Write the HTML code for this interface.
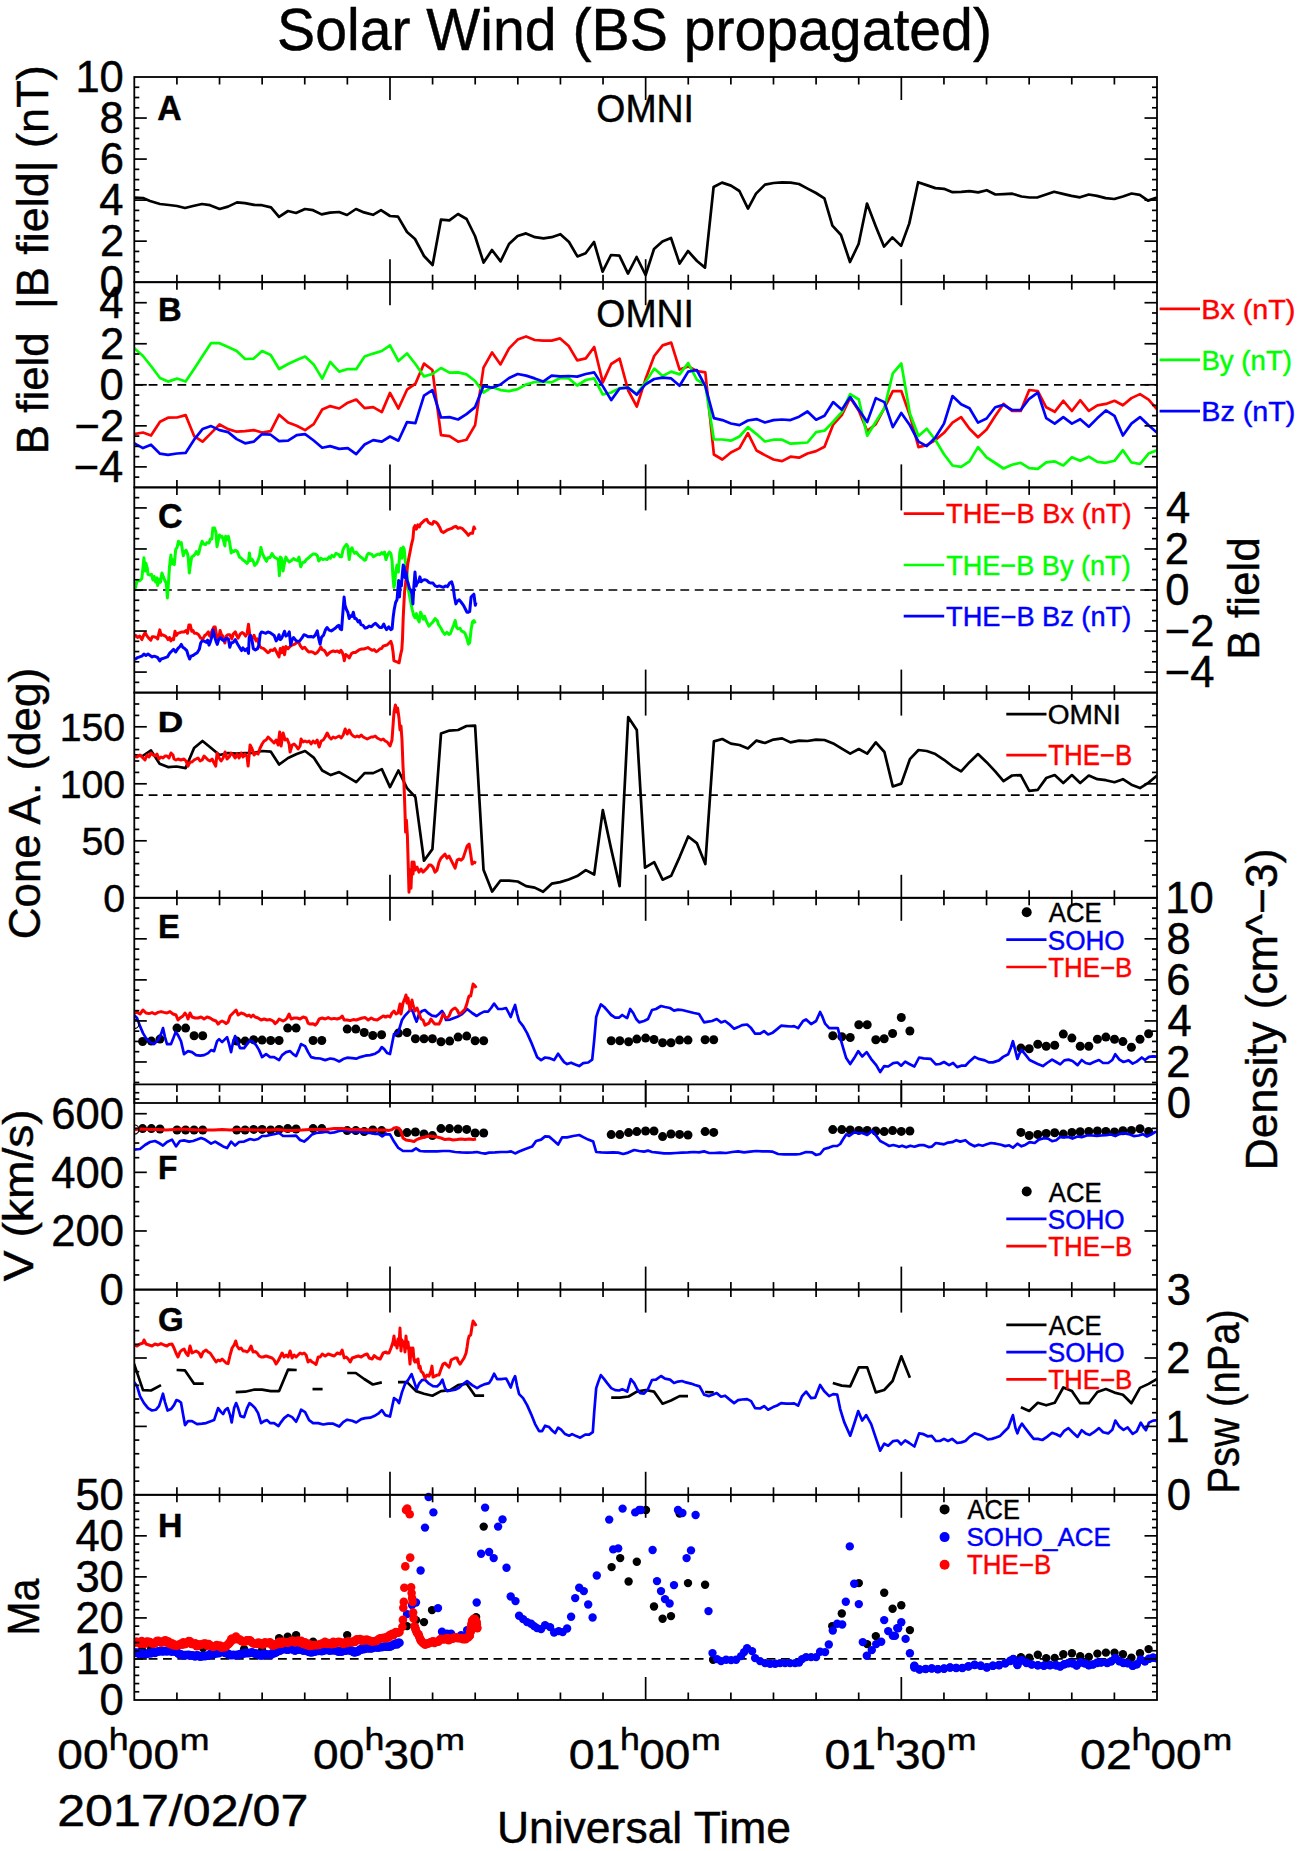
<!DOCTYPE html><html><head><meta charset="utf-8"><style>html,body{margin:0;padding:0;background:#fff;overflow:hidden;width:1299px;height:1851px;}svg{display:block;}text{font-family:"Liberation Sans",sans-serif;}</style></head><body>
<svg width="1299" height="1851" viewBox="0 0 1299 1851">
<rect width="1299" height="1851" fill="#fff"/>
<defs><clipPath id="cp"><rect x="134.3" y="77" width="1022.70" height="1623"/></clipPath></defs>
<line x1="134.30" y1="384.80" x2="1157.00" y2="384.80" stroke="#000" stroke-width="1.7" stroke-dasharray="8.8,5.57"/>
<line x1="134.30" y1="590.00" x2="1157.00" y2="590.00" stroke="#000" stroke-width="1.7" stroke-dasharray="8.8,5.57"/>
<line x1="134.30" y1="795.20" x2="1157.00" y2="795.20" stroke="#000" stroke-width="1.7" stroke-dasharray="8.8,5.57"/>
<line x1="134.30" y1="1658.96" x2="1157.00" y2="1658.96" stroke="#000" stroke-width="1.7" stroke-dasharray="8.8,5.57"/>
<g clip-path="url(#cp)">
<polyline points="134.0,197.6 143.0,198.0 150.0,201.0 160.0,204.0 169.0,205.0 177.0,206.0 185.0,208.0 193.0,206.0 202.0,204.0 210.0,205.2 219.6,209.0 228.0,206.6 237.0,202.4 245.0,203.2 254.0,204.8 262.0,205.2 271.0,207.4 279.0,216.8 288.0,211.0 296.0,213.0 305.0,209.0 313.0,210.2 321.6,214.4 330.0,212.6 339.0,212.0 347.0,215.0 356.0,209.0 364.0,212.4 373.0,214.8 381.0,210.2 390.0,216.0 398.0,216.6 407.0,232.0 415.0,239.0 424.0,256.0 432.6,265.0 441.0,219.6 449.4,220.4 458.0,214.0 466.6,219.0 475.0,236.0 483.6,262.6 492.0,250.0 500.6,261.4 509.0,244.0 517.6,236.0 526.0,233.4 535.0,237.2 543.6,238.4 551.6,237.2 560.4,234.2 569.0,242.0 577.4,256.4 585.6,253.2 594.0,242.0 602.6,271.6 611.0,255.0 619.4,255.6 628.0,273.6 636.6,257.0 645.6,275.0 654.0,249.0 662.4,241.6 671.0,238.0 679.6,263.6 688.0,251.0 697.0,261.0 705.0,267.6 713.6,187.0 722.0,182.6 731.0,185.6 739.4,191.0 748.0,208.6 756.0,193.6 765.0,184.6 773.6,183.0 782.0,182.4 790.6,182.6 799.0,184.0 807.6,188.6 816.0,193.0 824.4,198.4 832.4,225.6 841.0,235.0 850.0,262.0 858.6,244.0 867.0,203.6 876.0,227.0 884.0,246.6 892.4,237.4 901.1,245.9 909.3,223.4 918.1,182.2 926.6,185.1 935.4,188.1 944.0,188.8 952.5,192.2 961.3,191.8 969.5,191.2 978.2,192.4 986.8,190.2 995.4,194.5 1004.1,194.1 1012.3,193.7 1021.5,196.5 1029.6,197.5 1037.8,197.3 1046.0,194.5 1054.1,191.8 1062.9,193.9 1071.5,195.9 1080.0,197.3 1088.8,194.5 1097.0,195.9 1105.7,198.1 1114.3,199.0 1122.9,196.5 1131.6,193.5 1139.8,194.9 1148.0,200.6 1157.0,197.5" fill="none" stroke="#000" stroke-width="2.7" stroke-linejoin="round" stroke-linecap="butt" />
<polyline points="134.0,434.1 143.0,432.5 151.0,435.5 160.0,421.7 168.0,417.7 177.0,417.5 185.6,415.1 194.1,436.1 202.5,441.7 211.1,433.1 219.5,424.5 228.1,429.1 236.7,431.7 245.1,431.1 253.7,430.1 262.1,432.5 270.7,431.1 279.1,414.7 288.1,422.5 296.7,425.7 305.1,430.1 313.7,424.1 322.2,409.5 330.2,406.1 339.2,408.5 347.8,402.7 356.2,399.5 364.6,408.1 373.2,407.1 381.8,412.1 390.0,392.9 398.4,408.5 407.0,389.7 415.4,383.7 424.0,363.6 432.4,370.0 441.0,435.1 449.5,436.1 458.1,441.7 466.5,439.7 475.1,425.1 483.5,367.6 492.1,352.4 500.5,364.4 509.1,348.4 517.7,339.6 526.1,336.4 534.7,340.0 543.1,340.6 551.7,340.6 560.1,338.4 568.7,346.0 577.2,360.4 585.8,358.4 594.2,347.0 602.8,382.4 611.2,364.0 619.6,358.6 628.2,390.5 636.8,406.5 645.3,379.8 654.2,356.0 662.6,345.4 671.2,342.6 679.6,369.6 688.2,366.4 696.8,371.0 705.3,372.4 713.9,454.5 722.3,459.5 730.9,452.5 739.5,448.1 747.9,433.1 756.5,450.5 764.9,455.1 773.5,459.5 782.1,461.1 790.5,456.7 799.1,457.7 807.5,453.5 816.1,451.1 824.5,446.7 833.2,424.5 841.8,415.1 850.2,397.7 858.8,410.7 867.2,431.1 875.8,424.1 884.4,408.1 892.8,391.1 901.3,391.0 909.9,415.5 918.5,447.1 926.8,445.1 935.4,440.0 944.0,432.8 952.5,422.6 961.1,417.1 969.5,428.7 978.0,437.3 986.6,429.4 995.2,415.9 1003.5,403.9 1012.1,411.0 1020.7,411.0 1029.2,390.0 1037.8,391.0 1046.2,407.3 1054.7,411.8 1063.3,400.8 1071.9,411.0 1080.2,400.2 1088.8,410.8 1097.4,405.3 1105.9,403.9 1114.5,400.8 1122.9,405.3 1131.4,398.1 1140.0,394.1 1148.6,399.6 1157.1,409.4" fill="none" stroke="#ff0000" stroke-width="2.7" stroke-linejoin="round" stroke-linecap="butt" />
<polyline points="134.0,348.0 143.0,356.0 151.0,366.0 160.0,378.0 168.0,381.6 177.0,378.6 185.6,381.6 194.1,369.0 202.5,356.0 211.1,343.0 219.5,343.2 228.1,347.0 236.7,351.0 245.1,359.0 253.7,358.6 262.1,351.0 270.7,355.0 279.1,369.0 288.1,364.0 296.7,360.0 305.1,356.6 313.7,364.4 322.2,378.6 330.2,362.0 339.2,371.6 347.8,369.0 356.2,369.2 364.6,356.6 373.2,353.6 381.8,351.0 390.0,345.3 398.4,361.0 407.0,353.4 415.4,364.0 424.0,376.4 432.4,374.0 441.0,368.0 449.5,372.6 458.1,372.4 466.5,374.4 475.1,381.0 483.5,392.5 492.1,387.1 500.5,390.1 509.1,391.1 517.7,389.1 526.1,384.5 534.7,382.0 543.1,381.6 551.7,382.4 560.1,378.0 568.7,378.4 577.2,385.5 585.8,380.0 594.2,378.4 602.8,394.5 611.2,392.5 619.6,388.1 628.2,387.7 636.8,394.1 645.3,382.6 654.2,368.6 662.6,376.0 671.2,371.6 679.6,374.4 688.2,363.0 696.8,379.6 705.3,385.1 713.9,439.5 722.3,439.5 730.9,440.7 739.5,436.5 747.9,427.1 756.5,434.1 764.9,441.5 773.5,439.7 782.1,439.7 790.5,443.7 799.1,443.1 807.5,442.5 816.1,432.1 824.5,430.7 833.2,421.7 841.8,412.1 850.2,394.1 858.8,399.5 867.2,435.7 875.8,421.7 884.4,408.1 892.8,373.4 901.3,363.5 909.9,413.4 918.5,435.9 926.8,428.7 935.4,440.0 944.0,454.2 952.5,465.5 961.1,466.9 969.5,461.4 978.0,447.1 986.6,457.3 995.2,463.0 1003.5,468.5 1012.1,464.8 1020.7,462.8 1029.2,468.1 1037.8,468.9 1046.2,462.4 1054.7,461.4 1063.3,465.5 1071.9,457.3 1080.2,460.8 1088.8,456.7 1097.4,461.8 1105.9,462.8 1114.5,460.8 1122.9,450.2 1131.4,462.4 1140.0,464.0 1148.6,453.6 1157.1,450.2" fill="none" stroke="#00ff00" stroke-width="2.7" stroke-linejoin="round" stroke-linecap="butt" />
<polyline points="134.0,443.1 143.0,448.1 151.0,444.7 160.0,453.7 168.0,454.9 177.0,453.5 185.6,452.9 194.1,439.7 202.5,429.1 211.1,426.1 219.5,430.1 228.1,432.1 236.7,439.1 245.1,443.3 253.7,441.7 262.1,434.1 270.7,434.7 279.1,441.1 288.1,440.7 296.7,435.1 305.1,434.1 313.7,440.5 322.2,447.7 330.2,446.1 339.2,448.9 347.8,448.1 356.2,454.1 364.6,444.5 373.2,440.1 381.8,441.7 390.0,436.5 398.4,440.7 407.0,422.1 415.4,423.1 424.0,395.7 432.4,390.1 441.0,417.5 449.5,417.1 458.1,419.5 466.5,414.1 475.1,407.1 483.5,386.1 492.1,387.7 500.5,384.5 509.1,378.0 517.7,374.0 526.1,375.6 534.7,378.4 543.1,381.6 551.7,375.6 560.1,376.4 568.7,376.0 577.2,376.6 585.8,374.0 594.2,372.4 602.8,386.1 611.2,400.1 619.6,388.5 628.2,387.7 636.8,394.7 645.3,384.5 654.2,379.0 662.6,377.6 671.2,378.4 679.6,385.7 688.2,371.6 696.8,370.0 705.3,386.1 713.9,418.1 722.3,420.1 730.9,423.5 739.5,425.1 747.9,420.5 756.5,419.1 764.9,422.5 773.5,420.1 782.1,419.5 790.5,420.1 799.1,416.7 807.5,411.5 816.1,419.7 824.5,415.7 833.2,402.1 841.8,409.7 850.2,397.1 858.8,409.7 867.2,422.1 875.8,398.1 884.4,402.1 892.8,427.1 901.3,413.0 909.9,425.3 918.5,441.6 926.8,446.1 935.4,437.5 944.0,423.6 952.5,396.1 961.1,404.3 969.5,408.3 978.0,422.6 986.6,418.5 995.2,407.3 1003.5,404.9 1012.1,410.0 1020.7,410.0 1029.2,398.8 1037.8,392.6 1046.2,418.1 1054.7,423.6 1063.3,417.1 1071.9,423.6 1080.2,419.2 1088.8,426.7 1097.4,418.1 1105.9,410.4 1114.5,415.9 1122.9,435.5 1131.4,423.6 1140.0,417.1 1148.6,425.3 1157.1,432.8" fill="none" stroke="#0000ff" stroke-width="2.7" stroke-linejoin="round" stroke-linecap="butt" />
<polyline points="133.5,582.1 135.5,587.6 136.9,581.4 139.7,580.7 141.8,578.6 143.2,565.4 143.9,557.8 145.0,571.0 145.9,563.3 147.3,568.2 148.0,574.4 150.1,575.1 151.5,574.4 152.9,580.0 154.2,576.5 155.6,582.1 157.0,577.9 157.7,585.5 159.1,579.3 160.5,582.1 161.9,573.0 163.3,576.5 164.6,580.0 166.3,583.4 167.4,598.0 168.5,582.1 169.5,566.8 170.9,555.0 171.6,564.0 173.0,559.9 174.3,564.7 175.7,549.5 177.1,547.4 178.5,541.2 179.9,543.9 181.3,542.6 182.4,550.2 183.3,555.7 184.7,551.6 186.1,550.2 187.5,553.6 188.2,557.1 189.3,573.0 190.3,565.4 191.7,557.1 193.7,555.7 195.1,554.1 196.5,551.6 197.9,554.3 198.9,553.0 200.0,547.4 201.4,543.3 202.1,541.2 203.4,543.9 205.5,544.6 206.9,542.6 209.0,543.0 210.4,539.1 211.8,539.1 212.9,528.0 214.5,528.0 215.9,532.2 217.0,546.7 218.0,541.9 219.4,534.9 220.8,537.0 222.1,536.3 223.5,540.5 224.9,546.0 225.6,536.3 227.0,539.8 228.4,536.3 229.8,543.3 231.2,553.0 232.5,550.9 233.9,551.6 235.3,550.2 237.4,551.6 239.5,557.1 240.8,557.8 242.9,559.9 245.0,561.3 247.1,563.3 248.5,561.3 249.4,553.0 250.5,560.6 251.9,559.2 253.3,561.3 254.7,565.4 256.8,563.3 258.2,559.9 259.6,555.7 260.9,547.4 262.3,553.0 264.4,557.8 266.5,561.3 267.9,557.8 269.9,557.8 272.0,553.6 274.1,557.1 276.9,558.5 278.3,559.9 279.4,575.8 280.3,557.1 281.7,558.5 283.1,571.0 284.5,562.7 285.9,557.1 287.3,559.9 289.3,562.0 291.4,560.6 293.5,558.5 295.6,559.9 297.7,560.6 299.0,557.1 300.7,566.8 302.5,562.7 304.6,562.0 306.7,559.2 308.7,557.8 311.1,555.4 313.2,554.0 315.2,554.0 317.3,555.4 318.7,561.0 320.8,558.2 322.9,559.6 324.9,558.9 327.0,559.6 329.1,556.8 330.5,558.2 331.9,555.4 333.9,556.8 336.0,553.3 337.4,554.0 338.8,554.7 340.2,556.8 341.6,556.8 343.0,549.9 344.3,547.1 346.4,544.3 347.8,546.4 349.2,559.6 350.6,549.9 352.0,547.8 353.3,551.3 354.7,553.3 356.1,552.0 358.2,554.7 360.3,556.8 362.4,558.2 364.4,560.3 365.8,559.6 367.2,554.7 368.6,553.3 370.7,554.0 372.1,554.7 373.4,556.8 375.5,555.4 376.9,554.7 378.3,554.0 379.7,554.7 381.8,552.7 383.1,554.0 384.5,552.0 385.9,559.6 388.0,554.0 389.4,552.0 390.8,553.3 392.1,561.0 392.8,574.8 393.9,587.3 394.9,583.1 395.6,572.1 397.0,565.1 398.4,572.1 399.8,552.7 400.9,548.5 401.8,558.2 403.2,547.1 404.2,549.2 405.3,561.0 406.7,569.3 408.1,588.7 409.5,595.6 410.8,602.5 412.2,609.5 413.6,615.0 415.0,617.8 416.4,613.6 417.8,619.2 419.2,621.9 420.5,612.2 421.9,615.0 423.3,619.2 424.7,616.4 426.1,620.5 427.5,623.3 428.9,626.1 430.9,624.0 433.0,621.9 435.1,618.5 437.2,620.5 438.6,624.7 440.6,627.5 442.7,631.6 444.8,634.4 446.9,632.3 449.0,634.4 450.3,633.7 452.4,628.2 453.8,624.7 455.2,620.5 456.6,627.5 458.0,628.9 460.0,628.2 461.4,630.9 462.8,631.6 464.9,633.0 467.0,638.6 468.4,644.1 469.7,642.7 471.1,629.6 472.5,621.9 473.9,620.5 475.3,623.3" fill="none" stroke="#00ff00" stroke-width="3.0" stroke-linejoin="round" stroke-linecap="butt" />
<polyline points="133.5,636.8 135.5,635.4 137.6,637.5 139.7,636.1 141.8,639.6 143.9,634.7 145.2,632.6 146.6,635.4 148.7,638.2 150.8,640.2 152.2,636.8 154.2,636.8 156.3,637.5 157.7,638.9 159.1,632.6 159.8,629.9 161.2,635.4 162.6,634.7 163.9,635.4 165.3,636.1 166.7,637.5 168.1,639.6 169.5,637.5 170.9,640.9 172.3,638.9 173.6,639.6 175.0,631.2 176.4,635.4 177.8,633.3 179.9,632.6 182.0,631.9 184.0,631.9 186.1,630.5 187.5,633.3 188.9,625.0 190.3,625.0 191.7,631.2 193.0,630.5 194.4,633.3 196.5,633.3 198.6,634.7 200.7,638.2 202.7,638.9 204.8,635.4 206.2,634.7 208.3,631.9 209.7,636.1 211.1,633.3 212.4,629.9 213.8,627.1 215.2,627.1 216.6,636.1 218.7,638.9 220.1,630.5 221.5,634.7 222.8,636.1 224.9,643.0 226.3,636.1 227.7,634.7 229.8,634.7 231.8,638.9 233.2,634.0 235.3,631.9 236.7,635.4 238.1,638.2 240.2,634.0 242.2,632.6 243.6,633.3 245.7,636.1 247.1,633.3 248.5,624.3 249.9,636.1 251.2,636.8 252.6,638.2 254.0,635.4 256.1,640.9 257.5,638.9 259.6,646.5 261.6,647.9 263.7,648.6 265.8,650.6 267.9,652.7 269.3,652.0 270.6,649.9 272.7,650.6 274.8,648.6 276.9,652.7 279.0,656.9 280.3,648.6 281.7,652.7 283.1,647.2 284.5,654.8 285.9,646.5 288.0,648.6 290.0,646.5 292.1,645.1 294.2,644.4 296.3,643.0 298.4,641.6 300.4,645.8 302.5,648.6 304.6,647.2 306.7,649.9 308.7,652.0 311.1,651.7 313.2,652.4 315.2,653.8 317.3,652.4 319.4,649.6 320.8,646.9 322.2,649.6 324.2,650.3 325.6,652.4 327.0,655.2 329.1,653.1 331.2,651.7 333.3,651.0 335.3,651.7 337.4,651.0 339.5,652.4 340.9,650.3 342.3,652.4 343.6,656.6 344.3,660.7 345.7,654.5 347.8,655.9 349.2,658.0 351.3,653.8 353.3,652.4 355.4,652.4 357.5,651.0 359.6,649.6 361.7,649.0 363.7,649.0 365.8,648.3 367.9,647.6 370.0,649.0 372.1,650.3 374.1,649.6 376.2,651.7 377.6,651.0 379.7,649.0 381.8,648.3 383.1,646.2 385.2,645.5 387.3,644.8 389.4,642.7 390.8,641.3 392.1,645.5 393.1,652.4 393.9,660.7 395.6,661.4 397.7,662.1 399.1,662.8 400.5,655.2 401.8,649.6 402.5,638.6 403.2,617.8 403.9,603.9 404.6,591.5 405.6,583.1 406.7,573.4 407.8,563.7 408.8,558.2 410.2,551.3 411.5,544.3 412.9,538.8 413.9,527.7 415.0,525.6 416.4,529.1 417.8,524.9 419.2,527.0 420.5,524.2 422.6,522.2 424.7,520.1 426.8,519.4 428.2,522.2 430.2,523.6 432.3,524.2 433.7,521.5 435.8,522.2 437.9,524.2 439.9,527.7 441.3,531.2 443.4,532.6 445.5,531.2 447.6,529.8 449.6,529.1 451.7,528.4 453.8,527.0 455.9,526.3 458.0,528.4 460.0,527.7 462.1,528.4 464.2,530.5 466.3,532.6 468.4,535.3 470.4,533.3 472.5,533.3 473.9,527.0 475.3,529.8" fill="none" stroke="#ff0000" stroke-width="3.0" stroke-linejoin="round" stroke-linecap="butt" />
<polyline points="133.5,659.0 135.5,659.0 137.6,657.6 139.7,656.9 141.8,656.2 143.9,654.1 145.9,655.5 148.0,654.1 150.1,655.5 152.2,656.9 154.2,656.2 156.3,656.9 157.7,657.6 159.8,661.0 161.2,659.0 163.3,658.3 165.3,657.6 167.4,656.9 169.5,653.4 171.6,651.3 173.6,649.3 175.7,652.0 177.8,648.6 179.9,646.5 181.3,644.4 182.7,647.2 184.7,648.6 186.8,650.6 188.2,655.5 189.6,659.0 191.0,656.2 193.0,655.5 195.1,654.1 197.2,652.7 199.3,649.3 200.7,643.0 202.1,640.9 204.1,640.9 206.2,642.3 207.6,640.2 209.0,645.1 210.4,641.6 211.8,636.8 213.1,629.9 214.5,636.1 215.9,640.9 217.3,644.4 218.7,639.6 220.8,637.5 222.1,639.6 224.2,640.9 226.3,638.2 228.4,638.9 229.8,647.2 231.2,643.0 233.2,642.3 235.3,639.6 237.4,643.7 239.5,647.2 241.5,650.6 242.9,647.9 245.0,650.6 247.1,648.6 248.5,653.4 249.2,637.5 250.5,635.4 251.9,639.6 253.3,648.6 255.4,649.9 257.5,648.6 258.9,645.1 260.2,634.0 261.6,631.9 263.7,632.6 265.8,633.3 267.9,631.9 269.9,632.6 272.0,634.0 274.1,635.4 276.2,640.9 277.6,638.9 279.0,634.7 280.3,639.6 281.7,638.2 283.1,634.7 284.5,631.2 285.9,636.1 288.0,634.7 289.3,631.9 290.7,645.1 292.1,639.6 293.5,637.5 295.6,640.2 297.7,641.6 299.7,640.9 301.8,638.2 303.9,634.7 306.0,635.4 308.1,636.8 311.1,636.5 313.2,637.2 315.2,635.1 317.3,630.9 318.7,638.6 320.1,644.1 321.5,637.2 323.6,635.1 325.6,629.6 327.0,627.5 329.1,630.2 331.2,630.9 333.3,629.6 335.3,628.2 337.4,626.1 338.8,625.4 340.2,628.9 341.6,629.6 343.0,610.8 344.1,597.0 345.0,605.3 346.4,609.5 347.8,612.2 349.2,618.5 350.6,615.7 352.0,616.4 353.3,612.2 354.7,618.5 356.1,618.5 358.2,621.9 359.6,620.5 361.0,624.7 363.0,625.4 365.1,628.2 367.2,627.5 369.3,626.1 371.4,626.8 373.4,624.7 375.5,623.3 377.6,625.4 379.7,627.5 381.8,627.5 383.8,624.0 385.2,627.5 386.6,629.6 388.7,626.8 390.8,629.6 392.1,628.9 393.1,617.8 394.2,609.5 395.6,602.5 397.0,599.8 397.7,591.5 398.7,580.4 399.5,597.0 400.5,581.8 401.4,585.9 402.5,572.1 403.2,565.1 404.2,566.5 405.0,577.6 406.0,572.1 407.0,580.4 408.1,583.1 409.5,588.7 410.8,590.1 412.0,594.2 412.9,603.9 413.9,585.9 415.0,572.1 416.1,585.9 417.1,583.1 418.5,581.8 419.9,576.9 421.2,581.8 422.6,580.4 424.7,579.7 426.8,580.4 428.9,582.4 430.9,583.1 433.0,583.1 435.1,585.9 437.2,586.6 439.3,585.9 441.3,586.6 443.4,587.3 445.5,585.9 447.6,586.6 449.6,583.1 451.7,581.8 453.1,586.6 454.5,597.0 455.9,603.9 457.3,601.2 459.3,599.8 461.4,602.5 463.5,605.3 465.6,609.5 467.0,612.2 468.4,612.2 469.7,611.5 471.1,597.0 472.5,595.6 473.9,594.2 475.3,605.3 476.0,602.5" fill="none" stroke="#0000ff" stroke-width="3.0" stroke-linejoin="round" stroke-linecap="butt" />
<polyline points="134.2,755.0 142.6,756.0 151.0,750.4 159.6,763.7 168.0,767.1 176.6,766.5 185.6,768.1 194.1,748.0 202.5,741.0 211.1,748.0 219.5,755.0 228.1,753.0 236.5,753.6 245.1,753.0 253.7,753.0 262.1,751.0 270.7,751.6 279.1,764.5 288.1,758.0 296.7,754.0 305.1,751.0 313.7,757.6 322.2,770.5 330.8,775.1 339.2,772.1 347.8,777.1 356.2,782.1 364.6,773.1 373.2,773.1 381.8,769.1 390.0,787.1 398.4,770.5 407.0,788.1 415.4,797.1 424.0,860.7 432.4,849.1 441.0,733.6 449.5,730.6 458.1,730.0 466.5,726.0 475.1,725.6 483.5,869.7 492.1,891.6 500.5,880.5 509.1,880.7 517.7,881.5 526.1,886.1 534.7,887.6 543.1,891.8 551.7,883.7 560.1,882.1 568.7,879.5 577.2,876.1 585.8,870.1 594.2,874.5 602.8,810.1 611.2,849.1 619.6,886.1 628.2,717.0 636.8,730.0 645.0,867.7 654.2,862.1 662.6,879.7 671.2,875.7 679.6,857.1 688.2,836.5 696.8,843.1 705.3,864.1 713.9,741.4 722.3,739.0 730.9,743.6 739.5,745.0 747.9,748.4 756.5,740.6 764.9,743.0 773.5,739.6 782.1,738.4 790.5,742.4 799.1,740.6 807.5,741.0 816.1,739.6 824.5,740.0 833.2,743.4 841.8,748.6 850.2,753.6 858.8,749.0 867.2,753.6 875.8,742.4 884.4,752.0 892.8,786.5 901.3,783.6 909.9,759.2 918.5,750.0 926.8,751.0 935.4,754.1 944.0,759.8 952.5,766.3 961.1,771.4 969.5,762.2 978.0,754.1 986.6,762.2 995.2,771.4 1003.5,781.2 1012.1,775.5 1020.7,775.1 1029.2,790.8 1037.8,789.8 1046.2,778.1 1054.7,775.1 1063.3,783.0 1071.9,775.1 1080.2,783.0 1088.8,775.5 1097.4,779.2 1105.9,780.2 1114.5,782.2 1122.9,779.2 1131.4,784.7 1140.0,788.1 1148.6,782.6 1157.1,775.5" fill="none" stroke="#000" stroke-width="2.7" stroke-linejoin="round" stroke-linecap="butt" />
<polyline points="134.2,756.4 137.0,757.0 140.0,755.0 143.0,758.0 145.0,760.0 147.0,755.0 149.0,757.0 151.0,753.0 153.0,755.0 155.0,756.0 157.0,754.0 159.0,759.0 161.0,757.0 163.0,758.0 165.0,756.0 167.0,756.0 169.0,758.0 171.0,753.0 173.0,755.0 174.0,759.0 176.0,760.0 178.0,759.0 181.0,760.0 184.0,759.0 186.0,761.0 188.0,766.1 190.0,762.0 192.0,762.0 194.1,760.0 196.1,759.0 198.1,758.0 200.1,761.0 202.1,760.0 204.1,756.0 206.1,758.0 208.1,760.0 210.1,761.0 212.1,759.0 214.1,763.1 215.7,766.1 217.1,753.0 219.1,758.0 221.1,761.0 223.1,758.0 225.1,752.0 227.1,759.0 229.1,757.0 231.1,753.0 233.1,755.0 235.1,758.0 237.1,754.0 239.1,758.0 241.1,753.0 243.1,757.0 245.1,754.0 247.1,757.0 248.1,766.1 250.1,745.0 252.1,749.0 254.1,755.0 256.1,753.0 258.1,754.0 260.1,748.0 262.1,744.0 264.1,741.0 266.1,740.0 268.1,737.0 270.1,739.0 272.1,741.0 274.1,743.0 276.1,740.0 278.1,745.0 279.7,732.0 281.1,746.0 283.1,733.0 285.1,740.0 287.1,739.0 289.1,744.0 290.1,752.0 292.1,745.0 294.1,744.0 296.1,746.0 298.1,749.0 300.1,746.0 301.1,739.0 303.1,742.0 305.1,741.0 307.1,742.0 309.1,741.0 311.1,744.0 313.1,741.0 315.1,743.0 317.1,740.0 319.2,747.0 321.2,741.0 323.2,740.0 325.2,737.0 327.2,733.0 329.2,737.0 331.2,739.0 333.2,737.0 335.2,738.0 337.2,737.0 339.2,736.0 341.2,738.0 343.2,735.0 345.2,729.0 347.2,734.0 349.2,730.0 351.2,734.0 353.2,736.0 355.2,737.0 357.2,736.0 359.2,737.0 361.2,735.0 363.2,737.0 365.2,738.0 367.2,739.0 369.2,738.0 371.2,737.0 373.2,737.0 375.2,736.0 377.2,738.0 379.2,739.0 381.2,740.0 383.2,739.0 385.2,741.0 387.2,742.0 390.0,746.0 392.0,740.0 393.0,726.0 394.0,712.0 395.4,705.0 396.6,712.0 397.6,708.0 399.0,718.0 400.0,730.0 401.0,726.0 402.0,740.0 403.0,766.1 404.0,784.1 405.0,812.1 405.6,832.1 406.4,820.1 407.4,836.1 408.2,864.1 409.0,892.2 410.0,870.1 411.0,888.2 412.0,862.1 413.0,874.1 414.0,862.1 415.0,870.1 417.0,867.1 419.0,872.1 421.0,869.1 423.0,872.1 425.0,870.1 427.0,868.1 429.0,865.1 431.0,865.1 433.0,867.1 435.0,872.1 437.0,870.1 439.0,862.1 441.0,858.1 443.0,856.1 445.0,854.1 447.0,858.1 449.1,856.1 451.1,860.1 453.1,864.1 455.1,868.1 457.1,860.1 459.1,859.1 461.1,860.1 463.1,858.1 465.1,852.1 467.1,846.1 469.1,844.1 470.7,854.1 472.1,864.1 474.1,862.1 476.1,863.1" fill="none" stroke="#ff0000" stroke-width="3.0" stroke-linejoin="round" stroke-linecap="butt" />
<circle cx="142.6" cy="1041.5" r="4.5" fill="#000"/>
<circle cx="151.4" cy="1041.1" r="4.5" fill="#000"/>
<circle cx="160.0" cy="1039.1" r="4.5" fill="#000"/>
<circle cx="177.0" cy="1028.1" r="4.5" fill="#000"/>
<circle cx="185.6" cy="1028.1" r="4.5" fill="#000"/>
<circle cx="194.1" cy="1035.7" r="4.5" fill="#000"/>
<circle cx="202.7" cy="1035.7" r="4.5" fill="#000"/>
<circle cx="236.7" cy="1041.1" r="4.5" fill="#000"/>
<circle cx="245.1" cy="1041.1" r="4.5" fill="#000"/>
<circle cx="253.7" cy="1039.7" r="4.5" fill="#000"/>
<circle cx="262.1" cy="1040.1" r="4.5" fill="#000"/>
<circle cx="270.7" cy="1040.5" r="4.5" fill="#000"/>
<circle cx="279.1" cy="1040.5" r="4.5" fill="#000"/>
<circle cx="287.7" cy="1028.1" r="4.5" fill="#000"/>
<circle cx="296.1" cy="1028.1" r="4.5" fill="#000"/>
<circle cx="313.1" cy="1040.5" r="4.5" fill="#000"/>
<circle cx="321.8" cy="1040.5" r="4.5" fill="#000"/>
<circle cx="347.2" cy="1029.1" r="4.5" fill="#000"/>
<circle cx="355.8" cy="1029.1" r="4.5" fill="#000"/>
<circle cx="364.2" cy="1032.5" r="4.5" fill="#000"/>
<circle cx="372.8" cy="1035.5" r="4.5" fill="#000"/>
<circle cx="381.6" cy="1034.7" r="4.5" fill="#000"/>
<circle cx="398.4" cy="1033.1" r="4.5" fill="#000"/>
<circle cx="407.0" cy="1032.5" r="4.5" fill="#000"/>
<circle cx="415.4" cy="1038.7" r="4.5" fill="#000"/>
<circle cx="424.0" cy="1038.7" r="4.5" fill="#000"/>
<circle cx="432.4" cy="1038.7" r="4.5" fill="#000"/>
<circle cx="441.0" cy="1041.7" r="4.5" fill="#000"/>
<circle cx="449.7" cy="1041.1" r="4.5" fill="#000"/>
<circle cx="458.1" cy="1037.1" r="4.5" fill="#000"/>
<circle cx="466.7" cy="1036.1" r="4.5" fill="#000"/>
<circle cx="475.1" cy="1040.7" r="4.5" fill="#000"/>
<circle cx="483.7" cy="1040.7" r="4.5" fill="#000"/>
<circle cx="611.2" cy="1040.7" r="4.5" fill="#000"/>
<circle cx="619.8" cy="1040.7" r="4.5" fill="#000"/>
<circle cx="628.6" cy="1041.7" r="4.5" fill="#000"/>
<circle cx="636.8" cy="1039.1" r="4.5" fill="#000"/>
<circle cx="645.6" cy="1038.1" r="4.5" fill="#000"/>
<circle cx="654.0" cy="1039.5" r="4.5" fill="#000"/>
<circle cx="662.6" cy="1042.7" r="4.5" fill="#000"/>
<circle cx="671.0" cy="1042.7" r="4.5" fill="#000"/>
<circle cx="679.6" cy="1040.1" r="4.5" fill="#000"/>
<circle cx="688.0" cy="1040.1" r="4.5" fill="#000"/>
<circle cx="705.1" cy="1039.7" r="4.5" fill="#000"/>
<circle cx="713.7" cy="1039.7" r="4.5" fill="#000"/>
<circle cx="832.8" cy="1035.7" r="4.5" fill="#000"/>
<circle cx="841.8" cy="1036.7" r="4.5" fill="#000"/>
<circle cx="850.2" cy="1037.5" r="4.5" fill="#000"/>
<circle cx="858.8" cy="1024.7" r="4.5" fill="#000"/>
<circle cx="867.2" cy="1024.7" r="4.5" fill="#000"/>
<circle cx="875.8" cy="1039.7" r="4.5" fill="#000"/>
<circle cx="884.2" cy="1038.7" r="4.5" fill="#000"/>
<circle cx="892.6" cy="1033.5" r="4.5" fill="#000"/>
<circle cx="901.3" cy="1017.5" r="4.5" fill="#000"/>
<circle cx="909.9" cy="1031.0" r="4.5" fill="#000"/>
<circle cx="1020.9" cy="1048.1" r="4.5" fill="#000"/>
<circle cx="1029.2" cy="1048.7" r="4.5" fill="#000"/>
<circle cx="1037.8" cy="1044.3" r="4.5" fill="#000"/>
<circle cx="1046.2" cy="1046.3" r="4.5" fill="#000"/>
<circle cx="1054.7" cy="1045.3" r="4.5" fill="#000"/>
<circle cx="1063.3" cy="1034.1" r="4.5" fill="#000"/>
<circle cx="1071.9" cy="1038.1" r="4.5" fill="#000"/>
<circle cx="1080.2" cy="1046.3" r="4.5" fill="#000"/>
<circle cx="1088.8" cy="1046.3" r="4.5" fill="#000"/>
<circle cx="1097.4" cy="1039.2" r="4.5" fill="#000"/>
<circle cx="1105.9" cy="1037.1" r="4.5" fill="#000"/>
<circle cx="1114.5" cy="1039.2" r="4.5" fill="#000"/>
<circle cx="1122.9" cy="1041.6" r="4.5" fill="#000"/>
<circle cx="1131.4" cy="1047.3" r="4.5" fill="#000"/>
<circle cx="1140.0" cy="1039.2" r="4.5" fill="#000"/>
<circle cx="1148.6" cy="1033.8" r="4.5" fill="#000"/>
<polyline points="134.0,1015.0 137.0,1018.0 140.0,1026.1 143.0,1033.1 146.0,1038.1 150.0,1042.1 154.0,1044.1 158.0,1040.1 161.0,1034.1 163.0,1028.1 165.0,1037.1 167.0,1044.1 171.0,1044.1 173.0,1039.1 175.6,1032.1 178.0,1035.1 181.0,1041.1 184.0,1054.1 188.0,1051.1 192.0,1052.1 196.1,1055.1 200.1,1055.7 204.1,1055.1 208.1,1053.1 211.1,1050.1 214.1,1051.1 217.1,1041.1 219.1,1039.1 222.1,1042.1 225.1,1039.1 227.1,1037.1 229.1,1044.1 231.1,1052.1 233.1,1042.1 235.1,1036.1 237.1,1041.1 240.1,1048.1 244.1,1048.1 247.1,1044.1 250.1,1040.5 253.1,1042.1 256.1,1045.1 259.1,1050.1 262.1,1057.1 266.1,1054.1 270.1,1057.1 274.1,1057.1 279.1,1060.1 282.1,1055.1 286.1,1052.1 290.1,1051.1 293.1,1054.1 296.1,1056.1 299.1,1049.1 301.1,1044.1 305.1,1046.1 308.1,1052.1 311.1,1057.1 315.1,1058.1 320.2,1058.5 325.2,1060.1 330.2,1058.5 334.2,1059.1 339.2,1061.5 343.2,1059.1 347.2,1057.7 352.2,1058.1 356.2,1058.7 360.2,1057.1 365.2,1055.7 370.2,1055.1 375.2,1053.7 379.2,1051.1 381.8,1047.1 384.2,1049.1 387.2,1053.1 390.0,1054.1 394.0,1034.1 398.0,1033.1 402.0,1020.0 405.0,1015.6 408.0,1012.4 411.0,1009.0 413.0,1012.0 415.0,1018.0 416.6,1021.6 419.0,1014.0 422.0,1011.0 425.0,1010.0 428.0,1013.0 432.0,1015.6 436.0,1016.4 439.0,1014.0 442.0,1011.0 444.0,1014.0 446.0,1020.0 450.1,1019.6 454.1,1018.0 458.1,1016.4 462.1,1014.0 467.1,1009.0 472.1,1013.0 476.7,1016.0 480.1,1013.6 484.1,1011.6 488.1,1011.6 491.1,1008.0 494.1,1003.6 498.1,1009.0 502.1,1009.0 506.1,1008.0 508.7,1013.0 510.7,1017.0 513.1,1010.0 515.1,1005.0 517.1,1014.0 519.1,1021.0 523.1,1026.1 527.1,1033.1 531.1,1042.1 535.1,1052.1 537.1,1057.1 541.1,1060.1 545.1,1057.5 549.1,1058.1 554.1,1060.1 558.1,1053.7 561.1,1058.1 564.1,1062.1 567.1,1064.1 571.1,1062.7 575.2,1064.5 579.2,1066.1 583.2,1063.1 588.2,1062.5 592.2,1059.7 594.2,1040.1 596.2,1017.0 598.2,1011.0 600.8,1004.4 604.2,1007.0 607.2,1010.4 611.2,1015.0 615.2,1017.6 619.2,1017.6 622.2,1015.0 625.2,1017.0 627.2,1018.0 630.2,1009.0 633.2,1013.0 636.2,1019.0 639.2,1022.4 644.0,1021.0 648.0,1019.0 652.0,1010.0 656.0,1009.0 661.0,1006.0 665.0,1007.0 670.0,1008.0 674.0,1010.6 678.0,1009.6 682.0,1010.0 686.0,1011.0 690.0,1012.0 694.0,1013.0 699.0,1014.0 704.1,1022.4 708.1,1021.6 712.1,1021.0 716.7,1019.0 721.1,1022.4 725.1,1021.0 729.1,1024.1 734.1,1028.7 738.1,1027.1 742.1,1025.1 747.1,1024.5 751.1,1028.1 755.1,1033.7 760.1,1033.7 764.1,1031.1 768.1,1034.5 772.1,1033.1 777.1,1029.1 781.1,1025.7 786.1,1026.1 791.1,1026.5 794.1,1026.1 798.1,1028.1 803.1,1021.0 806.1,1019.4 811.1,1024.1 816.1,1021.0 820.1,1012.0 822.1,1016.0 825.1,1023.7 829.2,1028.1 833.2,1028.1 837.8,1028.1 840.2,1037.7 843.2,1048.1 846.2,1058.1 850.2,1064.1 854.2,1058.1 858.2,1051.1 862.2,1056.5 866.6,1052.1 871.2,1059.1 876.2,1065.1 880.2,1072.1 884.2,1066.1 888.2,1066.5 893.2,1063.1 897.2,1062.5 898.1,1063.0 901.1,1065.7 905.2,1061.6 909.3,1064.0 914.4,1066.5 919.1,1057.5 923.6,1058.3 930.7,1058.9 935.8,1064.4 939.9,1064.0 944.0,1062.0 949.1,1065.1 953.1,1063.0 957.2,1067.1 961.3,1065.7 965.4,1065.7 969.5,1061.4 974.6,1056.9 978.6,1058.9 984.8,1060.4 988.8,1062.4 992.9,1062.4 999.0,1060.4 1003.1,1056.9 1008.2,1054.2 1010.9,1047.7 1012.9,1041.2 1015.4,1050.8 1017.4,1058.9 1019.4,1053.8 1021.5,1049.8 1025.6,1054.9 1029.6,1060.0 1037.8,1064.0 1042.9,1066.1 1047.0,1063.0 1052.1,1059.6 1056.2,1062.0 1060.2,1064.4 1064.3,1060.4 1068.4,1059.6 1072.5,1061.0 1077.6,1065.1 1081.7,1060.0 1085.7,1063.0 1089.8,1064.0 1093.9,1062.0 1099.0,1060.0 1103.1,1063.0 1108.2,1063.0 1112.3,1060.0 1115.3,1054.2 1119.4,1059.6 1123.5,1062.0 1128.6,1060.4 1132.7,1063.6 1136.7,1061.6 1141.8,1057.5 1144.9,1060.0 1149.0,1056.9 1153.1,1056.3 1160.0,1056.9" fill="none" stroke="#0000ff" stroke-width="2.7" stroke-linejoin="round" stroke-linecap="butt" />
<polyline points="134.0,1013.0 137.0,1012.4 140.0,1014.0 143.0,1010.0 146.0,1013.0 149.0,1013.6 152.0,1012.6 155.0,1014.0 158.0,1012.4 161.0,1011.6 164.0,1012.4 167.0,1013.0 170.0,1011.6 173.0,1014.0 176.0,1015.0 178.0,1020.0 180.0,1018.0 183.0,1016.0 185.0,1013.0 187.0,1016.0 188.0,1019.0 190.0,1013.0 192.0,1017.0 195.1,1018.0 198.1,1018.0 201.1,1017.0 204.1,1019.0 207.1,1017.0 210.1,1018.0 213.1,1020.0 216.1,1021.0 218.1,1024.1 220.1,1022.0 222.1,1021.0 224.1,1022.0 226.1,1023.7 228.1,1022.0 230.1,1016.0 232.1,1014.0 234.1,1012.0 236.1,1010.0 238.1,1015.0 241.1,1013.0 244.1,1014.0 247.1,1016.0 249.1,1015.0 251.1,1017.0 253.1,1015.0 255.1,1017.0 258.1,1018.0 261.1,1020.0 264.1,1019.0 267.1,1020.0 270.1,1019.6 273.1,1021.0 275.1,1023.7 277.1,1022.0 279.1,1019.0 281.1,1020.0 283.1,1021.0 285.1,1020.0 287.1,1018.0 289.1,1014.0 291.1,1019.0 294.1,1018.0 297.1,1018.0 300.1,1019.0 303.1,1017.0 306.1,1018.0 308.1,1023.1 310.1,1024.1 313.1,1023.7 315.1,1025.1 317.1,1023.1 319.2,1019.0 322.2,1018.0 325.2,1019.0 328.2,1017.6 331.2,1019.0 334.2,1018.4 337.2,1019.0 340.2,1018.0 342.2,1016.0 344.2,1020.0 347.2,1020.0 350.2,1020.6 353.2,1019.6 356.2,1020.0 359.2,1019.0 362.2,1018.0 365.2,1017.6 368.2,1020.0 371.2,1018.0 374.2,1019.6 377.2,1020.0 380.2,1018.0 383.2,1016.0 386.2,1017.0 385.0,1017.0 388.0,1016.0 390.0,1017.0 392.0,1013.0 394.0,1011.0 396.0,1014.0 398.0,1013.0 400.0,1004.0 401.0,1014.0 403.0,1003.0 405.0,998.0 406.0,995.0 407.0,1003.0 408.0,998.0 410.0,1010.0 412.0,1000.0 413.0,1005.0 415.0,1011.0 417.0,1008.0 419.0,1013.0 421.0,1019.0 423.0,1020.0 425.0,1025.1 427.0,1024.1 429.0,1023.1 431.0,1019.0 433.0,1022.0 435.0,1024.1 437.0,1024.1 439.0,1024.1 441.0,1020.0 443.0,1014.0 445.0,1017.0 447.0,1018.0 449.1,1016.0 451.1,1011.0 453.1,1009.0 455.1,1008.0 457.1,1010.0 459.1,1014.0 461.1,1013.0 463.1,1011.0 465.1,1009.0 467.1,1003.0 468.1,999.0 469.1,996.0 470.7,996.0 472.1,989.0 473.1,984.0 475.1,986.0 476.1,988.0" fill="none" stroke="#ff0000" stroke-width="3.0" stroke-linejoin="round" stroke-linecap="butt" />
<path d="M134.3,1019.3 A4.6,4.6 0 0 1 134.3,1028.5" fill="none" stroke="#000" stroke-width="1.3"/>
<circle cx="142.6" cy="1128.6" r="4.5" fill="#000"/>
<circle cx="151.4" cy="1128.6" r="4.5" fill="#000"/>
<circle cx="160.0" cy="1129.0" r="4.5" fill="#000"/>
<circle cx="177.0" cy="1130.0" r="4.5" fill="#000"/>
<circle cx="185.6" cy="1130.0" r="4.5" fill="#000"/>
<circle cx="194.1" cy="1130.0" r="4.5" fill="#000"/>
<circle cx="202.7" cy="1130.0" r="4.5" fill="#000"/>
<circle cx="236.7" cy="1130.0" r="4.5" fill="#000"/>
<circle cx="245.1" cy="1130.0" r="4.5" fill="#000"/>
<circle cx="253.7" cy="1129.4" r="4.5" fill="#000"/>
<circle cx="262.1" cy="1129.4" r="4.5" fill="#000"/>
<circle cx="270.7" cy="1130.0" r="4.5" fill="#000"/>
<circle cx="279.1" cy="1129.4" r="4.5" fill="#000"/>
<circle cx="287.7" cy="1128.6" r="4.5" fill="#000"/>
<circle cx="296.1" cy="1129.0" r="4.5" fill="#000"/>
<circle cx="313.1" cy="1128.6" r="4.5" fill="#000"/>
<circle cx="321.8" cy="1128.6" r="4.5" fill="#000"/>
<circle cx="347.2" cy="1130.6" r="4.5" fill="#000"/>
<circle cx="355.8" cy="1130.6" r="4.5" fill="#000"/>
<circle cx="364.2" cy="1131.6" r="4.5" fill="#000"/>
<circle cx="372.8" cy="1130.0" r="4.5" fill="#000"/>
<circle cx="381.6" cy="1130.6" r="4.5" fill="#000"/>
<circle cx="398.4" cy="1132.6" r="4.5" fill="#000"/>
<circle cx="407.0" cy="1132.6" r="4.5" fill="#000"/>
<circle cx="415.4" cy="1132.0" r="4.5" fill="#000"/>
<circle cx="424.0" cy="1134.0" r="4.5" fill="#000"/>
<circle cx="432.4" cy="1135.6" r="4.5" fill="#000"/>
<circle cx="441.0" cy="1128.6" r="4.5" fill="#000"/>
<circle cx="449.5" cy="1128.6" r="4.5" fill="#000"/>
<circle cx="458.1" cy="1129.0" r="4.5" fill="#000"/>
<circle cx="466.7" cy="1129.4" r="4.5" fill="#000"/>
<circle cx="475.1" cy="1133.0" r="4.5" fill="#000"/>
<circle cx="483.7" cy="1133.0" r="4.5" fill="#000"/>
<circle cx="611.2" cy="1134.6" r="4.5" fill="#000"/>
<circle cx="619.8" cy="1134.6" r="4.5" fill="#000"/>
<circle cx="628.6" cy="1132.6" r="4.5" fill="#000"/>
<circle cx="636.8" cy="1131.6" r="4.5" fill="#000"/>
<circle cx="645.6" cy="1131.0" r="4.5" fill="#000"/>
<circle cx="654.0" cy="1131.0" r="4.5" fill="#000"/>
<circle cx="662.6" cy="1136.6" r="4.5" fill="#000"/>
<circle cx="671.0" cy="1134.0" r="4.5" fill="#000"/>
<circle cx="679.6" cy="1134.4" r="4.5" fill="#000"/>
<circle cx="688.0" cy="1135.0" r="4.5" fill="#000"/>
<circle cx="705.1" cy="1131.6" r="4.5" fill="#000"/>
<circle cx="713.7" cy="1132.4" r="4.5" fill="#000"/>
<circle cx="832.8" cy="1129.6" r="4.5" fill="#000"/>
<circle cx="841.8" cy="1129.6" r="4.5" fill="#000"/>
<circle cx="850.2" cy="1130.0" r="4.5" fill="#000"/>
<circle cx="858.8" cy="1130.4" r="4.5" fill="#000"/>
<circle cx="867.2" cy="1130.4" r="4.5" fill="#000"/>
<circle cx="875.8" cy="1131.0" r="4.5" fill="#000"/>
<circle cx="884.2" cy="1131.6" r="4.5" fill="#000"/>
<circle cx="892.6" cy="1130.6" r="4.5" fill="#000"/>
<circle cx="901.3" cy="1131.4" r="4.5" fill="#000"/>
<circle cx="909.9" cy="1131.0" r="4.5" fill="#000"/>
<circle cx="1020.9" cy="1132.4" r="4.5" fill="#000"/>
<circle cx="1029.2" cy="1135.5" r="4.5" fill="#000"/>
<circle cx="1037.8" cy="1134.5" r="4.5" fill="#000"/>
<circle cx="1046.2" cy="1133.5" r="4.5" fill="#000"/>
<circle cx="1054.7" cy="1132.8" r="4.5" fill="#000"/>
<circle cx="1063.3" cy="1134.1" r="4.5" fill="#000"/>
<circle cx="1071.9" cy="1132.4" r="4.5" fill="#000"/>
<circle cx="1080.2" cy="1131.8" r="4.5" fill="#000"/>
<circle cx="1088.8" cy="1131.4" r="4.5" fill="#000"/>
<circle cx="1097.4" cy="1131.0" r="4.5" fill="#000"/>
<circle cx="1105.9" cy="1131.4" r="4.5" fill="#000"/>
<circle cx="1114.5" cy="1132.0" r="4.5" fill="#000"/>
<circle cx="1122.9" cy="1130.8" r="4.5" fill="#000"/>
<circle cx="1131.4" cy="1130.4" r="4.5" fill="#000"/>
<circle cx="1140.0" cy="1128.8" r="4.5" fill="#000"/>
<circle cx="1148.6" cy="1131.4" r="4.5" fill="#000"/>
<polyline points="134.0,1149.6 140.0,1149.0 145.0,1145.0 150.0,1142.0 155.0,1141.0 159.0,1143.0 163.0,1145.6 167.0,1142.0 172.0,1139.6 176.0,1146.4 180.0,1141.0 184.0,1140.4 189.0,1141.6 193.1,1141.0 197.1,1139.6 201.1,1138.0 205.1,1139.6 211.1,1143.6 215.1,1141.6 219.1,1144.0 223.1,1146.4 227.1,1148.0 231.1,1141.6 235.1,1145.6 239.1,1142.0 244.1,1141.6 250.1,1139.0 254.1,1140.0 258.1,1139.0 262.1,1136.0 266.1,1136.0 270.1,1135.0 275.1,1134.0 279.1,1133.0 283.1,1136.0 288.1,1136.0 296.1,1135.6 300.1,1140.0 304.1,1141.6 308.1,1138.4 312.1,1134.4 316.1,1133.0 322.2,1132.4 326.2,1131.6 330.2,1133.0 334.2,1132.4 339.2,1131.0 343.2,1130.4 347.2,1131.0 352.2,1131.6 356.2,1131.6 361.2,1132.0 366.2,1133.0 370.2,1133.0 375.2,1134.0 378.2,1133.6 382.2,1136.4 386.2,1133.6 385.0,1134.4 390.0,1134.4 394.0,1141.6 398.0,1147.6 403.0,1151.0 407.0,1151.0 412.0,1151.0 416.0,1148.4 420.0,1151.0 425.0,1151.4 431.0,1151.4 437.0,1151.4 443.0,1151.0 449.1,1151.0 455.1,1152.0 461.1,1152.4 467.1,1152.6 473.1,1152.4 477.1,1152.0 481.1,1153.0 485.1,1153.6 489.1,1152.6 495.1,1152.4 501.1,1152.0 507.1,1152.0 511.1,1151.4 515.1,1153.4 519.1,1151.6 524.1,1149.4 528.1,1148.0 532.1,1146.6 536.1,1141.0 541.1,1139.6 545.1,1136.4 549.1,1136.6 553.1,1140.0 558.1,1144.6 562.1,1137.4 567.1,1137.4 573.2,1136.0 579.2,1135.0 584.2,1137.6 588.2,1139.6 593.2,1141.6 596.2,1152.0 601.2,1152.4 607.2,1152.6 613.2,1152.4 618.2,1152.6 623.2,1154.0 628.2,1152.6 634.2,1150.0 639.2,1151.0 644.0,1151.6 648.0,1150.6 652.0,1152.0 658.0,1152.6 664.0,1153.4 670.0,1153.4 676.0,1153.0 682.0,1152.6 688.0,1152.4 694.0,1152.0 699.0,1152.4 704.1,1151.4 709.1,1153.0 714.1,1153.0 720.1,1152.6 726.1,1153.0 732.1,1152.0 738.1,1151.4 744.1,1152.4 750.1,1151.6 756.1,1151.0 762.1,1151.4 768.1,1151.4 772.1,1151.6 778.1,1154.0 784.1,1154.4 790.1,1154.4 796.1,1154.4 800.1,1154.0 806.1,1152.0 812.1,1152.4 816.1,1155.0 820.1,1154.0 824.1,1149.0 829.2,1147.6 833.2,1146.0 837.2,1146.0 840.2,1144.0 843.2,1139.0 846.2,1134.4 849.2,1136.0 854.2,1132.4 858.2,1133.0 862.2,1133.0 867.2,1135.0 872.2,1131.0 876.2,1135.6 880.2,1141.0 885.2,1143.6 889.2,1146.0 893.2,1145.0 897.2,1146.0 899.1,1146.7 902.1,1145.7 906.2,1147.3 910.3,1145.7 914.4,1146.7 919.5,1145.1 923.6,1145.1 928.7,1147.1 931.7,1146.7 935.8,1143.0 939.9,1143.7 944.0,1144.3 948.0,1142.6 952.1,1142.2 956.2,1140.2 960.3,1141.6 965.4,1140.2 969.5,1143.7 974.6,1146.3 978.6,1144.7 982.7,1145.7 986.8,1144.3 990.9,1143.0 996.0,1143.7 1001.1,1144.7 1005.2,1146.1 1009.2,1145.3 1012.9,1147.7 1017.4,1143.7 1021.5,1146.3 1025.6,1144.7 1029.6,1142.2 1034.7,1143.0 1038.8,1139.6 1043.9,1138.2 1048.0,1138.6 1052.1,1141.2 1056.2,1140.2 1060.2,1136.9 1064.3,1137.5 1068.4,1136.9 1072.5,1138.6 1077.6,1136.5 1081.7,1137.1 1086.8,1135.5 1091.9,1135.5 1097.0,1135.9 1101.0,1135.5 1106.1,1135.1 1111.2,1134.5 1115.3,1136.1 1119.4,1134.1 1123.5,1133.1 1128.6,1134.1 1133.7,1136.1 1138.8,1135.5 1142.9,1134.1 1146.9,1136.5 1151.0,1134.5 1155.1,1132.0 1160.0,1131.4" fill="none" stroke="#0000ff" stroke-width="2.7" stroke-linejoin="round" stroke-linecap="butt" />
<polyline points="134.0,1129.4 142.0,1129.0 150.0,1129.4 158.0,1129.4 166.0,1130.0 174.0,1129.4 182.0,1129.0 190.0,1129.4 198.1,1130.0 206.1,1130.0 214.1,1130.0 222.1,1129.4 230.1,1130.0 238.1,1129.4 246.1,1129.4 254.1,1130.0 262.1,1130.0 270.1,1130.0 278.1,1129.4 286.1,1130.4 294.1,1130.4 302.1,1130.0 310.1,1129.4 318.2,1129.4 326.2,1129.4 334.2,1128.6 342.2,1128.6 350.2,1129.4 358.2,1129.4 366.2,1130.0 374.2,1130.0 382.2,1130.0 385.0,1130.0 389.0,1130.4 392.0,1129.6 394.0,1128.0 397.0,1127.6 399.0,1128.4 401.0,1131.6 403.0,1138.0 406.0,1140.0 409.0,1140.4 412.0,1141.0 414.0,1141.6 416.0,1140.0 418.0,1139.0 421.0,1138.0 425.0,1137.0 429.0,1136.0 433.0,1136.4 437.0,1137.0 441.0,1138.0 445.0,1139.6 449.1,1139.0 453.1,1140.0 457.1,1139.6 461.1,1139.0 465.1,1139.6 469.1,1139.0 473.1,1139.6 476.1,1139.0" fill="none" stroke="#ff0000" stroke-width="3.0" stroke-linejoin="round" stroke-linecap="butt" />
<path d="M134.3,1124.9 A4.6,4.6 0 0 1 134.3,1134.1" fill="none" stroke="#000" stroke-width="1.3"/>
<polyline points="134.0,1363.6 143.0,1390.1 151.0,1390.5 161.0,1385.1" fill="none" stroke="#000" stroke-width="2.7" stroke-linejoin="round" stroke-linecap="butt" />
<polyline points="176.6,1370.0 185.0,1370.4 194.1,1383.7 203.7,1383.7" fill="none" stroke="#000" stroke-width="2.7" stroke-linejoin="round" stroke-linecap="butt" />
<polyline points="235.7,1392.1 245.1,1391.7 253.7,1389.7 262.1,1389.7 270.7,1391.1 279.1,1391.1 288.1,1369.6 296.7,1370.0" fill="none" stroke="#000" stroke-width="2.7" stroke-linejoin="round" stroke-linecap="butt" />
<polyline points="312.5,1389.1 322.6,1389.1" fill="none" stroke="#000" stroke-width="2.7" stroke-linejoin="round" stroke-linecap="butt" />
<polyline points="347.2,1373.0 355.8,1373.0 364.2,1379.0 372.8,1384.5 381.8,1382.4" fill="none" stroke="#000" stroke-width="2.7" stroke-linejoin="round" stroke-linecap="butt" />
<polyline points="398.0,1382.1 407.0,1382.1 416.0,1391.1 424.0,1393.7 432.4,1395.7 441.0,1391.1 450.1,1390.1 458.1,1385.1 466.7,1383.7 475.1,1395.7 484.1,1395.7" fill="none" stroke="#000" stroke-width="2.7" stroke-linejoin="round" stroke-linecap="butt" />
<polyline points="611.2,1397.7 619.8,1397.7 628.6,1396.5 636.8,1391.7 645.6,1390.0 654.0,1391.6 662.6,1403.7 671.0,1400.5 679.6,1396.1 688.0,1396.1" fill="none" stroke="#000" stroke-width="2.7" stroke-linejoin="round" stroke-linecap="butt" />
<polyline points="705.1,1392.0 713.7,1392.4" fill="none" stroke="#000" stroke-width="2.7" stroke-linejoin="round" stroke-linecap="butt" />
<polyline points="832.8,1383.0 841.8,1385.6 850.2,1386.4 858.8,1367.4 867.2,1367.4 875.8,1392.4 884.2,1390.0 892.6,1381.0 901.3,1356.3 909.9,1377.7" fill="none" stroke="#000" stroke-width="2.7" stroke-linejoin="round" stroke-linecap="butt" />
<polyline points="1020.9,1407.3 1029.2,1411.0 1037.8,1402.8 1046.2,1405.3 1054.7,1402.8 1063.3,1387.5 1071.9,1391.0 1080.2,1403.2 1088.8,1403.2 1097.4,1392.0 1105.9,1389.0 1114.5,1392.6 1122.9,1394.7 1131.4,1403.2 1140.0,1387.9 1148.6,1383.9 1157.1,1378.8" fill="none" stroke="#000" stroke-width="2.7" stroke-linejoin="round" stroke-linecap="butt" />
<polyline points="134.0,1382.0 137.0,1386.1 140.0,1396.1 144.0,1403.1 148.0,1408.1 152.0,1410.5 156.0,1409.7 159.0,1406.1 161.0,1400.1 163.0,1393.7 165.0,1402.1 167.6,1410.5 171.0,1409.1 174.0,1405.1 176.4,1400.1 179.0,1401.1 181.0,1402.5 183.0,1414.1 185.0,1425.1 188.0,1421.1 192.0,1421.1 197.1,1424.1 202.1,1423.7 206.1,1423.1 210.1,1421.5 214.1,1420.1 216.1,1414.1 218.1,1408.1 221.1,1412.1 223.1,1414.1 225.1,1410.1 227.7,1408.1 230.1,1415.1 231.7,1422.5 234.1,1408.1 236.1,1403.1 238.1,1408.1 240.5,1416.1 244.1,1417.1 247.1,1408.1 249.5,1403.1 252.1,1405.1 255.1,1408.1 258.1,1413.1 261.1,1423.1 264.1,1421.1 267.1,1420.1 270.1,1423.1 274.1,1423.1 278.5,1426.1 281.1,1422.1 284.1,1418.1 288.1,1415.1 292.1,1417.1 296.1,1421.7 299.1,1415.1 301.1,1409.7 305.1,1412.1 309.1,1420.1 313.1,1423.1 318.2,1423.1 323.2,1424.5 328.2,1423.7 333.2,1423.7 339.2,1426.5 343.2,1422.1 347.2,1419.7 352.2,1420.7 356.2,1422.5 361.2,1419.1 365.2,1418.1 370.2,1417.7 374.2,1416.1 378.2,1413.7 381.8,1410.1 385.2,1415.1 390.0,1416.5 394.0,1398.1 397.0,1400.1 399.0,1403.1 402.0,1392.1 405.0,1384.1 408.0,1380.1 411.6,1374.1 414.0,1381.1 416.6,1389.1 419.0,1383.7 422.0,1380.1 425.0,1379.7 429.0,1383.7 433.0,1386.1 437.0,1386.5 440.0,1383.7 442.4,1379.7 445.0,1388.1 447.0,1391.1 451.1,1390.5 455.1,1389.7 459.1,1387.7 463.1,1384.1 467.1,1381.1 472.1,1385.1 477.1,1388.1 481.1,1385.7 485.1,1384.1 489.1,1383.1 491.1,1380.1 494.1,1373.7 497.1,1379.1 501.1,1379.1 506.1,1378.5 508.1,1382.1 510.7,1387.5 513.1,1380.1 515.1,1376.1 517.1,1386.1 519.1,1394.1 523.1,1398.1 527.1,1405.1 531.1,1414.1 535.1,1424.1 539.1,1431.1 542.1,1431.1 545.1,1425.7 549.1,1427.1 552.1,1430.5 555.1,1433.1 558.1,1427.7 561.1,1429.7 565.1,1434.1 569.1,1435.7 572.1,1434.1 576.2,1436.1 580.2,1437.7 585.2,1434.7 589.2,1434.7 592.8,1432.1 594.2,1412.1 596.2,1388.1 598.2,1382.1 600.8,1375.1 604.2,1379.1 607.2,1383.1 611.2,1388.1 615.2,1390.1 619.2,1390.5 622.2,1389.1 625.2,1390.5 627.2,1391.7 630.8,1379.1 634.2,1383.1 637.2,1389.1 640.2,1393.1 644.0,1393.7 648.0,1389.0 652.0,1380.0 656.0,1379.6 661.0,1376.0 665.0,1378.6 670.0,1379.6 674.0,1383.0 678.0,1381.6 682.0,1381.0 686.0,1382.4 691.0,1383.6 695.0,1385.0 699.6,1386.4 704.1,1394.7 709.1,1396.1 713.1,1394.5 716.7,1393.1 721.1,1396.7 725.1,1395.7 729.1,1399.1 734.1,1403.1 738.1,1400.1 742.1,1399.5 747.1,1399.1 751.1,1401.1 755.1,1408.1 760.1,1408.5 764.1,1406.1 768.1,1409.7 773.1,1407.1 777.1,1405.5 781.1,1403.1 786.1,1403.7 791.1,1403.7 794.1,1403.3 798.1,1405.7 802.1,1396.1 806.1,1391.6 811.1,1398.1 815.1,1397.7 820.1,1385.0 824.1,1391.0 829.2,1396.1 833.2,1394.1 837.2,1394.5 840.2,1409.1 844.2,1422.1 850.2,1435.7 854.2,1423.7 858.2,1411.1 862.2,1420.5 866.2,1415.1 871.2,1424.1 875.2,1436.1 880.2,1450.7 884.2,1443.7 888.2,1445.7 893.2,1441.1 897.2,1440.5 898.1,1441.0 901.1,1444.4 905.2,1440.4 909.3,1443.0 914.4,1446.5 919.1,1433.4 923.6,1434.2 927.6,1436.3 931.7,1435.9 935.8,1441.0 939.9,1441.0 944.0,1438.9 948.0,1441.0 952.1,1438.9 957.2,1443.0 961.3,1442.4 965.4,1441.0 969.5,1436.9 974.6,1433.4 978.6,1434.5 982.7,1436.3 987.8,1439.3 991.9,1438.9 996.0,1437.5 1000.1,1435.9 1004.1,1431.8 1008.2,1427.7 1010.9,1420.6 1012.9,1415.1 1015.4,1427.7 1017.4,1433.4 1019.4,1427.7 1021.9,1423.6 1025.6,1428.7 1029.6,1433.8 1033.7,1438.9 1037.8,1438.9 1042.3,1440.0 1047.0,1436.9 1052.1,1432.8 1056.2,1434.2 1060.2,1436.3 1064.3,1430.8 1068.4,1428.1 1072.5,1432.2 1077.6,1436.9 1081.7,1430.2 1085.7,1433.4 1089.8,1434.9 1093.9,1432.2 1099.0,1428.1 1103.1,1432.2 1108.2,1433.4 1112.3,1429.8 1115.3,1420.6 1119.4,1426.7 1123.5,1429.8 1127.6,1427.3 1132.7,1433.8 1136.7,1431.4 1140.8,1422.6 1143.9,1427.7 1145.9,1430.2 1149.0,1422.6 1153.1,1420.6 1160.0,1420.0" fill="none" stroke="#0000ff" stroke-width="2.7" stroke-linejoin="round" stroke-linecap="butt" />
<polyline points="134.0,1345.0 137.0,1346.0 140.0,1344.0 143.0,1343.0 144.0,1340.0 146.0,1344.0 149.0,1345.0 152.0,1346.0 155.0,1344.0 158.0,1345.0 161.0,1343.6 164.0,1345.0 167.0,1346.0 169.0,1344.4 172.0,1344.0 174.0,1348.0 176.0,1353.0 178.0,1357.0 180.0,1352.0 182.0,1350.0 184.0,1349.0 186.0,1353.0 188.0,1355.6 190.0,1346.0 192.0,1353.0 194.1,1352.0 196.1,1351.0 199.1,1353.0 201.1,1357.0 203.1,1352.0 206.1,1350.0 208.1,1352.0 210.1,1353.0 212.1,1356.0 214.1,1359.0 216.1,1362.0 218.1,1360.0 220.1,1361.0 222.1,1359.0 224.1,1361.0 226.1,1363.0 228.1,1363.6 230.1,1355.0 232.1,1348.0 234.1,1345.0 235.7,1341.0 237.1,1346.0 239.1,1349.0 241.1,1348.0 243.1,1351.0 245.1,1351.0 247.1,1352.0 249.1,1350.0 251.1,1346.0 253.1,1352.0 255.1,1351.6 257.1,1353.0 259.1,1356.0 261.1,1357.0 263.1,1357.0 266.1,1356.0 269.1,1357.0 272.1,1358.0 274.1,1360.0 276.1,1364.0 278.1,1361.0 280.1,1357.0 282.1,1353.0 284.1,1357.0 286.1,1355.0 288.1,1357.0 290.1,1351.0 292.1,1358.0 294.1,1355.0 296.1,1357.0 298.1,1355.0 300.1,1353.0 302.1,1354.0 304.1,1353.0 306.1,1355.0 308.1,1362.0 310.1,1360.0 312.1,1362.0 314.1,1363.0 316.1,1364.4 318.2,1357.0 320.2,1357.0 322.2,1354.0 325.2,1356.0 328.2,1354.0 331.2,1355.0 334.2,1356.0 337.2,1353.0 340.2,1354.0 342.2,1350.0 344.2,1358.0 346.2,1357.0 348.2,1359.0 350.2,1362.0 352.2,1358.0 355.2,1357.0 358.2,1356.0 361.2,1357.0 364.2,1355.0 367.2,1354.0 369.2,1358.0 372.2,1359.0 374.2,1355.6 377.2,1358.0 380.2,1359.0 383.2,1353.0 386.2,1352.0 387.0,1353.0 389.0,1353.0 391.0,1348.0 393.0,1342.0 394.0,1336.0 395.0,1345.0 396.0,1342.0 397.0,1348.0 398.0,1339.0 399.0,1345.0 400.0,1328.0 401.0,1351.0 402.0,1340.0 403.0,1344.0 404.0,1342.0 405.0,1352.0 406.0,1336.0 407.0,1348.0 408.0,1342.0 409.0,1352.0 410.0,1364.1 411.0,1348.0 412.0,1356.0 413.0,1348.0 414.0,1360.0 415.0,1362.0 416.0,1360.0 417.0,1362.0 418.0,1359.0 419.0,1368.1 420.0,1366.1 421.0,1371.1 423.0,1373.1 425.0,1378.1 427.0,1375.1 429.0,1376.1 431.0,1371.1 432.0,1366.1 433.0,1377.1 435.0,1376.1 437.0,1375.1 439.0,1375.1 441.0,1369.1 443.0,1364.1 445.0,1363.1 447.0,1365.1 449.1,1367.1 450.1,1364.1 451.1,1360.0 453.1,1359.0 455.1,1358.0 457.1,1358.0 458.1,1361.0 460.1,1364.1 462.1,1361.0 464.1,1358.0 466.1,1353.0 467.1,1347.0 468.1,1340.0 469.1,1336.0 470.7,1335.0 472.1,1326.0 473.1,1321.0 475.1,1324.0 476.1,1326.0" fill="none" stroke="#ff0000" stroke-width="3.0" stroke-linejoin="round" stroke-linecap="butt" />
<circle cx="142.0" cy="1650.1" r="4.2" fill="#000"/>
<circle cx="151.0" cy="1649.1" r="4.2" fill="#000"/>
<circle cx="203.1" cy="1648.1" r="4.2" fill="#000"/>
<circle cx="244.1" cy="1649.1" r="4.2" fill="#000"/>
<circle cx="262.1" cy="1650.1" r="4.2" fill="#000"/>
<circle cx="279.1" cy="1638.1" r="4.2" fill="#000"/>
<circle cx="287.7" cy="1636.7" r="4.2" fill="#000"/>
<circle cx="296.1" cy="1635.1" r="4.2" fill="#000"/>
<circle cx="313.1" cy="1641.7" r="4.2" fill="#000"/>
<circle cx="347.2" cy="1635.1" r="4.2" fill="#000"/>
<circle cx="407.0" cy="1626.1" r="4.2" fill="#000"/>
<circle cx="416.0" cy="1620.1" r="4.2" fill="#000"/>
<circle cx="424.0" cy="1622.1" r="4.2" fill="#000"/>
<circle cx="432.0" cy="1610.1" r="4.2" fill="#000"/>
<circle cx="476.1" cy="1617.1" r="4.2" fill="#000"/>
<circle cx="483.7" cy="1526.6" r="4.2" fill="#000"/>
<circle cx="611.6" cy="1567.1" r="4.2" fill="#000"/>
<circle cx="620.2" cy="1558.1" r="4.2" fill="#000"/>
<circle cx="628.6" cy="1581.5" r="4.2" fill="#000"/>
<circle cx="636.8" cy="1561.7" r="4.2" fill="#000"/>
<circle cx="646.0" cy="1510.0" r="4.2" fill="#000"/>
<circle cx="654.0" cy="1606.5" r="4.2" fill="#000"/>
<circle cx="662.6" cy="1618.7" r="4.2" fill="#000"/>
<circle cx="671.0" cy="1616.1" r="4.2" fill="#000"/>
<circle cx="679.6" cy="1513.6" r="4.2" fill="#000"/>
<circle cx="688.0" cy="1583.1" r="4.2" fill="#000"/>
<circle cx="705.1" cy="1584.7" r="4.2" fill="#000"/>
<circle cx="713.1" cy="1659.7" r="4.2" fill="#000"/>
<circle cx="832.2" cy="1626.1" r="4.2" fill="#000"/>
<circle cx="841.8" cy="1613.5" r="4.2" fill="#000"/>
<circle cx="858.8" cy="1583.1" r="4.2" fill="#000"/>
<circle cx="867.2" cy="1644.1" r="4.2" fill="#000"/>
<circle cx="875.8" cy="1636.1" r="4.2" fill="#000"/>
<circle cx="884.2" cy="1592.7" r="4.2" fill="#000"/>
<circle cx="892.6" cy="1608.7" r="4.2" fill="#000"/>
<circle cx="901.3" cy="1605.3" r="4.2" fill="#000"/>
<circle cx="909.9" cy="1630.1" r="4.2" fill="#000"/>
<circle cx="1020.9" cy="1657.3" r="4.2" fill="#000"/>
<circle cx="1029.2" cy="1657.7" r="4.2" fill="#000"/>
<circle cx="1037.8" cy="1654.8" r="4.2" fill="#000"/>
<circle cx="1046.2" cy="1658.3" r="4.2" fill="#000"/>
<circle cx="1054.7" cy="1657.9" r="4.2" fill="#000"/>
<circle cx="1063.3" cy="1654.2" r="4.2" fill="#000"/>
<circle cx="1071.9" cy="1653.2" r="4.2" fill="#000"/>
<circle cx="1080.2" cy="1656.3" r="4.2" fill="#000"/>
<circle cx="1088.8" cy="1656.9" r="4.2" fill="#000"/>
<circle cx="1097.4" cy="1653.6" r="4.2" fill="#000"/>
<circle cx="1105.9" cy="1652.6" r="4.2" fill="#000"/>
<circle cx="1114.5" cy="1652.6" r="4.2" fill="#000"/>
<circle cx="1122.9" cy="1654.2" r="4.2" fill="#000"/>
<circle cx="1131.4" cy="1657.7" r="4.2" fill="#000"/>
<circle cx="1140.0" cy="1653.2" r="4.2" fill="#000"/>
<circle cx="1148.6" cy="1649.1" r="4.2" fill="#000"/>
<circle cx="134.5" cy="1652.7" r="4.3" fill="#0000ff"/>
<circle cx="135.9" cy="1652.5" r="4.3" fill="#0000ff"/>
<circle cx="137.2" cy="1652.9" r="4.3" fill="#0000ff"/>
<circle cx="138.6" cy="1653.5" r="4.3" fill="#0000ff"/>
<circle cx="140.0" cy="1654.3" r="4.3" fill="#0000ff"/>
<circle cx="141.7" cy="1653.4" r="4.3" fill="#0000ff"/>
<circle cx="143.3" cy="1654.3" r="4.3" fill="#0000ff"/>
<circle cx="145.0" cy="1653.8" r="4.3" fill="#0000ff"/>
<circle cx="146.7" cy="1654.0" r="4.3" fill="#0000ff"/>
<circle cx="148.3" cy="1653.3" r="4.3" fill="#0000ff"/>
<circle cx="150.0" cy="1653.1" r="4.3" fill="#0000ff"/>
<circle cx="151.2" cy="1653.2" r="4.3" fill="#0000ff"/>
<circle cx="152.5" cy="1652.6" r="4.3" fill="#0000ff"/>
<circle cx="153.8" cy="1652.4" r="4.3" fill="#0000ff"/>
<circle cx="155.0" cy="1652.9" r="4.3" fill="#0000ff"/>
<circle cx="156.2" cy="1651.9" r="4.3" fill="#0000ff"/>
<circle cx="157.5" cy="1651.8" r="4.3" fill="#0000ff"/>
<circle cx="158.8" cy="1651.3" r="4.3" fill="#0000ff"/>
<circle cx="160.0" cy="1651.1" r="4.3" fill="#0000ff"/>
<circle cx="161.7" cy="1651.3" r="4.3" fill="#0000ff"/>
<circle cx="163.3" cy="1651.5" r="4.3" fill="#0000ff"/>
<circle cx="165.0" cy="1650.7" r="4.3" fill="#0000ff"/>
<circle cx="166.7" cy="1651.4" r="4.3" fill="#0000ff"/>
<circle cx="168.3" cy="1650.9" r="4.3" fill="#0000ff"/>
<circle cx="170.0" cy="1651.0" r="4.3" fill="#0000ff"/>
<circle cx="171.7" cy="1651.8" r="4.3" fill="#0000ff"/>
<circle cx="173.3" cy="1651.2" r="4.3" fill="#0000ff"/>
<circle cx="175.0" cy="1651.1" r="4.3" fill="#0000ff"/>
<circle cx="176.2" cy="1651.9" r="4.3" fill="#0000ff"/>
<circle cx="177.3" cy="1652.8" r="4.3" fill="#0000ff"/>
<circle cx="178.5" cy="1653.6" r="4.3" fill="#0000ff"/>
<circle cx="179.7" cy="1654.1" r="4.3" fill="#0000ff"/>
<circle cx="180.8" cy="1654.6" r="4.3" fill="#0000ff"/>
<circle cx="182.0" cy="1654.9" r="4.3" fill="#0000ff"/>
<circle cx="183.3" cy="1655.2" r="4.3" fill="#0000ff"/>
<circle cx="184.7" cy="1655.1" r="4.3" fill="#0000ff"/>
<circle cx="186.0" cy="1655.0" r="4.3" fill="#0000ff"/>
<circle cx="187.3" cy="1655.0" r="4.3" fill="#0000ff"/>
<circle cx="188.7" cy="1654.8" r="4.3" fill="#0000ff"/>
<circle cx="190.0" cy="1655.7" r="4.3" fill="#0000ff"/>
<circle cx="191.7" cy="1655.2" r="4.3" fill="#0000ff"/>
<circle cx="193.3" cy="1655.5" r="4.3" fill="#0000ff"/>
<circle cx="195.0" cy="1656.4" r="4.3" fill="#0000ff"/>
<circle cx="196.7" cy="1655.3" r="4.3" fill="#0000ff"/>
<circle cx="198.3" cy="1655.6" r="4.3" fill="#0000ff"/>
<circle cx="200.0" cy="1656.8" r="4.3" fill="#0000ff"/>
<circle cx="201.7" cy="1656.4" r="4.3" fill="#0000ff"/>
<circle cx="203.3" cy="1655.7" r="4.3" fill="#0000ff"/>
<circle cx="205.0" cy="1656.1" r="4.3" fill="#0000ff"/>
<circle cx="206.7" cy="1655.7" r="4.3" fill="#0000ff"/>
<circle cx="208.3" cy="1655.7" r="4.3" fill="#0000ff"/>
<circle cx="210.0" cy="1654.0" r="4.3" fill="#0000ff"/>
<circle cx="211.7" cy="1654.1" r="4.3" fill="#0000ff"/>
<circle cx="213.3" cy="1654.4" r="4.3" fill="#0000ff"/>
<circle cx="215.0" cy="1653.3" r="4.3" fill="#0000ff"/>
<circle cx="216.2" cy="1653.5" r="4.3" fill="#0000ff"/>
<circle cx="217.5" cy="1652.3" r="4.3" fill="#0000ff"/>
<circle cx="218.8" cy="1653.2" r="4.3" fill="#0000ff"/>
<circle cx="220.0" cy="1651.9" r="4.3" fill="#0000ff"/>
<circle cx="221.7" cy="1651.6" r="4.3" fill="#0000ff"/>
<circle cx="223.3" cy="1652.1" r="4.3" fill="#0000ff"/>
<circle cx="225.0" cy="1652.8" r="4.3" fill="#0000ff"/>
<circle cx="226.2" cy="1653.1" r="4.3" fill="#0000ff"/>
<circle cx="227.5" cy="1653.2" r="4.3" fill="#0000ff"/>
<circle cx="228.8" cy="1654.5" r="4.3" fill="#0000ff"/>
<circle cx="230.0" cy="1654.9" r="4.3" fill="#0000ff"/>
<circle cx="231.7" cy="1655.2" r="4.3" fill="#0000ff"/>
<circle cx="233.3" cy="1654.8" r="4.3" fill="#0000ff"/>
<circle cx="235.0" cy="1655.2" r="4.3" fill="#0000ff"/>
<circle cx="236.7" cy="1654.7" r="4.3" fill="#0000ff"/>
<circle cx="238.3" cy="1655.1" r="4.3" fill="#0000ff"/>
<circle cx="240.0" cy="1654.1" r="4.3" fill="#0000ff"/>
<circle cx="241.7" cy="1653.8" r="4.3" fill="#0000ff"/>
<circle cx="243.3" cy="1653.7" r="4.3" fill="#0000ff"/>
<circle cx="245.0" cy="1653.1" r="4.3" fill="#0000ff"/>
<circle cx="246.7" cy="1652.9" r="4.3" fill="#0000ff"/>
<circle cx="248.3" cy="1653.1" r="4.3" fill="#0000ff"/>
<circle cx="250.0" cy="1653.0" r="4.3" fill="#0000ff"/>
<circle cx="251.7" cy="1652.3" r="4.3" fill="#0000ff"/>
<circle cx="253.3" cy="1652.9" r="4.3" fill="#0000ff"/>
<circle cx="255.0" cy="1653.6" r="4.3" fill="#0000ff"/>
<circle cx="256.2" cy="1653.5" r="4.3" fill="#0000ff"/>
<circle cx="257.5" cy="1654.2" r="4.3" fill="#0000ff"/>
<circle cx="258.8" cy="1654.7" r="4.3" fill="#0000ff"/>
<circle cx="260.0" cy="1655.4" r="4.3" fill="#0000ff"/>
<circle cx="261.2" cy="1655.1" r="4.3" fill="#0000ff"/>
<circle cx="262.5" cy="1655.5" r="4.3" fill="#0000ff"/>
<circle cx="263.8" cy="1653.9" r="4.3" fill="#0000ff"/>
<circle cx="265.0" cy="1654.4" r="4.3" fill="#0000ff"/>
<circle cx="266.7" cy="1654.2" r="4.3" fill="#0000ff"/>
<circle cx="268.3" cy="1654.8" r="4.3" fill="#0000ff"/>
<circle cx="270.0" cy="1655.0" r="4.3" fill="#0000ff"/>
<circle cx="271.2" cy="1654.7" r="4.3" fill="#0000ff"/>
<circle cx="272.5" cy="1653.1" r="4.3" fill="#0000ff"/>
<circle cx="273.8" cy="1653.3" r="4.3" fill="#0000ff"/>
<circle cx="275.0" cy="1652.9" r="4.3" fill="#0000ff"/>
<circle cx="276.2" cy="1652.1" r="4.3" fill="#0000ff"/>
<circle cx="277.5" cy="1651.1" r="4.3" fill="#0000ff"/>
<circle cx="278.8" cy="1650.9" r="4.3" fill="#0000ff"/>
<circle cx="280.0" cy="1650.6" r="4.3" fill="#0000ff"/>
<circle cx="281.7" cy="1649.4" r="4.3" fill="#0000ff"/>
<circle cx="283.3" cy="1649.2" r="4.3" fill="#0000ff"/>
<circle cx="285.0" cy="1648.7" r="4.3" fill="#0000ff"/>
<circle cx="286.7" cy="1649.7" r="4.3" fill="#0000ff"/>
<circle cx="288.3" cy="1649.6" r="4.3" fill="#0000ff"/>
<circle cx="290.0" cy="1648.8" r="4.3" fill="#0000ff"/>
<circle cx="291.7" cy="1649.0" r="4.3" fill="#0000ff"/>
<circle cx="293.3" cy="1649.6" r="4.3" fill="#0000ff"/>
<circle cx="295.0" cy="1650.6" r="4.3" fill="#0000ff"/>
<circle cx="296.7" cy="1649.5" r="4.3" fill="#0000ff"/>
<circle cx="298.3" cy="1649.6" r="4.3" fill="#0000ff"/>
<circle cx="300.0" cy="1649.5" r="4.3" fill="#0000ff"/>
<circle cx="301.7" cy="1649.1" r="4.3" fill="#0000ff"/>
<circle cx="303.3" cy="1650.6" r="4.3" fill="#0000ff"/>
<circle cx="305.0" cy="1649.9" r="4.3" fill="#0000ff"/>
<circle cx="306.2" cy="1650.5" r="4.3" fill="#0000ff"/>
<circle cx="307.5" cy="1651.3" r="4.3" fill="#0000ff"/>
<circle cx="308.8" cy="1651.8" r="4.3" fill="#0000ff"/>
<circle cx="310.0" cy="1652.3" r="4.3" fill="#0000ff"/>
<circle cx="311.7" cy="1652.4" r="4.3" fill="#0000ff"/>
<circle cx="313.3" cy="1651.6" r="4.3" fill="#0000ff"/>
<circle cx="315.0" cy="1651.6" r="4.3" fill="#0000ff"/>
<circle cx="316.7" cy="1650.8" r="4.3" fill="#0000ff"/>
<circle cx="318.3" cy="1651.0" r="4.3" fill="#0000ff"/>
<circle cx="320.0" cy="1650.3" r="4.3" fill="#0000ff"/>
<circle cx="321.7" cy="1651.2" r="4.3" fill="#0000ff"/>
<circle cx="323.3" cy="1650.6" r="4.3" fill="#0000ff"/>
<circle cx="325.0" cy="1650.3" r="4.3" fill="#0000ff"/>
<circle cx="326.7" cy="1649.8" r="4.3" fill="#0000ff"/>
<circle cx="328.3" cy="1650.1" r="4.3" fill="#0000ff"/>
<circle cx="330.0" cy="1650.6" r="4.3" fill="#0000ff"/>
<circle cx="331.7" cy="1649.8" r="4.3" fill="#0000ff"/>
<circle cx="333.3" cy="1650.5" r="4.3" fill="#0000ff"/>
<circle cx="335.0" cy="1650.2" r="4.3" fill="#0000ff"/>
<circle cx="336.7" cy="1650.5" r="4.3" fill="#0000ff"/>
<circle cx="338.3" cy="1651.7" r="4.3" fill="#0000ff"/>
<circle cx="340.0" cy="1651.4" r="4.3" fill="#0000ff"/>
<circle cx="341.7" cy="1651.6" r="4.3" fill="#0000ff"/>
<circle cx="343.3" cy="1650.5" r="4.3" fill="#0000ff"/>
<circle cx="345.0" cy="1650.6" r="4.3" fill="#0000ff"/>
<circle cx="346.7" cy="1650.5" r="4.3" fill="#0000ff"/>
<circle cx="348.3" cy="1650.0" r="4.3" fill="#0000ff"/>
<circle cx="350.0" cy="1650.2" r="4.3" fill="#0000ff"/>
<circle cx="351.2" cy="1650.9" r="4.3" fill="#0000ff"/>
<circle cx="352.5" cy="1650.9" r="4.3" fill="#0000ff"/>
<circle cx="353.8" cy="1652.2" r="4.3" fill="#0000ff"/>
<circle cx="355.0" cy="1652.5" r="4.3" fill="#0000ff"/>
<circle cx="356.2" cy="1651.5" r="4.3" fill="#0000ff"/>
<circle cx="357.5" cy="1651.6" r="4.3" fill="#0000ff"/>
<circle cx="358.8" cy="1650.7" r="4.3" fill="#0000ff"/>
<circle cx="360.0" cy="1649.6" r="4.3" fill="#0000ff"/>
<circle cx="361.2" cy="1649.6" r="4.3" fill="#0000ff"/>
<circle cx="362.5" cy="1648.4" r="4.3" fill="#0000ff"/>
<circle cx="363.8" cy="1649.2" r="4.3" fill="#0000ff"/>
<circle cx="365.0" cy="1648.3" r="4.3" fill="#0000ff"/>
<circle cx="366.7" cy="1648.5" r="4.3" fill="#0000ff"/>
<circle cx="368.3" cy="1648.3" r="4.3" fill="#0000ff"/>
<circle cx="370.0" cy="1648.4" r="4.3" fill="#0000ff"/>
<circle cx="371.7" cy="1648.4" r="4.3" fill="#0000ff"/>
<circle cx="373.3" cy="1647.4" r="4.3" fill="#0000ff"/>
<circle cx="375.0" cy="1647.4" r="4.3" fill="#0000ff"/>
<circle cx="376.7" cy="1647.2" r="4.3" fill="#0000ff"/>
<circle cx="378.3" cy="1647.6" r="4.3" fill="#0000ff"/>
<circle cx="380.0" cy="1646.9" r="4.3" fill="#0000ff"/>
<circle cx="381.7" cy="1647.1" r="4.3" fill="#0000ff"/>
<circle cx="383.3" cy="1646.8" r="4.3" fill="#0000ff"/>
<circle cx="385.0" cy="1646.4" r="4.3" fill="#0000ff"/>
<circle cx="386.6" cy="1646.6" r="4.3" fill="#0000ff"/>
<circle cx="388.1" cy="1646.7" r="4.3" fill="#0000ff"/>
<circle cx="389.7" cy="1646.6" r="4.3" fill="#0000ff"/>
<circle cx="390.9" cy="1646.3" r="4.3" fill="#0000ff"/>
<circle cx="392.1" cy="1645.5" r="4.3" fill="#0000ff"/>
<circle cx="393.4" cy="1644.7" r="4.3" fill="#0000ff"/>
<circle cx="394.6" cy="1644.4" r="4.3" fill="#0000ff"/>
<circle cx="395.8" cy="1643.6" r="4.3" fill="#0000ff"/>
<circle cx="397.1" cy="1644.4" r="4.3" fill="#0000ff"/>
<circle cx="398.3" cy="1642.7" r="4.3" fill="#0000ff"/>
<circle cx="399.5" cy="1642.7" r="4.3" fill="#0000ff"/>
<circle cx="914.4" cy="1665.9" r="4.2" fill="#0000ff"/>
<circle cx="914.4" cy="1667.4" r="4.2" fill="#0000ff"/>
<circle cx="919.5" cy="1669.4" r="4.2" fill="#0000ff"/>
<circle cx="925.6" cy="1668.9" r="4.2" fill="#0000ff"/>
<circle cx="931.7" cy="1668.4" r="4.2" fill="#0000ff"/>
<circle cx="937.8" cy="1669.2" r="4.2" fill="#0000ff"/>
<circle cx="944.0" cy="1668.7" r="4.2" fill="#0000ff"/>
<circle cx="950.1" cy="1667.5" r="4.2" fill="#0000ff"/>
<circle cx="956.2" cy="1668.0" r="4.2" fill="#0000ff"/>
<circle cx="962.3" cy="1668.1" r="4.2" fill="#0000ff"/>
<circle cx="968.4" cy="1666.3" r="4.2" fill="#0000ff"/>
<circle cx="974.6" cy="1664.7" r="4.2" fill="#0000ff"/>
<circle cx="980.7" cy="1665.7" r="4.2" fill="#0000ff"/>
<circle cx="986.8" cy="1667.2" r="4.2" fill="#0000ff"/>
<circle cx="992.9" cy="1665.8" r="4.2" fill="#0000ff"/>
<circle cx="999.0" cy="1665.3" r="4.2" fill="#0000ff"/>
<circle cx="1005.2" cy="1663.4" r="4.2" fill="#0000ff"/>
<circle cx="1010.3" cy="1660.7" r="4.2" fill="#0000ff"/>
<circle cx="1013.3" cy="1659.1" r="4.2" fill="#0000ff"/>
<circle cx="1017.4" cy="1664.8" r="4.2" fill="#0000ff"/>
<circle cx="1021.5" cy="1660.5" r="4.2" fill="#0000ff"/>
<circle cx="1026.6" cy="1662.8" r="4.2" fill="#0000ff"/>
<circle cx="1031.7" cy="1664.6" r="4.2" fill="#0000ff"/>
<circle cx="1037.8" cy="1665.3" r="4.2" fill="#0000ff"/>
<circle cx="1043.9" cy="1665.6" r="4.2" fill="#0000ff"/>
<circle cx="1050.0" cy="1665.2" r="4.2" fill="#0000ff"/>
<circle cx="1056.2" cy="1665.3" r="4.2" fill="#0000ff"/>
<circle cx="1060.2" cy="1666.4" r="4.2" fill="#0000ff"/>
<circle cx="1064.3" cy="1664.3" r="4.2" fill="#0000ff"/>
<circle cx="1068.4" cy="1663.2" r="4.2" fill="#0000ff"/>
<circle cx="1072.5" cy="1663.2" r="4.2" fill="#0000ff"/>
<circle cx="1076.6" cy="1665.6" r="4.2" fill="#0000ff"/>
<circle cx="1080.6" cy="1662.2" r="4.2" fill="#0000ff"/>
<circle cx="1084.7" cy="1663.4" r="4.2" fill="#0000ff"/>
<circle cx="1088.8" cy="1665.3" r="4.2" fill="#0000ff"/>
<circle cx="1092.9" cy="1664.6" r="4.2" fill="#0000ff"/>
<circle cx="1097.0" cy="1662.8" r="4.2" fill="#0000ff"/>
<circle cx="1101.0" cy="1662.6" r="4.2" fill="#0000ff"/>
<circle cx="1107.2" cy="1662.9" r="4.2" fill="#0000ff"/>
<circle cx="1111.2" cy="1661.4" r="4.2" fill="#0000ff"/>
<circle cx="1115.3" cy="1658.2" r="4.2" fill="#0000ff"/>
<circle cx="1119.4" cy="1661.1" r="4.2" fill="#0000ff"/>
<circle cx="1123.5" cy="1662.7" r="4.2" fill="#0000ff"/>
<circle cx="1127.6" cy="1663.1" r="4.2" fill="#0000ff"/>
<circle cx="1132.7" cy="1665.8" r="4.2" fill="#0000ff"/>
<circle cx="1136.7" cy="1664.4" r="4.2" fill="#0000ff"/>
<circle cx="1140.8" cy="1659.9" r="4.2" fill="#0000ff"/>
<circle cx="1144.9" cy="1661.3" r="4.2" fill="#0000ff"/>
<circle cx="1149.0" cy="1658.7" r="4.2" fill="#0000ff"/>
<circle cx="1153.1" cy="1657.6" r="4.2" fill="#0000ff"/>
<circle cx="1157.1" cy="1658.3" r="4.2" fill="#0000ff"/>
<circle cx="428.6" cy="1497.0" r="4.2" fill="#0000ff"/>
<circle cx="433.4" cy="1512.4" r="4.2" fill="#0000ff"/>
<circle cx="425.0" cy="1527.6" r="4.2" fill="#0000ff"/>
<circle cx="420.6" cy="1570.5" r="4.2" fill="#0000ff"/>
<circle cx="416.0" cy="1602.5" r="4.2" fill="#0000ff"/>
<circle cx="412.0" cy="1605.1" r="4.2" fill="#0000ff"/>
<circle cx="407.0" cy="1614.1" r="4.2" fill="#0000ff"/>
<circle cx="438.0" cy="1608.1" r="4.2" fill="#0000ff"/>
<circle cx="442.0" cy="1631.7" r="4.2" fill="#0000ff"/>
<circle cx="447.0" cy="1633.7" r="4.2" fill="#0000ff"/>
<circle cx="451.1" cy="1633.7" r="4.2" fill="#0000ff"/>
<circle cx="461.1" cy="1635.1" r="4.2" fill="#0000ff"/>
<circle cx="467.1" cy="1630.1" r="4.2" fill="#0000ff"/>
<circle cx="476.7" cy="1602.5" r="4.2" fill="#0000ff"/>
<circle cx="485.1" cy="1507.6" r="4.2" fill="#0000ff"/>
<circle cx="481.1" cy="1553.7" r="4.2" fill="#0000ff"/>
<circle cx="489.1" cy="1552.0" r="4.2" fill="#0000ff"/>
<circle cx="493.7" cy="1558.1" r="4.2" fill="#0000ff"/>
<circle cx="498.1" cy="1526.6" r="4.2" fill="#0000ff"/>
<circle cx="502.5" cy="1519.4" r="4.2" fill="#0000ff"/>
<circle cx="506.5" cy="1567.7" r="4.2" fill="#0000ff"/>
<circle cx="510.7" cy="1596.5" r="4.2" fill="#0000ff"/>
<circle cx="515.5" cy="1601.1" r="4.2" fill="#0000ff"/>
<circle cx="519.1" cy="1615.7" r="4.2" fill="#0000ff"/>
<circle cx="523.1" cy="1619.1" r="4.2" fill="#0000ff"/>
<circle cx="527.1" cy="1622.1" r="4.2" fill="#0000ff"/>
<circle cx="531.1" cy="1623.7" r="4.2" fill="#0000ff"/>
<circle cx="534.1" cy="1626.1" r="4.2" fill="#0000ff"/>
<circle cx="537.1" cy="1628.1" r="4.2" fill="#0000ff"/>
<circle cx="541.1" cy="1629.1" r="4.2" fill="#0000ff"/>
<circle cx="545.1" cy="1625.1" r="4.2" fill="#0000ff"/>
<circle cx="550.1" cy="1627.1" r="4.2" fill="#0000ff"/>
<circle cx="554.1" cy="1632.5" r="4.2" fill="#0000ff"/>
<circle cx="558.7" cy="1631.1" r="4.2" fill="#0000ff"/>
<circle cx="562.7" cy="1632.1" r="4.2" fill="#0000ff"/>
<circle cx="567.1" cy="1628.5" r="4.2" fill="#0000ff"/>
<circle cx="571.1" cy="1616.7" r="4.2" fill="#0000ff"/>
<circle cx="575.2" cy="1598.1" r="4.2" fill="#0000ff"/>
<circle cx="579.2" cy="1587.7" r="4.2" fill="#0000ff"/>
<circle cx="583.8" cy="1591.1" r="4.2" fill="#0000ff"/>
<circle cx="588.2" cy="1604.5" r="4.2" fill="#0000ff"/>
<circle cx="592.6" cy="1617.5" r="4.2" fill="#0000ff"/>
<circle cx="596.8" cy="1575.5" r="4.2" fill="#0000ff"/>
<circle cx="609.2" cy="1519.6" r="4.2" fill="#0000ff"/>
<circle cx="613.2" cy="1549.4" r="4.2" fill="#0000ff"/>
<circle cx="618.2" cy="1548.4" r="4.2" fill="#0000ff"/>
<circle cx="622.6" cy="1508.6" r="4.2" fill="#0000ff"/>
<circle cx="635.2" cy="1512.4" r="4.2" fill="#0000ff"/>
<circle cx="639.2" cy="1510.0" r="4.2" fill="#0000ff"/>
<circle cx="641.0" cy="1510.0" r="4.2" fill="#0000ff"/>
<circle cx="652.6" cy="1550.0" r="4.2" fill="#0000ff"/>
<circle cx="657.0" cy="1581.1" r="4.2" fill="#0000ff"/>
<circle cx="661.0" cy="1591.1" r="4.2" fill="#0000ff"/>
<circle cx="665.0" cy="1599.1" r="4.2" fill="#0000ff"/>
<circle cx="669.6" cy="1603.5" r="4.2" fill="#0000ff"/>
<circle cx="674.0" cy="1585.1" r="4.2" fill="#0000ff"/>
<circle cx="678.0" cy="1510.0" r="4.2" fill="#0000ff"/>
<circle cx="682.4" cy="1513.0" r="4.2" fill="#0000ff"/>
<circle cx="686.6" cy="1558.1" r="4.2" fill="#0000ff"/>
<circle cx="691.0" cy="1550.4" r="4.2" fill="#0000ff"/>
<circle cx="695.6" cy="1515.0" r="4.2" fill="#0000ff"/>
<circle cx="708.5" cy="1611.1" r="4.2" fill="#0000ff"/>
<circle cx="712.5" cy="1653.1" r="4.2" fill="#0000ff"/>
<circle cx="717.1" cy="1659.1" r="4.2" fill="#0000ff"/>
<circle cx="721.1" cy="1661.1" r="4.2" fill="#0000ff"/>
<circle cx="726.1" cy="1659.7" r="4.2" fill="#0000ff"/>
<circle cx="731.1" cy="1660.1" r="4.2" fill="#0000ff"/>
<circle cx="736.1" cy="1659.7" r="4.2" fill="#0000ff"/>
<circle cx="741.1" cy="1656.1" r="4.2" fill="#0000ff"/>
<circle cx="744.1" cy="1652.1" r="4.2" fill="#0000ff"/>
<circle cx="747.1" cy="1648.1" r="4.2" fill="#0000ff"/>
<circle cx="752.1" cy="1651.1" r="4.2" fill="#0000ff"/>
<circle cx="755.1" cy="1658.1" r="4.2" fill="#0000ff"/>
<circle cx="760.1" cy="1661.1" r="4.2" fill="#0000ff"/>
<circle cx="765.1" cy="1663.1" r="4.2" fill="#0000ff"/>
<circle cx="770.1" cy="1663.7" r="4.2" fill="#0000ff"/>
<circle cx="775.1" cy="1663.7" r="4.2" fill="#0000ff"/>
<circle cx="780.1" cy="1663.1" r="4.2" fill="#0000ff"/>
<circle cx="785.1" cy="1663.1" r="4.2" fill="#0000ff"/>
<circle cx="790.1" cy="1663.1" r="4.2" fill="#0000ff"/>
<circle cx="795.1" cy="1663.1" r="4.2" fill="#0000ff"/>
<circle cx="799.1" cy="1662.5" r="4.2" fill="#0000ff"/>
<circle cx="802.1" cy="1659.1" r="4.2" fill="#0000ff"/>
<circle cx="806.1" cy="1657.1" r="4.2" fill="#0000ff"/>
<circle cx="811.1" cy="1657.1" r="4.2" fill="#0000ff"/>
<circle cx="816.1" cy="1657.1" r="4.2" fill="#0000ff"/>
<circle cx="820.1" cy="1651.7" r="4.2" fill="#0000ff"/>
<circle cx="825.1" cy="1652.1" r="4.2" fill="#0000ff"/>
<circle cx="828.8" cy="1644.5" r="4.2" fill="#0000ff"/>
<circle cx="832.8" cy="1630.5" r="4.2" fill="#0000ff"/>
<circle cx="837.2" cy="1623.7" r="4.2" fill="#0000ff"/>
<circle cx="842.2" cy="1624.5" r="4.2" fill="#0000ff"/>
<circle cx="845.8" cy="1601.7" r="4.2" fill="#0000ff"/>
<circle cx="849.8" cy="1546.4" r="4.2" fill="#0000ff"/>
<circle cx="854.2" cy="1583.7" r="4.2" fill="#0000ff"/>
<circle cx="858.8" cy="1604.1" r="4.2" fill="#0000ff"/>
<circle cx="862.8" cy="1642.1" r="4.2" fill="#0000ff"/>
<circle cx="866.8" cy="1655.7" r="4.2" fill="#0000ff"/>
<circle cx="871.8" cy="1650.1" r="4.2" fill="#0000ff"/>
<circle cx="876.2" cy="1644.1" r="4.2" fill="#0000ff"/>
<circle cx="881.2" cy="1641.7" r="4.2" fill="#0000ff"/>
<circle cx="884.2" cy="1620.1" r="4.2" fill="#0000ff"/>
<circle cx="888.2" cy="1631.1" r="4.2" fill="#0000ff"/>
<circle cx="892.8" cy="1635.7" r="4.2" fill="#0000ff"/>
<circle cx="897.2" cy="1628.1" r="4.2" fill="#0000ff"/>
<circle cx="895.0" cy="1635.9" r="4.2" fill="#0000ff"/>
<circle cx="898.1" cy="1628.3" r="4.2" fill="#0000ff"/>
<circle cx="901.3" cy="1622.2" r="4.2" fill="#0000ff"/>
<circle cx="905.6" cy="1638.9" r="4.2" fill="#0000ff"/>
<circle cx="909.9" cy="1653.2" r="4.2" fill="#0000ff"/>
<circle cx="914.4" cy="1665.8" r="4.2" fill="#0000ff"/>
<circle cx="914.4" cy="1667.5" r="4.2" fill="#0000ff"/>
<circle cx="919.5" cy="1669.5" r="4.2" fill="#0000ff"/>
<circle cx="925.6" cy="1669.1" r="4.2" fill="#0000ff"/>
<circle cx="931.7" cy="1668.5" r="4.2" fill="#0000ff"/>
<circle cx="937.8" cy="1669.1" r="4.2" fill="#0000ff"/>
<circle cx="944.0" cy="1668.5" r="4.2" fill="#0000ff"/>
<circle cx="950.1" cy="1667.5" r="4.2" fill="#0000ff"/>
<circle cx="956.2" cy="1667.9" r="4.2" fill="#0000ff"/>
<circle cx="962.3" cy="1667.9" r="4.2" fill="#0000ff"/>
<circle cx="968.4" cy="1666.5" r="4.2" fill="#0000ff"/>
<circle cx="974.6" cy="1665.0" r="4.2" fill="#0000ff"/>
<circle cx="980.7" cy="1665.8" r="4.2" fill="#0000ff"/>
<circle cx="986.8" cy="1667.5" r="4.2" fill="#0000ff"/>
<circle cx="992.9" cy="1665.8" r="4.2" fill="#0000ff"/>
<circle cx="999.0" cy="1665.0" r="4.2" fill="#0000ff"/>
<circle cx="1005.2" cy="1663.4" r="4.2" fill="#0000ff"/>
<circle cx="1010.3" cy="1661.0" r="4.2" fill="#0000ff"/>
<circle cx="1013.3" cy="1658.9" r="4.2" fill="#0000ff"/>
<circle cx="1017.4" cy="1665.0" r="4.2" fill="#0000ff"/>
<circle cx="1021.5" cy="1660.3" r="4.2" fill="#0000ff"/>
<circle cx="1026.6" cy="1663.0" r="4.2" fill="#0000ff"/>
<circle cx="1031.7" cy="1664.4" r="4.2" fill="#0000ff"/>
<circle cx="1037.8" cy="1665.4" r="4.2" fill="#0000ff"/>
<circle cx="1043.9" cy="1665.8" r="4.2" fill="#0000ff"/>
<circle cx="1050.0" cy="1665.0" r="4.2" fill="#0000ff"/>
<circle cx="1056.2" cy="1665.4" r="4.2" fill="#0000ff"/>
<circle cx="1060.2" cy="1666.5" r="4.2" fill="#0000ff"/>
<circle cx="1064.3" cy="1664.4" r="4.2" fill="#0000ff"/>
<circle cx="1068.4" cy="1663.0" r="4.2" fill="#0000ff"/>
<circle cx="1072.5" cy="1663.4" r="4.2" fill="#0000ff"/>
<circle cx="1076.6" cy="1665.4" r="4.2" fill="#0000ff"/>
<circle cx="1080.6" cy="1662.4" r="4.2" fill="#0000ff"/>
<circle cx="1084.7" cy="1663.4" r="4.2" fill="#0000ff"/>
<circle cx="1088.8" cy="1665.0" r="4.2" fill="#0000ff"/>
<circle cx="1092.9" cy="1664.4" r="4.2" fill="#0000ff"/>
<circle cx="1097.0" cy="1663.0" r="4.2" fill="#0000ff"/>
<circle cx="1101.0" cy="1662.4" r="4.2" fill="#0000ff"/>
<circle cx="1107.2" cy="1663.0" r="4.2" fill="#0000ff"/>
<circle cx="1111.2" cy="1661.4" r="4.2" fill="#0000ff"/>
<circle cx="1115.3" cy="1658.3" r="4.2" fill="#0000ff"/>
<circle cx="1119.4" cy="1661.4" r="4.2" fill="#0000ff"/>
<circle cx="1123.5" cy="1663.0" r="4.2" fill="#0000ff"/>
<circle cx="1127.6" cy="1663.4" r="4.2" fill="#0000ff"/>
<circle cx="1132.7" cy="1665.8" r="4.2" fill="#0000ff"/>
<circle cx="1136.7" cy="1664.4" r="4.2" fill="#0000ff"/>
<circle cx="1140.8" cy="1659.7" r="4.2" fill="#0000ff"/>
<circle cx="1144.9" cy="1661.4" r="4.2" fill="#0000ff"/>
<circle cx="1149.0" cy="1658.9" r="4.2" fill="#0000ff"/>
<circle cx="1153.1" cy="1657.7" r="4.2" fill="#0000ff"/>
<circle cx="1157.1" cy="1658.3" r="4.2" fill="#0000ff"/>
<circle cx="134.5" cy="1642.8" r="4.3" fill="#ff0000"/>
<circle cx="135.9" cy="1641.8" r="4.3" fill="#ff0000"/>
<circle cx="137.2" cy="1641.9" r="4.3" fill="#ff0000"/>
<circle cx="138.6" cy="1642.8" r="4.3" fill="#ff0000"/>
<circle cx="140.0" cy="1643.6" r="4.3" fill="#ff0000"/>
<circle cx="141.7" cy="1641.0" r="4.3" fill="#ff0000"/>
<circle cx="143.3" cy="1643.6" r="4.3" fill="#ff0000"/>
<circle cx="145.0" cy="1643.6" r="4.3" fill="#ff0000"/>
<circle cx="146.7" cy="1641.6" r="4.3" fill="#ff0000"/>
<circle cx="148.3" cy="1641.9" r="4.3" fill="#ff0000"/>
<circle cx="150.0" cy="1642.0" r="4.3" fill="#ff0000"/>
<circle cx="151.7" cy="1643.3" r="4.3" fill="#ff0000"/>
<circle cx="153.3" cy="1643.7" r="4.3" fill="#ff0000"/>
<circle cx="155.0" cy="1643.3" r="4.3" fill="#ff0000"/>
<circle cx="156.7" cy="1641.0" r="4.3" fill="#ff0000"/>
<circle cx="158.3" cy="1640.9" r="4.3" fill="#ff0000"/>
<circle cx="160.0" cy="1642.0" r="4.3" fill="#ff0000"/>
<circle cx="161.3" cy="1642.6" r="4.3" fill="#ff0000"/>
<circle cx="162.7" cy="1642.0" r="4.3" fill="#ff0000"/>
<circle cx="164.0" cy="1640.7" r="4.3" fill="#ff0000"/>
<circle cx="165.5" cy="1640.4" r="4.3" fill="#ff0000"/>
<circle cx="167.0" cy="1642.4" r="4.3" fill="#ff0000"/>
<circle cx="168.5" cy="1641.6" r="4.3" fill="#ff0000"/>
<circle cx="170.0" cy="1644.2" r="4.3" fill="#ff0000"/>
<circle cx="171.2" cy="1643.5" r="4.3" fill="#ff0000"/>
<circle cx="172.5" cy="1643.6" r="4.3" fill="#ff0000"/>
<circle cx="173.8" cy="1645.5" r="4.3" fill="#ff0000"/>
<circle cx="175.0" cy="1644.7" r="4.3" fill="#ff0000"/>
<circle cx="176.5" cy="1645.7" r="4.3" fill="#ff0000"/>
<circle cx="178.0" cy="1645.1" r="4.3" fill="#ff0000"/>
<circle cx="179.3" cy="1644.5" r="4.3" fill="#ff0000"/>
<circle cx="180.7" cy="1643.9" r="4.3" fill="#ff0000"/>
<circle cx="182.0" cy="1644.6" r="4.3" fill="#ff0000"/>
<circle cx="183.3" cy="1642.3" r="4.3" fill="#ff0000"/>
<circle cx="184.7" cy="1644.1" r="4.3" fill="#ff0000"/>
<circle cx="186.0" cy="1643.5" r="4.3" fill="#ff0000"/>
<circle cx="187.3" cy="1642.9" r="4.3" fill="#ff0000"/>
<circle cx="188.7" cy="1641.1" r="4.3" fill="#ff0000"/>
<circle cx="190.0" cy="1641.4" r="4.3" fill="#ff0000"/>
<circle cx="191.3" cy="1644.0" r="4.3" fill="#ff0000"/>
<circle cx="192.7" cy="1644.0" r="4.3" fill="#ff0000"/>
<circle cx="194.0" cy="1644.3" r="4.3" fill="#ff0000"/>
<circle cx="195.3" cy="1643.4" r="4.3" fill="#ff0000"/>
<circle cx="196.7" cy="1646.1" r="4.3" fill="#ff0000"/>
<circle cx="198.0" cy="1644.2" r="4.3" fill="#ff0000"/>
<circle cx="199.3" cy="1645.1" r="4.3" fill="#ff0000"/>
<circle cx="200.7" cy="1644.8" r="4.3" fill="#ff0000"/>
<circle cx="202.0" cy="1644.2" r="4.3" fill="#ff0000"/>
<circle cx="203.3" cy="1643.9" r="4.3" fill="#ff0000"/>
<circle cx="204.7" cy="1643.5" r="4.3" fill="#ff0000"/>
<circle cx="206.0" cy="1643.8" r="4.3" fill="#ff0000"/>
<circle cx="207.3" cy="1645.6" r="4.3" fill="#ff0000"/>
<circle cx="208.7" cy="1644.1" r="4.3" fill="#ff0000"/>
<circle cx="210.0" cy="1645.3" r="4.3" fill="#ff0000"/>
<circle cx="211.2" cy="1645.7" r="4.3" fill="#ff0000"/>
<circle cx="212.5" cy="1646.8" r="4.3" fill="#ff0000"/>
<circle cx="213.8" cy="1646.6" r="4.3" fill="#ff0000"/>
<circle cx="215.0" cy="1646.0" r="4.3" fill="#ff0000"/>
<circle cx="216.7" cy="1645.0" r="4.3" fill="#ff0000"/>
<circle cx="218.3" cy="1646.3" r="4.3" fill="#ff0000"/>
<circle cx="220.0" cy="1645.5" r="4.3" fill="#ff0000"/>
<circle cx="221.7" cy="1647.8" r="4.3" fill="#ff0000"/>
<circle cx="223.3" cy="1646.6" r="4.3" fill="#ff0000"/>
<circle cx="225.0" cy="1647.2" r="4.3" fill="#ff0000"/>
<circle cx="226.3" cy="1646.0" r="4.3" fill="#ff0000"/>
<circle cx="227.7" cy="1644.5" r="4.3" fill="#ff0000"/>
<circle cx="229.0" cy="1643.6" r="4.3" fill="#ff0000"/>
<circle cx="229.8" cy="1642.1" r="4.3" fill="#ff0000"/>
<circle cx="230.5" cy="1642.0" r="4.3" fill="#ff0000"/>
<circle cx="231.2" cy="1639.2" r="4.3" fill="#ff0000"/>
<circle cx="232.0" cy="1638.5" r="4.3" fill="#ff0000"/>
<circle cx="233.3" cy="1639.5" r="4.3" fill="#ff0000"/>
<circle cx="234.7" cy="1639.2" r="4.3" fill="#ff0000"/>
<circle cx="236.0" cy="1636.6" r="4.3" fill="#ff0000"/>
<circle cx="237.3" cy="1638.9" r="4.3" fill="#ff0000"/>
<circle cx="238.7" cy="1639.5" r="4.3" fill="#ff0000"/>
<circle cx="240.0" cy="1639.5" r="4.3" fill="#ff0000"/>
<circle cx="241.7" cy="1641.1" r="4.3" fill="#ff0000"/>
<circle cx="243.3" cy="1641.7" r="4.3" fill="#ff0000"/>
<circle cx="245.0" cy="1641.7" r="4.3" fill="#ff0000"/>
<circle cx="246.7" cy="1640.4" r="4.3" fill="#ff0000"/>
<circle cx="248.3" cy="1640.4" r="4.3" fill="#ff0000"/>
<circle cx="250.0" cy="1640.3" r="4.3" fill="#ff0000"/>
<circle cx="251.7" cy="1642.1" r="4.3" fill="#ff0000"/>
<circle cx="253.3" cy="1643.5" r="4.3" fill="#ff0000"/>
<circle cx="255.0" cy="1643.7" r="4.3" fill="#ff0000"/>
<circle cx="256.7" cy="1643.9" r="4.3" fill="#ff0000"/>
<circle cx="258.3" cy="1642.5" r="4.3" fill="#ff0000"/>
<circle cx="260.0" cy="1643.0" r="4.3" fill="#ff0000"/>
<circle cx="261.7" cy="1644.5" r="4.3" fill="#ff0000"/>
<circle cx="263.3" cy="1644.4" r="4.3" fill="#ff0000"/>
<circle cx="265.0" cy="1642.4" r="4.3" fill="#ff0000"/>
<circle cx="266.7" cy="1643.2" r="4.3" fill="#ff0000"/>
<circle cx="268.3" cy="1642.8" r="4.3" fill="#ff0000"/>
<circle cx="270.0" cy="1642.3" r="4.3" fill="#ff0000"/>
<circle cx="271.7" cy="1645.0" r="4.3" fill="#ff0000"/>
<circle cx="273.3" cy="1645.8" r="4.3" fill="#ff0000"/>
<circle cx="275.0" cy="1644.4" r="4.3" fill="#ff0000"/>
<circle cx="276.2" cy="1644.3" r="4.3" fill="#ff0000"/>
<circle cx="277.5" cy="1644.1" r="4.3" fill="#ff0000"/>
<circle cx="278.8" cy="1642.0" r="4.3" fill="#ff0000"/>
<circle cx="280.0" cy="1641.8" r="4.3" fill="#ff0000"/>
<circle cx="281.7" cy="1643.6" r="4.3" fill="#ff0000"/>
<circle cx="283.3" cy="1641.6" r="4.3" fill="#ff0000"/>
<circle cx="285.0" cy="1642.2" r="4.3" fill="#ff0000"/>
<circle cx="286.7" cy="1642.6" r="4.3" fill="#ff0000"/>
<circle cx="288.3" cy="1642.6" r="4.3" fill="#ff0000"/>
<circle cx="290.0" cy="1641.6" r="4.3" fill="#ff0000"/>
<circle cx="291.7" cy="1641.0" r="4.3" fill="#ff0000"/>
<circle cx="293.3" cy="1640.8" r="4.3" fill="#ff0000"/>
<circle cx="295.0" cy="1642.5" r="4.3" fill="#ff0000"/>
<circle cx="296.7" cy="1641.3" r="4.3" fill="#ff0000"/>
<circle cx="298.3" cy="1640.6" r="4.3" fill="#ff0000"/>
<circle cx="300.0" cy="1642.6" r="4.3" fill="#ff0000"/>
<circle cx="301.2" cy="1640.9" r="4.3" fill="#ff0000"/>
<circle cx="302.5" cy="1642.9" r="4.3" fill="#ff0000"/>
<circle cx="303.8" cy="1644.1" r="4.3" fill="#ff0000"/>
<circle cx="305.0" cy="1642.2" r="4.3" fill="#ff0000"/>
<circle cx="306.2" cy="1644.8" r="4.3" fill="#ff0000"/>
<circle cx="307.5" cy="1645.3" r="4.3" fill="#ff0000"/>
<circle cx="308.8" cy="1643.7" r="4.3" fill="#ff0000"/>
<circle cx="310.0" cy="1645.9" r="4.3" fill="#ff0000"/>
<circle cx="311.7" cy="1645.4" r="4.3" fill="#ff0000"/>
<circle cx="313.3" cy="1645.4" r="4.3" fill="#ff0000"/>
<circle cx="315.0" cy="1645.0" r="4.3" fill="#ff0000"/>
<circle cx="316.7" cy="1645.3" r="4.3" fill="#ff0000"/>
<circle cx="318.3" cy="1644.5" r="4.3" fill="#ff0000"/>
<circle cx="320.0" cy="1644.7" r="4.3" fill="#ff0000"/>
<circle cx="321.7" cy="1643.6" r="4.3" fill="#ff0000"/>
<circle cx="323.3" cy="1643.4" r="4.3" fill="#ff0000"/>
<circle cx="325.0" cy="1641.9" r="4.3" fill="#ff0000"/>
<circle cx="326.7" cy="1643.9" r="4.3" fill="#ff0000"/>
<circle cx="328.3" cy="1643.0" r="4.3" fill="#ff0000"/>
<circle cx="330.0" cy="1643.4" r="4.3" fill="#ff0000"/>
<circle cx="331.7" cy="1644.3" r="4.3" fill="#ff0000"/>
<circle cx="333.3" cy="1641.7" r="4.3" fill="#ff0000"/>
<circle cx="335.0" cy="1643.8" r="4.3" fill="#ff0000"/>
<circle cx="336.7" cy="1642.7" r="4.3" fill="#ff0000"/>
<circle cx="338.3" cy="1641.9" r="4.3" fill="#ff0000"/>
<circle cx="340.0" cy="1642.1" r="4.3" fill="#ff0000"/>
<circle cx="341.7" cy="1642.9" r="4.3" fill="#ff0000"/>
<circle cx="343.3" cy="1644.0" r="4.3" fill="#ff0000"/>
<circle cx="345.0" cy="1642.2" r="4.3" fill="#ff0000"/>
<circle cx="346.7" cy="1643.3" r="4.3" fill="#ff0000"/>
<circle cx="348.3" cy="1641.4" r="4.3" fill="#ff0000"/>
<circle cx="350.0" cy="1642.0" r="4.3" fill="#ff0000"/>
<circle cx="351.7" cy="1642.5" r="4.3" fill="#ff0000"/>
<circle cx="353.3" cy="1641.3" r="4.3" fill="#ff0000"/>
<circle cx="355.0" cy="1642.0" r="4.3" fill="#ff0000"/>
<circle cx="356.7" cy="1639.3" r="4.3" fill="#ff0000"/>
<circle cx="358.3" cy="1639.3" r="4.3" fill="#ff0000"/>
<circle cx="360.0" cy="1639.0" r="4.3" fill="#ff0000"/>
<circle cx="361.7" cy="1641.0" r="4.3" fill="#ff0000"/>
<circle cx="363.3" cy="1639.7" r="4.3" fill="#ff0000"/>
<circle cx="365.0" cy="1640.5" r="4.3" fill="#ff0000"/>
<circle cx="366.7" cy="1639.6" r="4.3" fill="#ff0000"/>
<circle cx="368.3" cy="1640.2" r="4.3" fill="#ff0000"/>
<circle cx="370.0" cy="1640.9" r="4.3" fill="#ff0000"/>
<circle cx="371.7" cy="1641.5" r="4.3" fill="#ff0000"/>
<circle cx="373.3" cy="1641.4" r="4.3" fill="#ff0000"/>
<circle cx="375.0" cy="1641.0" r="4.3" fill="#ff0000"/>
<circle cx="376.7" cy="1640.9" r="4.3" fill="#ff0000"/>
<circle cx="378.3" cy="1639.5" r="4.3" fill="#ff0000"/>
<circle cx="380.0" cy="1638.4" r="4.3" fill="#ff0000"/>
<circle cx="381.6" cy="1638.3" r="4.3" fill="#ff0000"/>
<circle cx="383.3" cy="1637.9" r="4.3" fill="#ff0000"/>
<circle cx="384.9" cy="1638.5" r="4.3" fill="#ff0000"/>
<circle cx="386.1" cy="1637.6" r="4.3" fill="#ff0000"/>
<circle cx="387.3" cy="1636.7" r="4.3" fill="#ff0000"/>
<circle cx="388.5" cy="1637.8" r="4.3" fill="#ff0000"/>
<circle cx="389.7" cy="1635.0" r="4.3" fill="#ff0000"/>
<circle cx="390.9" cy="1635.2" r="4.3" fill="#ff0000"/>
<circle cx="392.1" cy="1633.9" r="4.3" fill="#ff0000"/>
<circle cx="393.4" cy="1635.2" r="4.3" fill="#ff0000"/>
<circle cx="394.6" cy="1633.2" r="4.3" fill="#ff0000"/>
<circle cx="395.8" cy="1632.1" r="4.3" fill="#ff0000"/>
<circle cx="397.1" cy="1632.5" r="4.3" fill="#ff0000"/>
<circle cx="398.3" cy="1632.7" r="4.3" fill="#ff0000"/>
<circle cx="399.5" cy="1632.0" r="4.3" fill="#ff0000"/>
<circle cx="402.4" cy="1626.7" r="4.3" fill="#ff0000"/>
<circle cx="402.9" cy="1619.9" r="4.3" fill="#ff0000"/>
<circle cx="403.3" cy="1607.7" r="4.3" fill="#ff0000"/>
<circle cx="403.8" cy="1601.9" r="4.3" fill="#ff0000"/>
<circle cx="404.3" cy="1587.8" r="4.3" fill="#ff0000"/>
<circle cx="405.3" cy="1566.4" r="4.3" fill="#ff0000"/>
<circle cx="410.2" cy="1557.6" r="4.3" fill="#ff0000"/>
<circle cx="407.2" cy="1508.5" r="4.3" fill="#ff0000"/>
<circle cx="409.7" cy="1514.3" r="4.3" fill="#ff0000"/>
<circle cx="406.0" cy="1510.0" r="4.3" fill="#ff0000"/>
<circle cx="411.1" cy="1587.3" r="4.3" fill="#ff0000"/>
<circle cx="411.6" cy="1593.1" r="4.3" fill="#ff0000"/>
<circle cx="412.1" cy="1598.0" r="4.3" fill="#ff0000"/>
<circle cx="412.6" cy="1601.9" r="4.3" fill="#ff0000"/>
<circle cx="413.1" cy="1612.6" r="4.3" fill="#ff0000"/>
<circle cx="413.6" cy="1618.4" r="4.3" fill="#ff0000"/>
<circle cx="414.5" cy="1626.3" r="4.3" fill="#ff0000"/>
<circle cx="415.0" cy="1627.1" r="4.3" fill="#ff0000"/>
<circle cx="415.5" cy="1629.0" r="4.3" fill="#ff0000"/>
<circle cx="416.0" cy="1630.4" r="4.3" fill="#ff0000"/>
<circle cx="416.9" cy="1632.8" r="4.3" fill="#ff0000"/>
<circle cx="417.9" cy="1634.0" r="4.3" fill="#ff0000"/>
<circle cx="418.6" cy="1634.4" r="4.3" fill="#ff0000"/>
<circle cx="419.2" cy="1636.5" r="4.3" fill="#ff0000"/>
<circle cx="419.9" cy="1638.5" r="4.3" fill="#ff0000"/>
<circle cx="420.5" cy="1640.1" r="4.3" fill="#ff0000"/>
<circle cx="421.2" cy="1640.5" r="4.3" fill="#ff0000"/>
<circle cx="421.8" cy="1641.8" r="4.3" fill="#ff0000"/>
<circle cx="422.8" cy="1642.7" r="4.3" fill="#ff0000"/>
<circle cx="423.8" cy="1643.7" r="4.3" fill="#ff0000"/>
<circle cx="425.2" cy="1644.6" r="4.3" fill="#ff0000"/>
<circle cx="426.7" cy="1643.6" r="4.3" fill="#ff0000"/>
<circle cx="428.0" cy="1643.6" r="4.3" fill="#ff0000"/>
<circle cx="429.3" cy="1643.0" r="4.3" fill="#ff0000"/>
<circle cx="430.6" cy="1642.4" r="4.3" fill="#ff0000"/>
<circle cx="431.9" cy="1641.8" r="4.3" fill="#ff0000"/>
<circle cx="433.2" cy="1641.4" r="4.3" fill="#ff0000"/>
<circle cx="434.5" cy="1642.9" r="4.3" fill="#ff0000"/>
<circle cx="436.4" cy="1641.7" r="4.3" fill="#ff0000"/>
<circle cx="438.4" cy="1641.8" r="4.3" fill="#ff0000"/>
<circle cx="439.7" cy="1639.8" r="4.3" fill="#ff0000"/>
<circle cx="441.0" cy="1638.8" r="4.3" fill="#ff0000"/>
<circle cx="442.3" cy="1639.2" r="4.3" fill="#ff0000"/>
<circle cx="444.2" cy="1639.5" r="4.3" fill="#ff0000"/>
<circle cx="446.1" cy="1638.4" r="4.3" fill="#ff0000"/>
<circle cx="447.4" cy="1638.0" r="4.3" fill="#ff0000"/>
<circle cx="448.7" cy="1640.1" r="4.3" fill="#ff0000"/>
<circle cx="450.0" cy="1638.7" r="4.3" fill="#ff0000"/>
<circle cx="451.3" cy="1638.9" r="4.3" fill="#ff0000"/>
<circle cx="452.6" cy="1638.7" r="4.3" fill="#ff0000"/>
<circle cx="453.9" cy="1637.6" r="4.3" fill="#ff0000"/>
<circle cx="455.2" cy="1637.9" r="4.3" fill="#ff0000"/>
<circle cx="456.5" cy="1637.3" r="4.3" fill="#ff0000"/>
<circle cx="457.8" cy="1638.3" r="4.3" fill="#ff0000"/>
<circle cx="459.8" cy="1638.2" r="4.3" fill="#ff0000"/>
<circle cx="461.7" cy="1638.1" r="4.3" fill="#ff0000"/>
<circle cx="463.0" cy="1639.3" r="4.3" fill="#ff0000"/>
<circle cx="464.3" cy="1638.9" r="4.3" fill="#ff0000"/>
<circle cx="465.6" cy="1639.1" r="4.3" fill="#ff0000"/>
<circle cx="466.9" cy="1637.7" r="4.3" fill="#ff0000"/>
<circle cx="468.2" cy="1637.4" r="4.3" fill="#ff0000"/>
<circle cx="469.5" cy="1635.8" r="4.3" fill="#ff0000"/>
<circle cx="469.8" cy="1635.7" r="4.3" fill="#ff0000"/>
<circle cx="470.2" cy="1632.1" r="4.3" fill="#ff0000"/>
<circle cx="470.5" cy="1631.4" r="4.3" fill="#ff0000"/>
<circle cx="470.7" cy="1631.4" r="4.3" fill="#ff0000"/>
<circle cx="470.9" cy="1628.1" r="4.3" fill="#ff0000"/>
<circle cx="471.2" cy="1627.1" r="4.3" fill="#ff0000"/>
<circle cx="471.4" cy="1625.7" r="4.3" fill="#ff0000"/>
<circle cx="471.6" cy="1623.6" r="4.3" fill="#ff0000"/>
<circle cx="471.9" cy="1623.8" r="4.3" fill="#ff0000"/>
<circle cx="472.1" cy="1620.7" r="4.3" fill="#ff0000"/>
<circle cx="472.4" cy="1621.4" r="4.3" fill="#ff0000"/>
<circle cx="473.4" cy="1619.0" r="4.3" fill="#ff0000"/>
<circle cx="474.9" cy="1618.7" r="4.3" fill="#ff0000"/>
<circle cx="476.3" cy="1621.3" r="4.3" fill="#ff0000"/>
<circle cx="476.5" cy="1622.5" r="4.3" fill="#ff0000"/>
<circle cx="476.7" cy="1623.7" r="4.3" fill="#ff0000"/>
<circle cx="476.9" cy="1625.1" r="4.3" fill="#ff0000"/>
<circle cx="477.1" cy="1627.7" r="4.3" fill="#ff0000"/>
<circle cx="477.3" cy="1628.1" r="4.3" fill="#ff0000"/>
</g>
<line x1="176.91" y1="77.00" x2="176.91" y2="84.50" stroke="#000" stroke-width="1.7" />
<line x1="176.91" y1="282.20" x2="176.91" y2="274.70" stroke="#000" stroke-width="1.7" />
<line x1="219.53" y1="77.00" x2="219.53" y2="84.50" stroke="#000" stroke-width="1.7" />
<line x1="219.53" y1="282.20" x2="219.53" y2="274.70" stroke="#000" stroke-width="1.7" />
<line x1="262.14" y1="77.00" x2="262.14" y2="84.50" stroke="#000" stroke-width="1.7" />
<line x1="262.14" y1="282.20" x2="262.14" y2="274.70" stroke="#000" stroke-width="1.7" />
<line x1="304.75" y1="77.00" x2="304.75" y2="84.50" stroke="#000" stroke-width="1.7" />
<line x1="304.75" y1="282.20" x2="304.75" y2="274.70" stroke="#000" stroke-width="1.7" />
<line x1="347.36" y1="77.00" x2="347.36" y2="84.50" stroke="#000" stroke-width="1.7" />
<line x1="347.36" y1="282.20" x2="347.36" y2="274.70" stroke="#000" stroke-width="1.7" />
<line x1="389.98" y1="77.00" x2="389.98" y2="100.00" stroke="#000" stroke-width="1.7" />
<line x1="389.98" y1="282.20" x2="389.98" y2="259.20" stroke="#000" stroke-width="1.7" />
<line x1="432.59" y1="77.00" x2="432.59" y2="84.50" stroke="#000" stroke-width="1.7" />
<line x1="432.59" y1="282.20" x2="432.59" y2="274.70" stroke="#000" stroke-width="1.7" />
<line x1="475.20" y1="77.00" x2="475.20" y2="84.50" stroke="#000" stroke-width="1.7" />
<line x1="475.20" y1="282.20" x2="475.20" y2="274.70" stroke="#000" stroke-width="1.7" />
<line x1="517.81" y1="77.00" x2="517.81" y2="84.50" stroke="#000" stroke-width="1.7" />
<line x1="517.81" y1="282.20" x2="517.81" y2="274.70" stroke="#000" stroke-width="1.7" />
<line x1="560.43" y1="77.00" x2="560.43" y2="84.50" stroke="#000" stroke-width="1.7" />
<line x1="560.43" y1="282.20" x2="560.43" y2="274.70" stroke="#000" stroke-width="1.7" />
<line x1="603.04" y1="77.00" x2="603.04" y2="84.50" stroke="#000" stroke-width="1.7" />
<line x1="603.04" y1="282.20" x2="603.04" y2="274.70" stroke="#000" stroke-width="1.7" />
<line x1="645.65" y1="77.00" x2="645.65" y2="100.00" stroke="#000" stroke-width="1.7" />
<line x1="645.65" y1="282.20" x2="645.65" y2="259.20" stroke="#000" stroke-width="1.7" />
<line x1="688.26" y1="77.00" x2="688.26" y2="84.50" stroke="#000" stroke-width="1.7" />
<line x1="688.26" y1="282.20" x2="688.26" y2="274.70" stroke="#000" stroke-width="1.7" />
<line x1="730.88" y1="77.00" x2="730.88" y2="84.50" stroke="#000" stroke-width="1.7" />
<line x1="730.88" y1="282.20" x2="730.88" y2="274.70" stroke="#000" stroke-width="1.7" />
<line x1="773.49" y1="77.00" x2="773.49" y2="84.50" stroke="#000" stroke-width="1.7" />
<line x1="773.49" y1="282.20" x2="773.49" y2="274.70" stroke="#000" stroke-width="1.7" />
<line x1="816.10" y1="77.00" x2="816.10" y2="84.50" stroke="#000" stroke-width="1.7" />
<line x1="816.10" y1="282.20" x2="816.10" y2="274.70" stroke="#000" stroke-width="1.7" />
<line x1="858.71" y1="77.00" x2="858.71" y2="84.50" stroke="#000" stroke-width="1.7" />
<line x1="858.71" y1="282.20" x2="858.71" y2="274.70" stroke="#000" stroke-width="1.7" />
<line x1="901.33" y1="77.00" x2="901.33" y2="100.00" stroke="#000" stroke-width="1.7" />
<line x1="901.33" y1="282.20" x2="901.33" y2="259.20" stroke="#000" stroke-width="1.7" />
<line x1="943.94" y1="77.00" x2="943.94" y2="84.50" stroke="#000" stroke-width="1.7" />
<line x1="943.94" y1="282.20" x2="943.94" y2="274.70" stroke="#000" stroke-width="1.7" />
<line x1="986.55" y1="77.00" x2="986.55" y2="84.50" stroke="#000" stroke-width="1.7" />
<line x1="986.55" y1="282.20" x2="986.55" y2="274.70" stroke="#000" stroke-width="1.7" />
<line x1="1029.16" y1="77.00" x2="1029.16" y2="84.50" stroke="#000" stroke-width="1.7" />
<line x1="1029.16" y1="282.20" x2="1029.16" y2="274.70" stroke="#000" stroke-width="1.7" />
<line x1="1071.78" y1="77.00" x2="1071.78" y2="84.50" stroke="#000" stroke-width="1.7" />
<line x1="1071.78" y1="282.20" x2="1071.78" y2="274.70" stroke="#000" stroke-width="1.7" />
<line x1="1114.39" y1="77.00" x2="1114.39" y2="84.50" stroke="#000" stroke-width="1.7" />
<line x1="1114.39" y1="282.20" x2="1114.39" y2="274.70" stroke="#000" stroke-width="1.7" />
<line x1="134.30" y1="271.94" x2="139.30" y2="271.94" stroke="#000" stroke-width="1.7" />
<line x1="1157.00" y1="271.94" x2="1152.00" y2="271.94" stroke="#000" stroke-width="1.7" />
<line x1="134.30" y1="261.68" x2="139.30" y2="261.68" stroke="#000" stroke-width="1.7" />
<line x1="1157.00" y1="261.68" x2="1152.00" y2="261.68" stroke="#000" stroke-width="1.7" />
<line x1="134.30" y1="251.42" x2="139.30" y2="251.42" stroke="#000" stroke-width="1.7" />
<line x1="1157.00" y1="251.42" x2="1152.00" y2="251.42" stroke="#000" stroke-width="1.7" />
<line x1="134.30" y1="241.16" x2="146.80" y2="241.16" stroke="#000" stroke-width="1.7" />
<line x1="1157.00" y1="241.16" x2="1144.50" y2="241.16" stroke="#000" stroke-width="1.7" />
<line x1="134.30" y1="230.90" x2="139.30" y2="230.90" stroke="#000" stroke-width="1.7" />
<line x1="1157.00" y1="230.90" x2="1152.00" y2="230.90" stroke="#000" stroke-width="1.7" />
<line x1="134.30" y1="220.64" x2="139.30" y2="220.64" stroke="#000" stroke-width="1.7" />
<line x1="1157.00" y1="220.64" x2="1152.00" y2="220.64" stroke="#000" stroke-width="1.7" />
<line x1="134.30" y1="210.38" x2="139.30" y2="210.38" stroke="#000" stroke-width="1.7" />
<line x1="1157.00" y1="210.38" x2="1152.00" y2="210.38" stroke="#000" stroke-width="1.7" />
<line x1="134.30" y1="200.12" x2="146.80" y2="200.12" stroke="#000" stroke-width="1.7" />
<line x1="1157.00" y1="200.12" x2="1144.50" y2="200.12" stroke="#000" stroke-width="1.7" />
<line x1="134.30" y1="189.86" x2="139.30" y2="189.86" stroke="#000" stroke-width="1.7" />
<line x1="1157.00" y1="189.86" x2="1152.00" y2="189.86" stroke="#000" stroke-width="1.7" />
<line x1="134.30" y1="179.60" x2="139.30" y2="179.60" stroke="#000" stroke-width="1.7" />
<line x1="1157.00" y1="179.60" x2="1152.00" y2="179.60" stroke="#000" stroke-width="1.7" />
<line x1="134.30" y1="169.34" x2="139.30" y2="169.34" stroke="#000" stroke-width="1.7" />
<line x1="1157.00" y1="169.34" x2="1152.00" y2="169.34" stroke="#000" stroke-width="1.7" />
<line x1="134.30" y1="159.08" x2="146.80" y2="159.08" stroke="#000" stroke-width="1.7" />
<line x1="1157.00" y1="159.08" x2="1144.50" y2="159.08" stroke="#000" stroke-width="1.7" />
<line x1="134.30" y1="148.82" x2="139.30" y2="148.82" stroke="#000" stroke-width="1.7" />
<line x1="1157.00" y1="148.82" x2="1152.00" y2="148.82" stroke="#000" stroke-width="1.7" />
<line x1="134.30" y1="138.56" x2="139.30" y2="138.56" stroke="#000" stroke-width="1.7" />
<line x1="1157.00" y1="138.56" x2="1152.00" y2="138.56" stroke="#000" stroke-width="1.7" />
<line x1="134.30" y1="128.30" x2="139.30" y2="128.30" stroke="#000" stroke-width="1.7" />
<line x1="1157.00" y1="128.30" x2="1152.00" y2="128.30" stroke="#000" stroke-width="1.7" />
<line x1="134.30" y1="118.04" x2="146.80" y2="118.04" stroke="#000" stroke-width="1.7" />
<line x1="1157.00" y1="118.04" x2="1144.50" y2="118.04" stroke="#000" stroke-width="1.7" />
<line x1="134.30" y1="107.78" x2="139.30" y2="107.78" stroke="#000" stroke-width="1.7" />
<line x1="1157.00" y1="107.78" x2="1152.00" y2="107.78" stroke="#000" stroke-width="1.7" />
<line x1="134.30" y1="97.52" x2="139.30" y2="97.52" stroke="#000" stroke-width="1.7" />
<line x1="1157.00" y1="97.52" x2="1152.00" y2="97.52" stroke="#000" stroke-width="1.7" />
<line x1="134.30" y1="87.26" x2="139.30" y2="87.26" stroke="#000" stroke-width="1.7" />
<line x1="1157.00" y1="87.26" x2="1152.00" y2="87.26" stroke="#000" stroke-width="1.7" />
<rect x="134.3" y="77.0" width="1022.70" height="205.20" fill="none" stroke="#000" stroke-width="1.8"/>
<line x1="176.91" y1="282.20" x2="176.91" y2="289.70" stroke="#000" stroke-width="1.7" />
<line x1="176.91" y1="487.40" x2="176.91" y2="479.90" stroke="#000" stroke-width="1.7" />
<line x1="219.53" y1="282.20" x2="219.53" y2="289.70" stroke="#000" stroke-width="1.7" />
<line x1="219.53" y1="487.40" x2="219.53" y2="479.90" stroke="#000" stroke-width="1.7" />
<line x1="262.14" y1="282.20" x2="262.14" y2="289.70" stroke="#000" stroke-width="1.7" />
<line x1="262.14" y1="487.40" x2="262.14" y2="479.90" stroke="#000" stroke-width="1.7" />
<line x1="304.75" y1="282.20" x2="304.75" y2="289.70" stroke="#000" stroke-width="1.7" />
<line x1="304.75" y1="487.40" x2="304.75" y2="479.90" stroke="#000" stroke-width="1.7" />
<line x1="347.36" y1="282.20" x2="347.36" y2="289.70" stroke="#000" stroke-width="1.7" />
<line x1="347.36" y1="487.40" x2="347.36" y2="479.90" stroke="#000" stroke-width="1.7" />
<line x1="389.98" y1="282.20" x2="389.98" y2="305.20" stroke="#000" stroke-width="1.7" />
<line x1="389.98" y1="487.40" x2="389.98" y2="464.40" stroke="#000" stroke-width="1.7" />
<line x1="432.59" y1="282.20" x2="432.59" y2="289.70" stroke="#000" stroke-width="1.7" />
<line x1="432.59" y1="487.40" x2="432.59" y2="479.90" stroke="#000" stroke-width="1.7" />
<line x1="475.20" y1="282.20" x2="475.20" y2="289.70" stroke="#000" stroke-width="1.7" />
<line x1="475.20" y1="487.40" x2="475.20" y2="479.90" stroke="#000" stroke-width="1.7" />
<line x1="517.81" y1="282.20" x2="517.81" y2="289.70" stroke="#000" stroke-width="1.7" />
<line x1="517.81" y1="487.40" x2="517.81" y2="479.90" stroke="#000" stroke-width="1.7" />
<line x1="560.43" y1="282.20" x2="560.43" y2="289.70" stroke="#000" stroke-width="1.7" />
<line x1="560.43" y1="487.40" x2="560.43" y2="479.90" stroke="#000" stroke-width="1.7" />
<line x1="603.04" y1="282.20" x2="603.04" y2="289.70" stroke="#000" stroke-width="1.7" />
<line x1="603.04" y1="487.40" x2="603.04" y2="479.90" stroke="#000" stroke-width="1.7" />
<line x1="645.65" y1="282.20" x2="645.65" y2="305.20" stroke="#000" stroke-width="1.7" />
<line x1="645.65" y1="487.40" x2="645.65" y2="464.40" stroke="#000" stroke-width="1.7" />
<line x1="688.26" y1="282.20" x2="688.26" y2="289.70" stroke="#000" stroke-width="1.7" />
<line x1="688.26" y1="487.40" x2="688.26" y2="479.90" stroke="#000" stroke-width="1.7" />
<line x1="730.88" y1="282.20" x2="730.88" y2="289.70" stroke="#000" stroke-width="1.7" />
<line x1="730.88" y1="487.40" x2="730.88" y2="479.90" stroke="#000" stroke-width="1.7" />
<line x1="773.49" y1="282.20" x2="773.49" y2="289.70" stroke="#000" stroke-width="1.7" />
<line x1="773.49" y1="487.40" x2="773.49" y2="479.90" stroke="#000" stroke-width="1.7" />
<line x1="816.10" y1="282.20" x2="816.10" y2="289.70" stroke="#000" stroke-width="1.7" />
<line x1="816.10" y1="487.40" x2="816.10" y2="479.90" stroke="#000" stroke-width="1.7" />
<line x1="858.71" y1="282.20" x2="858.71" y2="289.70" stroke="#000" stroke-width="1.7" />
<line x1="858.71" y1="487.40" x2="858.71" y2="479.90" stroke="#000" stroke-width="1.7" />
<line x1="901.33" y1="282.20" x2="901.33" y2="305.20" stroke="#000" stroke-width="1.7" />
<line x1="901.33" y1="487.40" x2="901.33" y2="464.40" stroke="#000" stroke-width="1.7" />
<line x1="943.94" y1="282.20" x2="943.94" y2="289.70" stroke="#000" stroke-width="1.7" />
<line x1="943.94" y1="487.40" x2="943.94" y2="479.90" stroke="#000" stroke-width="1.7" />
<line x1="986.55" y1="282.20" x2="986.55" y2="289.70" stroke="#000" stroke-width="1.7" />
<line x1="986.55" y1="487.40" x2="986.55" y2="479.90" stroke="#000" stroke-width="1.7" />
<line x1="1029.16" y1="282.20" x2="1029.16" y2="289.70" stroke="#000" stroke-width="1.7" />
<line x1="1029.16" y1="487.40" x2="1029.16" y2="479.90" stroke="#000" stroke-width="1.7" />
<line x1="1071.78" y1="282.20" x2="1071.78" y2="289.70" stroke="#000" stroke-width="1.7" />
<line x1="1071.78" y1="487.40" x2="1071.78" y2="479.90" stroke="#000" stroke-width="1.7" />
<line x1="1114.39" y1="282.20" x2="1114.39" y2="289.70" stroke="#000" stroke-width="1.7" />
<line x1="1114.39" y1="487.40" x2="1114.39" y2="479.90" stroke="#000" stroke-width="1.7" />
<line x1="134.30" y1="477.14" x2="139.30" y2="477.14" stroke="#000" stroke-width="1.7" />
<line x1="1157.00" y1="477.14" x2="1152.00" y2="477.14" stroke="#000" stroke-width="1.7" />
<line x1="134.30" y1="466.88" x2="146.80" y2="466.88" stroke="#000" stroke-width="1.7" />
<line x1="1157.00" y1="466.88" x2="1144.50" y2="466.88" stroke="#000" stroke-width="1.7" />
<line x1="134.30" y1="456.62" x2="139.30" y2="456.62" stroke="#000" stroke-width="1.7" />
<line x1="1157.00" y1="456.62" x2="1152.00" y2="456.62" stroke="#000" stroke-width="1.7" />
<line x1="134.30" y1="446.36" x2="139.30" y2="446.36" stroke="#000" stroke-width="1.7" />
<line x1="1157.00" y1="446.36" x2="1152.00" y2="446.36" stroke="#000" stroke-width="1.7" />
<line x1="134.30" y1="436.10" x2="139.30" y2="436.10" stroke="#000" stroke-width="1.7" />
<line x1="1157.00" y1="436.10" x2="1152.00" y2="436.10" stroke="#000" stroke-width="1.7" />
<line x1="134.30" y1="425.84" x2="146.80" y2="425.84" stroke="#000" stroke-width="1.7" />
<line x1="1157.00" y1="425.84" x2="1144.50" y2="425.84" stroke="#000" stroke-width="1.7" />
<line x1="134.30" y1="415.58" x2="139.30" y2="415.58" stroke="#000" stroke-width="1.7" />
<line x1="1157.00" y1="415.58" x2="1152.00" y2="415.58" stroke="#000" stroke-width="1.7" />
<line x1="134.30" y1="405.32" x2="139.30" y2="405.32" stroke="#000" stroke-width="1.7" />
<line x1="1157.00" y1="405.32" x2="1152.00" y2="405.32" stroke="#000" stroke-width="1.7" />
<line x1="134.30" y1="395.06" x2="139.30" y2="395.06" stroke="#000" stroke-width="1.7" />
<line x1="1157.00" y1="395.06" x2="1152.00" y2="395.06" stroke="#000" stroke-width="1.7" />
<line x1="134.30" y1="384.80" x2="146.80" y2="384.80" stroke="#000" stroke-width="1.7" />
<line x1="1157.00" y1="384.80" x2="1144.50" y2="384.80" stroke="#000" stroke-width="1.7" />
<line x1="134.30" y1="374.54" x2="139.30" y2="374.54" stroke="#000" stroke-width="1.7" />
<line x1="1157.00" y1="374.54" x2="1152.00" y2="374.54" stroke="#000" stroke-width="1.7" />
<line x1="134.30" y1="364.28" x2="139.30" y2="364.28" stroke="#000" stroke-width="1.7" />
<line x1="1157.00" y1="364.28" x2="1152.00" y2="364.28" stroke="#000" stroke-width="1.7" />
<line x1="134.30" y1="354.02" x2="139.30" y2="354.02" stroke="#000" stroke-width="1.7" />
<line x1="1157.00" y1="354.02" x2="1152.00" y2="354.02" stroke="#000" stroke-width="1.7" />
<line x1="134.30" y1="343.76" x2="146.80" y2="343.76" stroke="#000" stroke-width="1.7" />
<line x1="1157.00" y1="343.76" x2="1144.50" y2="343.76" stroke="#000" stroke-width="1.7" />
<line x1="134.30" y1="333.50" x2="139.30" y2="333.50" stroke="#000" stroke-width="1.7" />
<line x1="1157.00" y1="333.50" x2="1152.00" y2="333.50" stroke="#000" stroke-width="1.7" />
<line x1="134.30" y1="323.24" x2="139.30" y2="323.24" stroke="#000" stroke-width="1.7" />
<line x1="1157.00" y1="323.24" x2="1152.00" y2="323.24" stroke="#000" stroke-width="1.7" />
<line x1="134.30" y1="312.98" x2="139.30" y2="312.98" stroke="#000" stroke-width="1.7" />
<line x1="1157.00" y1="312.98" x2="1152.00" y2="312.98" stroke="#000" stroke-width="1.7" />
<line x1="134.30" y1="302.72" x2="146.80" y2="302.72" stroke="#000" stroke-width="1.7" />
<line x1="1157.00" y1="302.72" x2="1144.50" y2="302.72" stroke="#000" stroke-width="1.7" />
<line x1="134.30" y1="292.46" x2="139.30" y2="292.46" stroke="#000" stroke-width="1.7" />
<line x1="1157.00" y1="292.46" x2="1152.00" y2="292.46" stroke="#000" stroke-width="1.7" />
<rect x="134.3" y="282.2" width="1022.70" height="205.20" fill="none" stroke="#000" stroke-width="1.8"/>
<line x1="176.91" y1="487.40" x2="176.91" y2="494.90" stroke="#000" stroke-width="1.7" />
<line x1="176.91" y1="692.60" x2="176.91" y2="685.10" stroke="#000" stroke-width="1.7" />
<line x1="219.53" y1="487.40" x2="219.53" y2="494.90" stroke="#000" stroke-width="1.7" />
<line x1="219.53" y1="692.60" x2="219.53" y2="685.10" stroke="#000" stroke-width="1.7" />
<line x1="262.14" y1="487.40" x2="262.14" y2="494.90" stroke="#000" stroke-width="1.7" />
<line x1="262.14" y1="692.60" x2="262.14" y2="685.10" stroke="#000" stroke-width="1.7" />
<line x1="304.75" y1="487.40" x2="304.75" y2="494.90" stroke="#000" stroke-width="1.7" />
<line x1="304.75" y1="692.60" x2="304.75" y2="685.10" stroke="#000" stroke-width="1.7" />
<line x1="347.36" y1="487.40" x2="347.36" y2="494.90" stroke="#000" stroke-width="1.7" />
<line x1="347.36" y1="692.60" x2="347.36" y2="685.10" stroke="#000" stroke-width="1.7" />
<line x1="389.98" y1="487.40" x2="389.98" y2="510.40" stroke="#000" stroke-width="1.7" />
<line x1="389.98" y1="692.60" x2="389.98" y2="669.60" stroke="#000" stroke-width="1.7" />
<line x1="432.59" y1="487.40" x2="432.59" y2="494.90" stroke="#000" stroke-width="1.7" />
<line x1="432.59" y1="692.60" x2="432.59" y2="685.10" stroke="#000" stroke-width="1.7" />
<line x1="475.20" y1="487.40" x2="475.20" y2="494.90" stroke="#000" stroke-width="1.7" />
<line x1="475.20" y1="692.60" x2="475.20" y2="685.10" stroke="#000" stroke-width="1.7" />
<line x1="517.81" y1="487.40" x2="517.81" y2="494.90" stroke="#000" stroke-width="1.7" />
<line x1="517.81" y1="692.60" x2="517.81" y2="685.10" stroke="#000" stroke-width="1.7" />
<line x1="560.43" y1="487.40" x2="560.43" y2="494.90" stroke="#000" stroke-width="1.7" />
<line x1="560.43" y1="692.60" x2="560.43" y2="685.10" stroke="#000" stroke-width="1.7" />
<line x1="603.04" y1="487.40" x2="603.04" y2="494.90" stroke="#000" stroke-width="1.7" />
<line x1="603.04" y1="692.60" x2="603.04" y2="685.10" stroke="#000" stroke-width="1.7" />
<line x1="645.65" y1="487.40" x2="645.65" y2="510.40" stroke="#000" stroke-width="1.7" />
<line x1="645.65" y1="692.60" x2="645.65" y2="669.60" stroke="#000" stroke-width="1.7" />
<line x1="688.26" y1="487.40" x2="688.26" y2="494.90" stroke="#000" stroke-width="1.7" />
<line x1="688.26" y1="692.60" x2="688.26" y2="685.10" stroke="#000" stroke-width="1.7" />
<line x1="730.88" y1="487.40" x2="730.88" y2="494.90" stroke="#000" stroke-width="1.7" />
<line x1="730.88" y1="692.60" x2="730.88" y2="685.10" stroke="#000" stroke-width="1.7" />
<line x1="773.49" y1="487.40" x2="773.49" y2="494.90" stroke="#000" stroke-width="1.7" />
<line x1="773.49" y1="692.60" x2="773.49" y2="685.10" stroke="#000" stroke-width="1.7" />
<line x1="816.10" y1="487.40" x2="816.10" y2="494.90" stroke="#000" stroke-width="1.7" />
<line x1="816.10" y1="692.60" x2="816.10" y2="685.10" stroke="#000" stroke-width="1.7" />
<line x1="858.71" y1="487.40" x2="858.71" y2="494.90" stroke="#000" stroke-width="1.7" />
<line x1="858.71" y1="692.60" x2="858.71" y2="685.10" stroke="#000" stroke-width="1.7" />
<line x1="901.33" y1="487.40" x2="901.33" y2="510.40" stroke="#000" stroke-width="1.7" />
<line x1="901.33" y1="692.60" x2="901.33" y2="669.60" stroke="#000" stroke-width="1.7" />
<line x1="943.94" y1="487.40" x2="943.94" y2="494.90" stroke="#000" stroke-width="1.7" />
<line x1="943.94" y1="692.60" x2="943.94" y2="685.10" stroke="#000" stroke-width="1.7" />
<line x1="986.55" y1="487.40" x2="986.55" y2="494.90" stroke="#000" stroke-width="1.7" />
<line x1="986.55" y1="692.60" x2="986.55" y2="685.10" stroke="#000" stroke-width="1.7" />
<line x1="1029.16" y1="487.40" x2="1029.16" y2="494.90" stroke="#000" stroke-width="1.7" />
<line x1="1029.16" y1="692.60" x2="1029.16" y2="685.10" stroke="#000" stroke-width="1.7" />
<line x1="1071.78" y1="487.40" x2="1071.78" y2="494.90" stroke="#000" stroke-width="1.7" />
<line x1="1071.78" y1="692.60" x2="1071.78" y2="685.10" stroke="#000" stroke-width="1.7" />
<line x1="1114.39" y1="487.40" x2="1114.39" y2="494.90" stroke="#000" stroke-width="1.7" />
<line x1="1114.39" y1="692.60" x2="1114.39" y2="685.10" stroke="#000" stroke-width="1.7" />
<line x1="134.30" y1="682.34" x2="139.30" y2="682.34" stroke="#000" stroke-width="1.7" />
<line x1="1157.00" y1="682.34" x2="1152.00" y2="682.34" stroke="#000" stroke-width="1.7" />
<line x1="134.30" y1="672.08" x2="146.80" y2="672.08" stroke="#000" stroke-width="1.7" />
<line x1="1157.00" y1="672.08" x2="1144.50" y2="672.08" stroke="#000" stroke-width="1.7" />
<line x1="134.30" y1="661.82" x2="139.30" y2="661.82" stroke="#000" stroke-width="1.7" />
<line x1="1157.00" y1="661.82" x2="1152.00" y2="661.82" stroke="#000" stroke-width="1.7" />
<line x1="134.30" y1="651.56" x2="139.30" y2="651.56" stroke="#000" stroke-width="1.7" />
<line x1="1157.00" y1="651.56" x2="1152.00" y2="651.56" stroke="#000" stroke-width="1.7" />
<line x1="134.30" y1="641.30" x2="139.30" y2="641.30" stroke="#000" stroke-width="1.7" />
<line x1="1157.00" y1="641.30" x2="1152.00" y2="641.30" stroke="#000" stroke-width="1.7" />
<line x1="134.30" y1="631.04" x2="146.80" y2="631.04" stroke="#000" stroke-width="1.7" />
<line x1="1157.00" y1="631.04" x2="1144.50" y2="631.04" stroke="#000" stroke-width="1.7" />
<line x1="134.30" y1="620.78" x2="139.30" y2="620.78" stroke="#000" stroke-width="1.7" />
<line x1="1157.00" y1="620.78" x2="1152.00" y2="620.78" stroke="#000" stroke-width="1.7" />
<line x1="134.30" y1="610.52" x2="139.30" y2="610.52" stroke="#000" stroke-width="1.7" />
<line x1="1157.00" y1="610.52" x2="1152.00" y2="610.52" stroke="#000" stroke-width="1.7" />
<line x1="134.30" y1="600.26" x2="139.30" y2="600.26" stroke="#000" stroke-width="1.7" />
<line x1="1157.00" y1="600.26" x2="1152.00" y2="600.26" stroke="#000" stroke-width="1.7" />
<line x1="134.30" y1="590.00" x2="146.80" y2="590.00" stroke="#000" stroke-width="1.7" />
<line x1="1157.00" y1="590.00" x2="1144.50" y2="590.00" stroke="#000" stroke-width="1.7" />
<line x1="134.30" y1="579.74" x2="139.30" y2="579.74" stroke="#000" stroke-width="1.7" />
<line x1="1157.00" y1="579.74" x2="1152.00" y2="579.74" stroke="#000" stroke-width="1.7" />
<line x1="134.30" y1="569.48" x2="139.30" y2="569.48" stroke="#000" stroke-width="1.7" />
<line x1="1157.00" y1="569.48" x2="1152.00" y2="569.48" stroke="#000" stroke-width="1.7" />
<line x1="134.30" y1="559.22" x2="139.30" y2="559.22" stroke="#000" stroke-width="1.7" />
<line x1="1157.00" y1="559.22" x2="1152.00" y2="559.22" stroke="#000" stroke-width="1.7" />
<line x1="134.30" y1="548.96" x2="146.80" y2="548.96" stroke="#000" stroke-width="1.7" />
<line x1="1157.00" y1="548.96" x2="1144.50" y2="548.96" stroke="#000" stroke-width="1.7" />
<line x1="134.30" y1="538.70" x2="139.30" y2="538.70" stroke="#000" stroke-width="1.7" />
<line x1="1157.00" y1="538.70" x2="1152.00" y2="538.70" stroke="#000" stroke-width="1.7" />
<line x1="134.30" y1="528.44" x2="139.30" y2="528.44" stroke="#000" stroke-width="1.7" />
<line x1="1157.00" y1="528.44" x2="1152.00" y2="528.44" stroke="#000" stroke-width="1.7" />
<line x1="134.30" y1="518.18" x2="139.30" y2="518.18" stroke="#000" stroke-width="1.7" />
<line x1="1157.00" y1="518.18" x2="1152.00" y2="518.18" stroke="#000" stroke-width="1.7" />
<line x1="134.30" y1="507.92" x2="146.80" y2="507.92" stroke="#000" stroke-width="1.7" />
<line x1="1157.00" y1="507.92" x2="1144.50" y2="507.92" stroke="#000" stroke-width="1.7" />
<line x1="134.30" y1="497.66" x2="139.30" y2="497.66" stroke="#000" stroke-width="1.7" />
<line x1="1157.00" y1="497.66" x2="1152.00" y2="497.66" stroke="#000" stroke-width="1.7" />
<rect x="134.3" y="487.4" width="1022.70" height="205.20" fill="none" stroke="#000" stroke-width="1.8"/>
<line x1="176.91" y1="692.60" x2="176.91" y2="700.10" stroke="#000" stroke-width="1.7" />
<line x1="176.91" y1="897.80" x2="176.91" y2="890.30" stroke="#000" stroke-width="1.7" />
<line x1="219.53" y1="692.60" x2="219.53" y2="700.10" stroke="#000" stroke-width="1.7" />
<line x1="219.53" y1="897.80" x2="219.53" y2="890.30" stroke="#000" stroke-width="1.7" />
<line x1="262.14" y1="692.60" x2="262.14" y2="700.10" stroke="#000" stroke-width="1.7" />
<line x1="262.14" y1="897.80" x2="262.14" y2="890.30" stroke="#000" stroke-width="1.7" />
<line x1="304.75" y1="692.60" x2="304.75" y2="700.10" stroke="#000" stroke-width="1.7" />
<line x1="304.75" y1="897.80" x2="304.75" y2="890.30" stroke="#000" stroke-width="1.7" />
<line x1="347.36" y1="692.60" x2="347.36" y2="700.10" stroke="#000" stroke-width="1.7" />
<line x1="347.36" y1="897.80" x2="347.36" y2="890.30" stroke="#000" stroke-width="1.7" />
<line x1="389.98" y1="692.60" x2="389.98" y2="715.60" stroke="#000" stroke-width="1.7" />
<line x1="389.98" y1="897.80" x2="389.98" y2="874.80" stroke="#000" stroke-width="1.7" />
<line x1="432.59" y1="692.60" x2="432.59" y2="700.10" stroke="#000" stroke-width="1.7" />
<line x1="432.59" y1="897.80" x2="432.59" y2="890.30" stroke="#000" stroke-width="1.7" />
<line x1="475.20" y1="692.60" x2="475.20" y2="700.10" stroke="#000" stroke-width="1.7" />
<line x1="475.20" y1="897.80" x2="475.20" y2="890.30" stroke="#000" stroke-width="1.7" />
<line x1="517.81" y1="692.60" x2="517.81" y2="700.10" stroke="#000" stroke-width="1.7" />
<line x1="517.81" y1="897.80" x2="517.81" y2="890.30" stroke="#000" stroke-width="1.7" />
<line x1="560.43" y1="692.60" x2="560.43" y2="700.10" stroke="#000" stroke-width="1.7" />
<line x1="560.43" y1="897.80" x2="560.43" y2="890.30" stroke="#000" stroke-width="1.7" />
<line x1="603.04" y1="692.60" x2="603.04" y2="700.10" stroke="#000" stroke-width="1.7" />
<line x1="603.04" y1="897.80" x2="603.04" y2="890.30" stroke="#000" stroke-width="1.7" />
<line x1="645.65" y1="692.60" x2="645.65" y2="715.60" stroke="#000" stroke-width="1.7" />
<line x1="645.65" y1="897.80" x2="645.65" y2="874.80" stroke="#000" stroke-width="1.7" />
<line x1="688.26" y1="692.60" x2="688.26" y2="700.10" stroke="#000" stroke-width="1.7" />
<line x1="688.26" y1="897.80" x2="688.26" y2="890.30" stroke="#000" stroke-width="1.7" />
<line x1="730.88" y1="692.60" x2="730.88" y2="700.10" stroke="#000" stroke-width="1.7" />
<line x1="730.88" y1="897.80" x2="730.88" y2="890.30" stroke="#000" stroke-width="1.7" />
<line x1="773.49" y1="692.60" x2="773.49" y2="700.10" stroke="#000" stroke-width="1.7" />
<line x1="773.49" y1="897.80" x2="773.49" y2="890.30" stroke="#000" stroke-width="1.7" />
<line x1="816.10" y1="692.60" x2="816.10" y2="700.10" stroke="#000" stroke-width="1.7" />
<line x1="816.10" y1="897.80" x2="816.10" y2="890.30" stroke="#000" stroke-width="1.7" />
<line x1="858.71" y1="692.60" x2="858.71" y2="700.10" stroke="#000" stroke-width="1.7" />
<line x1="858.71" y1="897.80" x2="858.71" y2="890.30" stroke="#000" stroke-width="1.7" />
<line x1="901.33" y1="692.60" x2="901.33" y2="715.60" stroke="#000" stroke-width="1.7" />
<line x1="901.33" y1="897.80" x2="901.33" y2="874.80" stroke="#000" stroke-width="1.7" />
<line x1="943.94" y1="692.60" x2="943.94" y2="700.10" stroke="#000" stroke-width="1.7" />
<line x1="943.94" y1="897.80" x2="943.94" y2="890.30" stroke="#000" stroke-width="1.7" />
<line x1="986.55" y1="692.60" x2="986.55" y2="700.10" stroke="#000" stroke-width="1.7" />
<line x1="986.55" y1="897.80" x2="986.55" y2="890.30" stroke="#000" stroke-width="1.7" />
<line x1="1029.16" y1="692.60" x2="1029.16" y2="700.10" stroke="#000" stroke-width="1.7" />
<line x1="1029.16" y1="897.80" x2="1029.16" y2="890.30" stroke="#000" stroke-width="1.7" />
<line x1="1071.78" y1="692.60" x2="1071.78" y2="700.10" stroke="#000" stroke-width="1.7" />
<line x1="1071.78" y1="897.80" x2="1071.78" y2="890.30" stroke="#000" stroke-width="1.7" />
<line x1="1114.39" y1="692.60" x2="1114.39" y2="700.10" stroke="#000" stroke-width="1.7" />
<line x1="1114.39" y1="897.80" x2="1114.39" y2="890.30" stroke="#000" stroke-width="1.7" />
<line x1="134.30" y1="886.40" x2="139.30" y2="886.40" stroke="#000" stroke-width="1.7" />
<line x1="1157.00" y1="886.40" x2="1152.00" y2="886.40" stroke="#000" stroke-width="1.7" />
<line x1="134.30" y1="875.00" x2="139.30" y2="875.00" stroke="#000" stroke-width="1.7" />
<line x1="1157.00" y1="875.00" x2="1152.00" y2="875.00" stroke="#000" stroke-width="1.7" />
<line x1="134.30" y1="863.60" x2="139.30" y2="863.60" stroke="#000" stroke-width="1.7" />
<line x1="1157.00" y1="863.60" x2="1152.00" y2="863.60" stroke="#000" stroke-width="1.7" />
<line x1="134.30" y1="852.20" x2="139.30" y2="852.20" stroke="#000" stroke-width="1.7" />
<line x1="1157.00" y1="852.20" x2="1152.00" y2="852.20" stroke="#000" stroke-width="1.7" />
<line x1="134.30" y1="840.80" x2="146.80" y2="840.80" stroke="#000" stroke-width="1.7" />
<line x1="1157.00" y1="840.80" x2="1144.50" y2="840.80" stroke="#000" stroke-width="1.7" />
<line x1="134.30" y1="829.40" x2="139.30" y2="829.40" stroke="#000" stroke-width="1.7" />
<line x1="1157.00" y1="829.40" x2="1152.00" y2="829.40" stroke="#000" stroke-width="1.7" />
<line x1="134.30" y1="818.00" x2="139.30" y2="818.00" stroke="#000" stroke-width="1.7" />
<line x1="1157.00" y1="818.00" x2="1152.00" y2="818.00" stroke="#000" stroke-width="1.7" />
<line x1="134.30" y1="806.60" x2="139.30" y2="806.60" stroke="#000" stroke-width="1.7" />
<line x1="1157.00" y1="806.60" x2="1152.00" y2="806.60" stroke="#000" stroke-width="1.7" />
<line x1="134.30" y1="795.20" x2="139.30" y2="795.20" stroke="#000" stroke-width="1.7" />
<line x1="1157.00" y1="795.20" x2="1152.00" y2="795.20" stroke="#000" stroke-width="1.7" />
<line x1="134.30" y1="783.80" x2="146.80" y2="783.80" stroke="#000" stroke-width="1.7" />
<line x1="1157.00" y1="783.80" x2="1144.50" y2="783.80" stroke="#000" stroke-width="1.7" />
<line x1="134.30" y1="772.40" x2="139.30" y2="772.40" stroke="#000" stroke-width="1.7" />
<line x1="1157.00" y1="772.40" x2="1152.00" y2="772.40" stroke="#000" stroke-width="1.7" />
<line x1="134.30" y1="761.00" x2="139.30" y2="761.00" stroke="#000" stroke-width="1.7" />
<line x1="1157.00" y1="761.00" x2="1152.00" y2="761.00" stroke="#000" stroke-width="1.7" />
<line x1="134.30" y1="749.60" x2="139.30" y2="749.60" stroke="#000" stroke-width="1.7" />
<line x1="1157.00" y1="749.60" x2="1152.00" y2="749.60" stroke="#000" stroke-width="1.7" />
<line x1="134.30" y1="738.20" x2="139.30" y2="738.20" stroke="#000" stroke-width="1.7" />
<line x1="1157.00" y1="738.20" x2="1152.00" y2="738.20" stroke="#000" stroke-width="1.7" />
<line x1="134.30" y1="726.80" x2="146.80" y2="726.80" stroke="#000" stroke-width="1.7" />
<line x1="1157.00" y1="726.80" x2="1144.50" y2="726.80" stroke="#000" stroke-width="1.7" />
<line x1="134.30" y1="715.40" x2="139.30" y2="715.40" stroke="#000" stroke-width="1.7" />
<line x1="1157.00" y1="715.40" x2="1152.00" y2="715.40" stroke="#000" stroke-width="1.7" />
<line x1="134.30" y1="704.00" x2="139.30" y2="704.00" stroke="#000" stroke-width="1.7" />
<line x1="1157.00" y1="704.00" x2="1152.00" y2="704.00" stroke="#000" stroke-width="1.7" />
<rect x="134.3" y="692.6" width="1022.70" height="205.20" fill="none" stroke="#000" stroke-width="1.8"/>
<line x1="176.91" y1="897.80" x2="176.91" y2="905.30" stroke="#000" stroke-width="1.7" />
<line x1="176.91" y1="1103.00" x2="176.91" y2="1095.50" stroke="#000" stroke-width="1.7" />
<line x1="219.53" y1="897.80" x2="219.53" y2="905.30" stroke="#000" stroke-width="1.7" />
<line x1="219.53" y1="1103.00" x2="219.53" y2="1095.50" stroke="#000" stroke-width="1.7" />
<line x1="262.14" y1="897.80" x2="262.14" y2="905.30" stroke="#000" stroke-width="1.7" />
<line x1="262.14" y1="1103.00" x2="262.14" y2="1095.50" stroke="#000" stroke-width="1.7" />
<line x1="304.75" y1="897.80" x2="304.75" y2="905.30" stroke="#000" stroke-width="1.7" />
<line x1="304.75" y1="1103.00" x2="304.75" y2="1095.50" stroke="#000" stroke-width="1.7" />
<line x1="347.36" y1="897.80" x2="347.36" y2="905.30" stroke="#000" stroke-width="1.7" />
<line x1="347.36" y1="1103.00" x2="347.36" y2="1095.50" stroke="#000" stroke-width="1.7" />
<line x1="389.98" y1="897.80" x2="389.98" y2="920.80" stroke="#000" stroke-width="1.7" />
<line x1="389.98" y1="1103.00" x2="389.98" y2="1080.00" stroke="#000" stroke-width="1.7" />
<line x1="432.59" y1="897.80" x2="432.59" y2="905.30" stroke="#000" stroke-width="1.7" />
<line x1="432.59" y1="1103.00" x2="432.59" y2="1095.50" stroke="#000" stroke-width="1.7" />
<line x1="475.20" y1="897.80" x2="475.20" y2="905.30" stroke="#000" stroke-width="1.7" />
<line x1="475.20" y1="1103.00" x2="475.20" y2="1095.50" stroke="#000" stroke-width="1.7" />
<line x1="517.81" y1="897.80" x2="517.81" y2="905.30" stroke="#000" stroke-width="1.7" />
<line x1="517.81" y1="1103.00" x2="517.81" y2="1095.50" stroke="#000" stroke-width="1.7" />
<line x1="560.43" y1="897.80" x2="560.43" y2="905.30" stroke="#000" stroke-width="1.7" />
<line x1="560.43" y1="1103.00" x2="560.43" y2="1095.50" stroke="#000" stroke-width="1.7" />
<line x1="603.04" y1="897.80" x2="603.04" y2="905.30" stroke="#000" stroke-width="1.7" />
<line x1="603.04" y1="1103.00" x2="603.04" y2="1095.50" stroke="#000" stroke-width="1.7" />
<line x1="645.65" y1="897.80" x2="645.65" y2="920.80" stroke="#000" stroke-width="1.7" />
<line x1="645.65" y1="1103.00" x2="645.65" y2="1080.00" stroke="#000" stroke-width="1.7" />
<line x1="688.26" y1="897.80" x2="688.26" y2="905.30" stroke="#000" stroke-width="1.7" />
<line x1="688.26" y1="1103.00" x2="688.26" y2="1095.50" stroke="#000" stroke-width="1.7" />
<line x1="730.88" y1="897.80" x2="730.88" y2="905.30" stroke="#000" stroke-width="1.7" />
<line x1="730.88" y1="1103.00" x2="730.88" y2="1095.50" stroke="#000" stroke-width="1.7" />
<line x1="773.49" y1="897.80" x2="773.49" y2="905.30" stroke="#000" stroke-width="1.7" />
<line x1="773.49" y1="1103.00" x2="773.49" y2="1095.50" stroke="#000" stroke-width="1.7" />
<line x1="816.10" y1="897.80" x2="816.10" y2="905.30" stroke="#000" stroke-width="1.7" />
<line x1="816.10" y1="1103.00" x2="816.10" y2="1095.50" stroke="#000" stroke-width="1.7" />
<line x1="858.71" y1="897.80" x2="858.71" y2="905.30" stroke="#000" stroke-width="1.7" />
<line x1="858.71" y1="1103.00" x2="858.71" y2="1095.50" stroke="#000" stroke-width="1.7" />
<line x1="901.33" y1="897.80" x2="901.33" y2="920.80" stroke="#000" stroke-width="1.7" />
<line x1="901.33" y1="1103.00" x2="901.33" y2="1080.00" stroke="#000" stroke-width="1.7" />
<line x1="943.94" y1="897.80" x2="943.94" y2="905.30" stroke="#000" stroke-width="1.7" />
<line x1="943.94" y1="1103.00" x2="943.94" y2="1095.50" stroke="#000" stroke-width="1.7" />
<line x1="986.55" y1="897.80" x2="986.55" y2="905.30" stroke="#000" stroke-width="1.7" />
<line x1="986.55" y1="1103.00" x2="986.55" y2="1095.50" stroke="#000" stroke-width="1.7" />
<line x1="1029.16" y1="897.80" x2="1029.16" y2="905.30" stroke="#000" stroke-width="1.7" />
<line x1="1029.16" y1="1103.00" x2="1029.16" y2="1095.50" stroke="#000" stroke-width="1.7" />
<line x1="1071.78" y1="897.80" x2="1071.78" y2="905.30" stroke="#000" stroke-width="1.7" />
<line x1="1071.78" y1="1103.00" x2="1071.78" y2="1095.50" stroke="#000" stroke-width="1.7" />
<line x1="1114.39" y1="897.80" x2="1114.39" y2="905.30" stroke="#000" stroke-width="1.7" />
<line x1="1114.39" y1="1103.00" x2="1114.39" y2="1095.50" stroke="#000" stroke-width="1.7" />
<line x1="134.30" y1="1092.74" x2="139.30" y2="1092.74" stroke="#000" stroke-width="1.7" />
<line x1="1157.00" y1="1092.74" x2="1152.00" y2="1092.74" stroke="#000" stroke-width="1.7" />
<line x1="134.30" y1="1082.48" x2="139.30" y2="1082.48" stroke="#000" stroke-width="1.7" />
<line x1="1157.00" y1="1082.48" x2="1152.00" y2="1082.48" stroke="#000" stroke-width="1.7" />
<line x1="134.30" y1="1072.22" x2="139.30" y2="1072.22" stroke="#000" stroke-width="1.7" />
<line x1="1157.00" y1="1072.22" x2="1152.00" y2="1072.22" stroke="#000" stroke-width="1.7" />
<line x1="134.30" y1="1061.96" x2="146.80" y2="1061.96" stroke="#000" stroke-width="1.7" />
<line x1="1157.00" y1="1061.96" x2="1144.50" y2="1061.96" stroke="#000" stroke-width="1.7" />
<line x1="134.30" y1="1051.70" x2="139.30" y2="1051.70" stroke="#000" stroke-width="1.7" />
<line x1="1157.00" y1="1051.70" x2="1152.00" y2="1051.70" stroke="#000" stroke-width="1.7" />
<line x1="134.30" y1="1041.44" x2="139.30" y2="1041.44" stroke="#000" stroke-width="1.7" />
<line x1="1157.00" y1="1041.44" x2="1152.00" y2="1041.44" stroke="#000" stroke-width="1.7" />
<line x1="134.30" y1="1031.18" x2="139.30" y2="1031.18" stroke="#000" stroke-width="1.7" />
<line x1="1157.00" y1="1031.18" x2="1152.00" y2="1031.18" stroke="#000" stroke-width="1.7" />
<line x1="134.30" y1="1020.92" x2="146.80" y2="1020.92" stroke="#000" stroke-width="1.7" />
<line x1="1157.00" y1="1020.92" x2="1144.50" y2="1020.92" stroke="#000" stroke-width="1.7" />
<line x1="134.30" y1="1010.66" x2="139.30" y2="1010.66" stroke="#000" stroke-width="1.7" />
<line x1="1157.00" y1="1010.66" x2="1152.00" y2="1010.66" stroke="#000" stroke-width="1.7" />
<line x1="134.30" y1="1000.40" x2="139.30" y2="1000.40" stroke="#000" stroke-width="1.7" />
<line x1="1157.00" y1="1000.40" x2="1152.00" y2="1000.40" stroke="#000" stroke-width="1.7" />
<line x1="134.30" y1="990.14" x2="139.30" y2="990.14" stroke="#000" stroke-width="1.7" />
<line x1="1157.00" y1="990.14" x2="1152.00" y2="990.14" stroke="#000" stroke-width="1.7" />
<line x1="134.30" y1="979.88" x2="146.80" y2="979.88" stroke="#000" stroke-width="1.7" />
<line x1="1157.00" y1="979.88" x2="1144.50" y2="979.88" stroke="#000" stroke-width="1.7" />
<line x1="134.30" y1="969.62" x2="139.30" y2="969.62" stroke="#000" stroke-width="1.7" />
<line x1="1157.00" y1="969.62" x2="1152.00" y2="969.62" stroke="#000" stroke-width="1.7" />
<line x1="134.30" y1="959.36" x2="139.30" y2="959.36" stroke="#000" stroke-width="1.7" />
<line x1="1157.00" y1="959.36" x2="1152.00" y2="959.36" stroke="#000" stroke-width="1.7" />
<line x1="134.30" y1="949.10" x2="139.30" y2="949.10" stroke="#000" stroke-width="1.7" />
<line x1="1157.00" y1="949.10" x2="1152.00" y2="949.10" stroke="#000" stroke-width="1.7" />
<line x1="134.30" y1="938.84" x2="146.80" y2="938.84" stroke="#000" stroke-width="1.7" />
<line x1="1157.00" y1="938.84" x2="1144.50" y2="938.84" stroke="#000" stroke-width="1.7" />
<line x1="134.30" y1="928.58" x2="139.30" y2="928.58" stroke="#000" stroke-width="1.7" />
<line x1="1157.00" y1="928.58" x2="1152.00" y2="928.58" stroke="#000" stroke-width="1.7" />
<line x1="134.30" y1="918.32" x2="139.30" y2="918.32" stroke="#000" stroke-width="1.7" />
<line x1="1157.00" y1="918.32" x2="1152.00" y2="918.32" stroke="#000" stroke-width="1.7" />
<line x1="134.30" y1="908.06" x2="139.30" y2="908.06" stroke="#000" stroke-width="1.7" />
<line x1="1157.00" y1="908.06" x2="1152.00" y2="908.06" stroke="#000" stroke-width="1.7" />
<rect x="134.3" y="897.8" width="1022.70" height="205.20" fill="none" stroke="#000" stroke-width="1.8"/>
<line x1="176.91" y1="1084.40" x2="176.91" y2="1091.90" stroke="#000" stroke-width="1.7" />
<line x1="176.91" y1="1289.60" x2="176.91" y2="1282.10" stroke="#000" stroke-width="1.7" />
<line x1="219.53" y1="1084.40" x2="219.53" y2="1091.90" stroke="#000" stroke-width="1.7" />
<line x1="219.53" y1="1289.60" x2="219.53" y2="1282.10" stroke="#000" stroke-width="1.7" />
<line x1="262.14" y1="1084.40" x2="262.14" y2="1091.90" stroke="#000" stroke-width="1.7" />
<line x1="262.14" y1="1289.60" x2="262.14" y2="1282.10" stroke="#000" stroke-width="1.7" />
<line x1="304.75" y1="1084.40" x2="304.75" y2="1091.90" stroke="#000" stroke-width="1.7" />
<line x1="304.75" y1="1289.60" x2="304.75" y2="1282.10" stroke="#000" stroke-width="1.7" />
<line x1="347.36" y1="1084.40" x2="347.36" y2="1091.90" stroke="#000" stroke-width="1.7" />
<line x1="347.36" y1="1289.60" x2="347.36" y2="1282.10" stroke="#000" stroke-width="1.7" />
<line x1="389.98" y1="1084.40" x2="389.98" y2="1107.40" stroke="#000" stroke-width="1.7" />
<line x1="389.98" y1="1289.60" x2="389.98" y2="1266.60" stroke="#000" stroke-width="1.7" />
<line x1="432.59" y1="1084.40" x2="432.59" y2="1091.90" stroke="#000" stroke-width="1.7" />
<line x1="432.59" y1="1289.60" x2="432.59" y2="1282.10" stroke="#000" stroke-width="1.7" />
<line x1="475.20" y1="1084.40" x2="475.20" y2="1091.90" stroke="#000" stroke-width="1.7" />
<line x1="475.20" y1="1289.60" x2="475.20" y2="1282.10" stroke="#000" stroke-width="1.7" />
<line x1="517.81" y1="1084.40" x2="517.81" y2="1091.90" stroke="#000" stroke-width="1.7" />
<line x1="517.81" y1="1289.60" x2="517.81" y2="1282.10" stroke="#000" stroke-width="1.7" />
<line x1="560.43" y1="1084.40" x2="560.43" y2="1091.90" stroke="#000" stroke-width="1.7" />
<line x1="560.43" y1="1289.60" x2="560.43" y2="1282.10" stroke="#000" stroke-width="1.7" />
<line x1="603.04" y1="1084.40" x2="603.04" y2="1091.90" stroke="#000" stroke-width="1.7" />
<line x1="603.04" y1="1289.60" x2="603.04" y2="1282.10" stroke="#000" stroke-width="1.7" />
<line x1="645.65" y1="1084.40" x2="645.65" y2="1107.40" stroke="#000" stroke-width="1.7" />
<line x1="645.65" y1="1289.60" x2="645.65" y2="1266.60" stroke="#000" stroke-width="1.7" />
<line x1="688.26" y1="1084.40" x2="688.26" y2="1091.90" stroke="#000" stroke-width="1.7" />
<line x1="688.26" y1="1289.60" x2="688.26" y2="1282.10" stroke="#000" stroke-width="1.7" />
<line x1="730.88" y1="1084.40" x2="730.88" y2="1091.90" stroke="#000" stroke-width="1.7" />
<line x1="730.88" y1="1289.60" x2="730.88" y2="1282.10" stroke="#000" stroke-width="1.7" />
<line x1="773.49" y1="1084.40" x2="773.49" y2="1091.90" stroke="#000" stroke-width="1.7" />
<line x1="773.49" y1="1289.60" x2="773.49" y2="1282.10" stroke="#000" stroke-width="1.7" />
<line x1="816.10" y1="1084.40" x2="816.10" y2="1091.90" stroke="#000" stroke-width="1.7" />
<line x1="816.10" y1="1289.60" x2="816.10" y2="1282.10" stroke="#000" stroke-width="1.7" />
<line x1="858.71" y1="1084.40" x2="858.71" y2="1091.90" stroke="#000" stroke-width="1.7" />
<line x1="858.71" y1="1289.60" x2="858.71" y2="1282.10" stroke="#000" stroke-width="1.7" />
<line x1="901.33" y1="1084.40" x2="901.33" y2="1107.40" stroke="#000" stroke-width="1.7" />
<line x1="901.33" y1="1289.60" x2="901.33" y2="1266.60" stroke="#000" stroke-width="1.7" />
<line x1="943.94" y1="1084.40" x2="943.94" y2="1091.90" stroke="#000" stroke-width="1.7" />
<line x1="943.94" y1="1289.60" x2="943.94" y2="1282.10" stroke="#000" stroke-width="1.7" />
<line x1="986.55" y1="1084.40" x2="986.55" y2="1091.90" stroke="#000" stroke-width="1.7" />
<line x1="986.55" y1="1289.60" x2="986.55" y2="1282.10" stroke="#000" stroke-width="1.7" />
<line x1="1029.16" y1="1084.40" x2="1029.16" y2="1091.90" stroke="#000" stroke-width="1.7" />
<line x1="1029.16" y1="1289.60" x2="1029.16" y2="1282.10" stroke="#000" stroke-width="1.7" />
<line x1="1071.78" y1="1084.40" x2="1071.78" y2="1091.90" stroke="#000" stroke-width="1.7" />
<line x1="1071.78" y1="1289.60" x2="1071.78" y2="1282.10" stroke="#000" stroke-width="1.7" />
<line x1="1114.39" y1="1084.40" x2="1114.39" y2="1091.90" stroke="#000" stroke-width="1.7" />
<line x1="1114.39" y1="1289.60" x2="1114.39" y2="1282.10" stroke="#000" stroke-width="1.7" />
<line x1="134.30" y1="1274.94" x2="139.30" y2="1274.94" stroke="#000" stroke-width="1.7" />
<line x1="1157.00" y1="1274.94" x2="1152.00" y2="1274.94" stroke="#000" stroke-width="1.7" />
<line x1="134.30" y1="1260.29" x2="139.30" y2="1260.29" stroke="#000" stroke-width="1.7" />
<line x1="1157.00" y1="1260.29" x2="1152.00" y2="1260.29" stroke="#000" stroke-width="1.7" />
<line x1="134.30" y1="1245.63" x2="139.30" y2="1245.63" stroke="#000" stroke-width="1.7" />
<line x1="1157.00" y1="1245.63" x2="1152.00" y2="1245.63" stroke="#000" stroke-width="1.7" />
<line x1="134.30" y1="1230.97" x2="146.80" y2="1230.97" stroke="#000" stroke-width="1.7" />
<line x1="1157.00" y1="1230.97" x2="1144.50" y2="1230.97" stroke="#000" stroke-width="1.7" />
<line x1="134.30" y1="1216.31" x2="139.30" y2="1216.31" stroke="#000" stroke-width="1.7" />
<line x1="1157.00" y1="1216.31" x2="1152.00" y2="1216.31" stroke="#000" stroke-width="1.7" />
<line x1="134.30" y1="1201.66" x2="139.30" y2="1201.66" stroke="#000" stroke-width="1.7" />
<line x1="1157.00" y1="1201.66" x2="1152.00" y2="1201.66" stroke="#000" stroke-width="1.7" />
<line x1="134.30" y1="1187.00" x2="139.30" y2="1187.00" stroke="#000" stroke-width="1.7" />
<line x1="1157.00" y1="1187.00" x2="1152.00" y2="1187.00" stroke="#000" stroke-width="1.7" />
<line x1="134.30" y1="1172.34" x2="146.80" y2="1172.34" stroke="#000" stroke-width="1.7" />
<line x1="1157.00" y1="1172.34" x2="1144.50" y2="1172.34" stroke="#000" stroke-width="1.7" />
<line x1="134.30" y1="1157.69" x2="139.30" y2="1157.69" stroke="#000" stroke-width="1.7" />
<line x1="1157.00" y1="1157.69" x2="1152.00" y2="1157.69" stroke="#000" stroke-width="1.7" />
<line x1="134.30" y1="1143.03" x2="139.30" y2="1143.03" stroke="#000" stroke-width="1.7" />
<line x1="1157.00" y1="1143.03" x2="1152.00" y2="1143.03" stroke="#000" stroke-width="1.7" />
<line x1="134.30" y1="1128.37" x2="139.30" y2="1128.37" stroke="#000" stroke-width="1.7" />
<line x1="1157.00" y1="1128.37" x2="1152.00" y2="1128.37" stroke="#000" stroke-width="1.7" />
<line x1="134.30" y1="1113.71" x2="146.80" y2="1113.71" stroke="#000" stroke-width="1.7" />
<line x1="1157.00" y1="1113.71" x2="1144.50" y2="1113.71" stroke="#000" stroke-width="1.7" />
<line x1="134.30" y1="1099.06" x2="139.30" y2="1099.06" stroke="#000" stroke-width="1.7" />
<line x1="1157.00" y1="1099.06" x2="1152.00" y2="1099.06" stroke="#000" stroke-width="1.7" />
<rect x="134.3" y="1084.4" width="1022.70" height="205.20" fill="none" stroke="#000" stroke-width="1.8"/>
<line x1="176.91" y1="1289.60" x2="176.91" y2="1297.10" stroke="#000" stroke-width="1.7" />
<line x1="176.91" y1="1494.80" x2="176.91" y2="1487.30" stroke="#000" stroke-width="1.7" />
<line x1="219.53" y1="1289.60" x2="219.53" y2="1297.10" stroke="#000" stroke-width="1.7" />
<line x1="219.53" y1="1494.80" x2="219.53" y2="1487.30" stroke="#000" stroke-width="1.7" />
<line x1="262.14" y1="1289.60" x2="262.14" y2="1297.10" stroke="#000" stroke-width="1.7" />
<line x1="262.14" y1="1494.80" x2="262.14" y2="1487.30" stroke="#000" stroke-width="1.7" />
<line x1="304.75" y1="1289.60" x2="304.75" y2="1297.10" stroke="#000" stroke-width="1.7" />
<line x1="304.75" y1="1494.80" x2="304.75" y2="1487.30" stroke="#000" stroke-width="1.7" />
<line x1="347.36" y1="1289.60" x2="347.36" y2="1297.10" stroke="#000" stroke-width="1.7" />
<line x1="347.36" y1="1494.80" x2="347.36" y2="1487.30" stroke="#000" stroke-width="1.7" />
<line x1="389.98" y1="1289.60" x2="389.98" y2="1312.60" stroke="#000" stroke-width="1.7" />
<line x1="389.98" y1="1494.80" x2="389.98" y2="1471.80" stroke="#000" stroke-width="1.7" />
<line x1="432.59" y1="1289.60" x2="432.59" y2="1297.10" stroke="#000" stroke-width="1.7" />
<line x1="432.59" y1="1494.80" x2="432.59" y2="1487.30" stroke="#000" stroke-width="1.7" />
<line x1="475.20" y1="1289.60" x2="475.20" y2="1297.10" stroke="#000" stroke-width="1.7" />
<line x1="475.20" y1="1494.80" x2="475.20" y2="1487.30" stroke="#000" stroke-width="1.7" />
<line x1="517.81" y1="1289.60" x2="517.81" y2="1297.10" stroke="#000" stroke-width="1.7" />
<line x1="517.81" y1="1494.80" x2="517.81" y2="1487.30" stroke="#000" stroke-width="1.7" />
<line x1="560.43" y1="1289.60" x2="560.43" y2="1297.10" stroke="#000" stroke-width="1.7" />
<line x1="560.43" y1="1494.80" x2="560.43" y2="1487.30" stroke="#000" stroke-width="1.7" />
<line x1="603.04" y1="1289.60" x2="603.04" y2="1297.10" stroke="#000" stroke-width="1.7" />
<line x1="603.04" y1="1494.80" x2="603.04" y2="1487.30" stroke="#000" stroke-width="1.7" />
<line x1="645.65" y1="1289.60" x2="645.65" y2="1312.60" stroke="#000" stroke-width="1.7" />
<line x1="645.65" y1="1494.80" x2="645.65" y2="1471.80" stroke="#000" stroke-width="1.7" />
<line x1="688.26" y1="1289.60" x2="688.26" y2="1297.10" stroke="#000" stroke-width="1.7" />
<line x1="688.26" y1="1494.80" x2="688.26" y2="1487.30" stroke="#000" stroke-width="1.7" />
<line x1="730.88" y1="1289.60" x2="730.88" y2="1297.10" stroke="#000" stroke-width="1.7" />
<line x1="730.88" y1="1494.80" x2="730.88" y2="1487.30" stroke="#000" stroke-width="1.7" />
<line x1="773.49" y1="1289.60" x2="773.49" y2="1297.10" stroke="#000" stroke-width="1.7" />
<line x1="773.49" y1="1494.80" x2="773.49" y2="1487.30" stroke="#000" stroke-width="1.7" />
<line x1="816.10" y1="1289.60" x2="816.10" y2="1297.10" stroke="#000" stroke-width="1.7" />
<line x1="816.10" y1="1494.80" x2="816.10" y2="1487.30" stroke="#000" stroke-width="1.7" />
<line x1="858.71" y1="1289.60" x2="858.71" y2="1297.10" stroke="#000" stroke-width="1.7" />
<line x1="858.71" y1="1494.80" x2="858.71" y2="1487.30" stroke="#000" stroke-width="1.7" />
<line x1="901.33" y1="1289.60" x2="901.33" y2="1312.60" stroke="#000" stroke-width="1.7" />
<line x1="901.33" y1="1494.80" x2="901.33" y2="1471.80" stroke="#000" stroke-width="1.7" />
<line x1="943.94" y1="1289.60" x2="943.94" y2="1297.10" stroke="#000" stroke-width="1.7" />
<line x1="943.94" y1="1494.80" x2="943.94" y2="1487.30" stroke="#000" stroke-width="1.7" />
<line x1="986.55" y1="1289.60" x2="986.55" y2="1297.10" stroke="#000" stroke-width="1.7" />
<line x1="986.55" y1="1494.80" x2="986.55" y2="1487.30" stroke="#000" stroke-width="1.7" />
<line x1="1029.16" y1="1289.60" x2="1029.16" y2="1297.10" stroke="#000" stroke-width="1.7" />
<line x1="1029.16" y1="1494.80" x2="1029.16" y2="1487.30" stroke="#000" stroke-width="1.7" />
<line x1="1071.78" y1="1289.60" x2="1071.78" y2="1297.10" stroke="#000" stroke-width="1.7" />
<line x1="1071.78" y1="1494.80" x2="1071.78" y2="1487.30" stroke="#000" stroke-width="1.7" />
<line x1="1114.39" y1="1289.60" x2="1114.39" y2="1297.10" stroke="#000" stroke-width="1.7" />
<line x1="1114.39" y1="1494.80" x2="1114.39" y2="1487.30" stroke="#000" stroke-width="1.7" />
<line x1="134.30" y1="1481.12" x2="139.30" y2="1481.12" stroke="#000" stroke-width="1.7" />
<line x1="1157.00" y1="1481.12" x2="1152.00" y2="1481.12" stroke="#000" stroke-width="1.7" />
<line x1="134.30" y1="1467.44" x2="139.30" y2="1467.44" stroke="#000" stroke-width="1.7" />
<line x1="1157.00" y1="1467.44" x2="1152.00" y2="1467.44" stroke="#000" stroke-width="1.7" />
<line x1="134.30" y1="1453.76" x2="139.30" y2="1453.76" stroke="#000" stroke-width="1.7" />
<line x1="1157.00" y1="1453.76" x2="1152.00" y2="1453.76" stroke="#000" stroke-width="1.7" />
<line x1="134.30" y1="1440.08" x2="139.30" y2="1440.08" stroke="#000" stroke-width="1.7" />
<line x1="1157.00" y1="1440.08" x2="1152.00" y2="1440.08" stroke="#000" stroke-width="1.7" />
<line x1="134.30" y1="1426.40" x2="146.80" y2="1426.40" stroke="#000" stroke-width="1.7" />
<line x1="1157.00" y1="1426.40" x2="1144.50" y2="1426.40" stroke="#000" stroke-width="1.7" />
<line x1="134.30" y1="1412.72" x2="139.30" y2="1412.72" stroke="#000" stroke-width="1.7" />
<line x1="1157.00" y1="1412.72" x2="1152.00" y2="1412.72" stroke="#000" stroke-width="1.7" />
<line x1="134.30" y1="1399.04" x2="139.30" y2="1399.04" stroke="#000" stroke-width="1.7" />
<line x1="1157.00" y1="1399.04" x2="1152.00" y2="1399.04" stroke="#000" stroke-width="1.7" />
<line x1="134.30" y1="1385.36" x2="139.30" y2="1385.36" stroke="#000" stroke-width="1.7" />
<line x1="1157.00" y1="1385.36" x2="1152.00" y2="1385.36" stroke="#000" stroke-width="1.7" />
<line x1="134.30" y1="1371.68" x2="139.30" y2="1371.68" stroke="#000" stroke-width="1.7" />
<line x1="1157.00" y1="1371.68" x2="1152.00" y2="1371.68" stroke="#000" stroke-width="1.7" />
<line x1="134.30" y1="1358.00" x2="146.80" y2="1358.00" stroke="#000" stroke-width="1.7" />
<line x1="1157.00" y1="1358.00" x2="1144.50" y2="1358.00" stroke="#000" stroke-width="1.7" />
<line x1="134.30" y1="1344.32" x2="139.30" y2="1344.32" stroke="#000" stroke-width="1.7" />
<line x1="1157.00" y1="1344.32" x2="1152.00" y2="1344.32" stroke="#000" stroke-width="1.7" />
<line x1="134.30" y1="1330.64" x2="139.30" y2="1330.64" stroke="#000" stroke-width="1.7" />
<line x1="1157.00" y1="1330.64" x2="1152.00" y2="1330.64" stroke="#000" stroke-width="1.7" />
<line x1="134.30" y1="1316.96" x2="139.30" y2="1316.96" stroke="#000" stroke-width="1.7" />
<line x1="1157.00" y1="1316.96" x2="1152.00" y2="1316.96" stroke="#000" stroke-width="1.7" />
<line x1="134.30" y1="1303.28" x2="139.30" y2="1303.28" stroke="#000" stroke-width="1.7" />
<line x1="1157.00" y1="1303.28" x2="1152.00" y2="1303.28" stroke="#000" stroke-width="1.7" />
<rect x="134.3" y="1289.6" width="1022.70" height="205.20" fill="none" stroke="#000" stroke-width="1.8"/>
<line x1="176.91" y1="1494.80" x2="176.91" y2="1502.30" stroke="#000" stroke-width="1.7" />
<line x1="176.91" y1="1700.00" x2="176.91" y2="1692.50" stroke="#000" stroke-width="1.7" />
<line x1="219.53" y1="1494.80" x2="219.53" y2="1502.30" stroke="#000" stroke-width="1.7" />
<line x1="219.53" y1="1700.00" x2="219.53" y2="1692.50" stroke="#000" stroke-width="1.7" />
<line x1="262.14" y1="1494.80" x2="262.14" y2="1502.30" stroke="#000" stroke-width="1.7" />
<line x1="262.14" y1="1700.00" x2="262.14" y2="1692.50" stroke="#000" stroke-width="1.7" />
<line x1="304.75" y1="1494.80" x2="304.75" y2="1502.30" stroke="#000" stroke-width="1.7" />
<line x1="304.75" y1="1700.00" x2="304.75" y2="1692.50" stroke="#000" stroke-width="1.7" />
<line x1="347.36" y1="1494.80" x2="347.36" y2="1502.30" stroke="#000" stroke-width="1.7" />
<line x1="347.36" y1="1700.00" x2="347.36" y2="1692.50" stroke="#000" stroke-width="1.7" />
<line x1="389.98" y1="1494.80" x2="389.98" y2="1517.80" stroke="#000" stroke-width="1.7" />
<line x1="389.98" y1="1700.00" x2="389.98" y2="1677.00" stroke="#000" stroke-width="1.7" />
<line x1="432.59" y1="1494.80" x2="432.59" y2="1502.30" stroke="#000" stroke-width="1.7" />
<line x1="432.59" y1="1700.00" x2="432.59" y2="1692.50" stroke="#000" stroke-width="1.7" />
<line x1="475.20" y1="1494.80" x2="475.20" y2="1502.30" stroke="#000" stroke-width="1.7" />
<line x1="475.20" y1="1700.00" x2="475.20" y2="1692.50" stroke="#000" stroke-width="1.7" />
<line x1="517.81" y1="1494.80" x2="517.81" y2="1502.30" stroke="#000" stroke-width="1.7" />
<line x1="517.81" y1="1700.00" x2="517.81" y2="1692.50" stroke="#000" stroke-width="1.7" />
<line x1="560.43" y1="1494.80" x2="560.43" y2="1502.30" stroke="#000" stroke-width="1.7" />
<line x1="560.43" y1="1700.00" x2="560.43" y2="1692.50" stroke="#000" stroke-width="1.7" />
<line x1="603.04" y1="1494.80" x2="603.04" y2="1502.30" stroke="#000" stroke-width="1.7" />
<line x1="603.04" y1="1700.00" x2="603.04" y2="1692.50" stroke="#000" stroke-width="1.7" />
<line x1="645.65" y1="1494.80" x2="645.65" y2="1517.80" stroke="#000" stroke-width="1.7" />
<line x1="645.65" y1="1700.00" x2="645.65" y2="1677.00" stroke="#000" stroke-width="1.7" />
<line x1="688.26" y1="1494.80" x2="688.26" y2="1502.30" stroke="#000" stroke-width="1.7" />
<line x1="688.26" y1="1700.00" x2="688.26" y2="1692.50" stroke="#000" stroke-width="1.7" />
<line x1="730.88" y1="1494.80" x2="730.88" y2="1502.30" stroke="#000" stroke-width="1.7" />
<line x1="730.88" y1="1700.00" x2="730.88" y2="1692.50" stroke="#000" stroke-width="1.7" />
<line x1="773.49" y1="1494.80" x2="773.49" y2="1502.30" stroke="#000" stroke-width="1.7" />
<line x1="773.49" y1="1700.00" x2="773.49" y2="1692.50" stroke="#000" stroke-width="1.7" />
<line x1="816.10" y1="1494.80" x2="816.10" y2="1502.30" stroke="#000" stroke-width="1.7" />
<line x1="816.10" y1="1700.00" x2="816.10" y2="1692.50" stroke="#000" stroke-width="1.7" />
<line x1="858.71" y1="1494.80" x2="858.71" y2="1502.30" stroke="#000" stroke-width="1.7" />
<line x1="858.71" y1="1700.00" x2="858.71" y2="1692.50" stroke="#000" stroke-width="1.7" />
<line x1="901.33" y1="1494.80" x2="901.33" y2="1517.80" stroke="#000" stroke-width="1.7" />
<line x1="901.33" y1="1700.00" x2="901.33" y2="1677.00" stroke="#000" stroke-width="1.7" />
<line x1="943.94" y1="1494.80" x2="943.94" y2="1502.30" stroke="#000" stroke-width="1.7" />
<line x1="943.94" y1="1700.00" x2="943.94" y2="1692.50" stroke="#000" stroke-width="1.7" />
<line x1="986.55" y1="1494.80" x2="986.55" y2="1502.30" stroke="#000" stroke-width="1.7" />
<line x1="986.55" y1="1700.00" x2="986.55" y2="1692.50" stroke="#000" stroke-width="1.7" />
<line x1="1029.16" y1="1494.80" x2="1029.16" y2="1502.30" stroke="#000" stroke-width="1.7" />
<line x1="1029.16" y1="1700.00" x2="1029.16" y2="1692.50" stroke="#000" stroke-width="1.7" />
<line x1="1071.78" y1="1494.80" x2="1071.78" y2="1502.30" stroke="#000" stroke-width="1.7" />
<line x1="1071.78" y1="1700.00" x2="1071.78" y2="1692.50" stroke="#000" stroke-width="1.7" />
<line x1="1114.39" y1="1494.80" x2="1114.39" y2="1502.30" stroke="#000" stroke-width="1.7" />
<line x1="1114.39" y1="1700.00" x2="1114.39" y2="1692.50" stroke="#000" stroke-width="1.7" />
<line x1="134.30" y1="1691.79" x2="139.30" y2="1691.79" stroke="#000" stroke-width="1.7" />
<line x1="1157.00" y1="1691.79" x2="1152.00" y2="1691.79" stroke="#000" stroke-width="1.7" />
<line x1="134.30" y1="1683.58" x2="139.30" y2="1683.58" stroke="#000" stroke-width="1.7" />
<line x1="1157.00" y1="1683.58" x2="1152.00" y2="1683.58" stroke="#000" stroke-width="1.7" />
<line x1="134.30" y1="1675.38" x2="139.30" y2="1675.38" stroke="#000" stroke-width="1.7" />
<line x1="1157.00" y1="1675.38" x2="1152.00" y2="1675.38" stroke="#000" stroke-width="1.7" />
<line x1="134.30" y1="1667.17" x2="139.30" y2="1667.17" stroke="#000" stroke-width="1.7" />
<line x1="1157.00" y1="1667.17" x2="1152.00" y2="1667.17" stroke="#000" stroke-width="1.7" />
<line x1="134.30" y1="1658.96" x2="146.80" y2="1658.96" stroke="#000" stroke-width="1.7" />
<line x1="1157.00" y1="1658.96" x2="1144.50" y2="1658.96" stroke="#000" stroke-width="1.7" />
<line x1="134.30" y1="1650.75" x2="139.30" y2="1650.75" stroke="#000" stroke-width="1.7" />
<line x1="1157.00" y1="1650.75" x2="1152.00" y2="1650.75" stroke="#000" stroke-width="1.7" />
<line x1="134.30" y1="1642.54" x2="139.30" y2="1642.54" stroke="#000" stroke-width="1.7" />
<line x1="1157.00" y1="1642.54" x2="1152.00" y2="1642.54" stroke="#000" stroke-width="1.7" />
<line x1="134.30" y1="1634.34" x2="139.30" y2="1634.34" stroke="#000" stroke-width="1.7" />
<line x1="1157.00" y1="1634.34" x2="1152.00" y2="1634.34" stroke="#000" stroke-width="1.7" />
<line x1="134.30" y1="1626.13" x2="139.30" y2="1626.13" stroke="#000" stroke-width="1.7" />
<line x1="1157.00" y1="1626.13" x2="1152.00" y2="1626.13" stroke="#000" stroke-width="1.7" />
<line x1="134.30" y1="1617.92" x2="146.80" y2="1617.92" stroke="#000" stroke-width="1.7" />
<line x1="1157.00" y1="1617.92" x2="1144.50" y2="1617.92" stroke="#000" stroke-width="1.7" />
<line x1="134.30" y1="1609.71" x2="139.30" y2="1609.71" stroke="#000" stroke-width="1.7" />
<line x1="1157.00" y1="1609.71" x2="1152.00" y2="1609.71" stroke="#000" stroke-width="1.7" />
<line x1="134.30" y1="1601.50" x2="139.30" y2="1601.50" stroke="#000" stroke-width="1.7" />
<line x1="1157.00" y1="1601.50" x2="1152.00" y2="1601.50" stroke="#000" stroke-width="1.7" />
<line x1="134.30" y1="1593.30" x2="139.30" y2="1593.30" stroke="#000" stroke-width="1.7" />
<line x1="1157.00" y1="1593.30" x2="1152.00" y2="1593.30" stroke="#000" stroke-width="1.7" />
<line x1="134.30" y1="1585.09" x2="139.30" y2="1585.09" stroke="#000" stroke-width="1.7" />
<line x1="1157.00" y1="1585.09" x2="1152.00" y2="1585.09" stroke="#000" stroke-width="1.7" />
<line x1="134.30" y1="1576.88" x2="146.80" y2="1576.88" stroke="#000" stroke-width="1.7" />
<line x1="1157.00" y1="1576.88" x2="1144.50" y2="1576.88" stroke="#000" stroke-width="1.7" />
<line x1="134.30" y1="1568.67" x2="139.30" y2="1568.67" stroke="#000" stroke-width="1.7" />
<line x1="1157.00" y1="1568.67" x2="1152.00" y2="1568.67" stroke="#000" stroke-width="1.7" />
<line x1="134.30" y1="1560.46" x2="139.30" y2="1560.46" stroke="#000" stroke-width="1.7" />
<line x1="1157.00" y1="1560.46" x2="1152.00" y2="1560.46" stroke="#000" stroke-width="1.7" />
<line x1="134.30" y1="1552.26" x2="139.30" y2="1552.26" stroke="#000" stroke-width="1.7" />
<line x1="1157.00" y1="1552.26" x2="1152.00" y2="1552.26" stroke="#000" stroke-width="1.7" />
<line x1="134.30" y1="1544.05" x2="139.30" y2="1544.05" stroke="#000" stroke-width="1.7" />
<line x1="1157.00" y1="1544.05" x2="1152.00" y2="1544.05" stroke="#000" stroke-width="1.7" />
<line x1="134.30" y1="1535.84" x2="146.80" y2="1535.84" stroke="#000" stroke-width="1.7" />
<line x1="1157.00" y1="1535.84" x2="1144.50" y2="1535.84" stroke="#000" stroke-width="1.7" />
<line x1="134.30" y1="1527.63" x2="139.30" y2="1527.63" stroke="#000" stroke-width="1.7" />
<line x1="1157.00" y1="1527.63" x2="1152.00" y2="1527.63" stroke="#000" stroke-width="1.7" />
<line x1="134.30" y1="1519.42" x2="139.30" y2="1519.42" stroke="#000" stroke-width="1.7" />
<line x1="1157.00" y1="1519.42" x2="1152.00" y2="1519.42" stroke="#000" stroke-width="1.7" />
<line x1="134.30" y1="1511.22" x2="139.30" y2="1511.22" stroke="#000" stroke-width="1.7" />
<line x1="1157.00" y1="1511.22" x2="1152.00" y2="1511.22" stroke="#000" stroke-width="1.7" />
<line x1="134.30" y1="1503.01" x2="139.30" y2="1503.01" stroke="#000" stroke-width="1.7" />
<line x1="1157.00" y1="1503.01" x2="1152.00" y2="1503.01" stroke="#000" stroke-width="1.7" />
<rect x="134.3" y="1494.8" width="1022.70" height="205.20" fill="none" stroke="#000" stroke-width="1.8"/>
<text transform="translate(279.60,49.70) scale(0.9713,1)" x="-2.65" y="0" style="font-size:58.87px;stroke:#000;stroke-width:0.45px;fill:#000">Solar Wind (BS propagated)</text>
<text transform="translate(158.10,120.10) scale(0.9751,1)" x="-0.86" y="0" style="font-size:34.59px;font-weight:bold;stroke:#000;stroke-width:0.45px;fill:#000">A</text>
<text transform="translate(160.10,320.80) scale(1.0115,1)" x="-2.11" y="0" style="font-size:32.41px;font-weight:bold;stroke:#000;stroke-width:0.45px;fill:#000">B</text>
<text transform="translate(159.40,527.70) scale(0.9842,1)" x="-1.38" y="0" style="font-size:34.59px;font-weight:bold;stroke:#000;stroke-width:0.45px;fill:#000">C</text>
<text transform="translate(160.00,732.30) scale(1.1727,1)" x="-1.96" y="0" style="font-size:30.09px;font-weight:bold;stroke:#000;stroke-width:0.45px;fill:#000">D</text>
<text transform="translate(160.10,937.70) scale(0.9752,1)" x="-2.18" y="0" style="font-size:33.58px;font-weight:bold;stroke:#000;stroke-width:0.45px;fill:#000">E</text>
<text transform="translate(160.10,1178.50) scale(0.9800,1)" x="-2.11" y="0" style="font-size:32.41px;font-weight:bold;stroke:#000;stroke-width:0.45px;fill:#000">F</text>
<text transform="translate(159.40,1330.80) scale(0.9840,1)" x="-1.34" y="0" style="font-size:33.58px;font-weight:bold;stroke:#000;stroke-width:0.45px;fill:#000">G</text>
<text transform="translate(160.10,1537.00) scale(1.0096,1)" x="-2.18" y="0" style="font-size:33.58px;font-weight:bold;stroke:#000;stroke-width:0.45px;fill:#000">H</text>
<text transform="translate(598.00,121.80) scale(0.9605,1)" x="-1.75" y="0" style="font-size:38.95px;stroke:#000;stroke-width:0.45px;fill:#000">OMNI</text>
<text transform="translate(598.00,327.00) scale(0.9605,1)" x="-1.75" y="0" style="font-size:38.95px;stroke:#000;stroke-width:0.45px;fill:#000">OMNI</text>
<text transform="translate(78.65,92.25) scale(1.0000,1)" x="-3.27" y="0" style="font-size:43.57px;stroke:#000;stroke-width:0.45px;fill:#000">10</text>
<text transform="translate(101.52,133.29) scale(1.0000,1)" x="-1.96" y="0" style="font-size:43.57px;stroke:#000;stroke-width:0.45px;fill:#000">8</text>
<text transform="translate(101.96,174.33) scale(1.0000,1)" x="-2.18" y="0" style="font-size:43.57px;stroke:#000;stroke-width:0.45px;fill:#000">6</text>
<text transform="translate(100.21,215.37) scale(1.0000,1)" x="-1.09" y="0" style="font-size:43.57px;stroke:#000;stroke-width:0.45px;fill:#000">4</text>
<text transform="translate(102.17,256.41) scale(1.0000,1)" x="-2.18" y="0" style="font-size:43.57px;stroke:#000;stroke-width:0.45px;fill:#000">2</text>
<text transform="translate(101.30,297.45) scale(1.0000,1)" x="-1.74" y="0" style="font-size:43.57px;stroke:#000;stroke-width:0.45px;fill:#000">0</text>
<text transform="translate(100.21,317.97) scale(1.0000,1)" x="-1.09" y="0" style="font-size:43.57px;stroke:#000;stroke-width:0.45px;fill:#000">4</text>
<text transform="translate(102.17,359.01) scale(1.0000,1)" x="-2.18" y="0" style="font-size:43.57px;stroke:#000;stroke-width:0.45px;fill:#000">2</text>
<text transform="translate(101.30,400.05) scale(1.0000,1)" x="-1.74" y="0" style="font-size:43.57px;stroke:#000;stroke-width:0.45px;fill:#000">0</text>
<text transform="translate(76.69,441.09) scale(1.0000,1)" x="-2.18" y="0" style="font-size:43.57px;stroke:#000;stroke-width:0.45px;fill:#000">−2</text>
<text transform="translate(75.81,482.13) scale(1.0000,1)" x="-2.18" y="0" style="font-size:43.57px;stroke:#000;stroke-width:0.45px;fill:#000">−4</text>
<text transform="translate(62.61,740.55) scale(1.0000,1)" x="-2.95" y="0" style="font-size:39.29px;stroke:#000;stroke-width:0.45px;fill:#000">150</text>
<text transform="translate(62.61,797.55) scale(1.0000,1)" x="-2.95" y="0" style="font-size:39.29px;stroke:#000;stroke-width:0.45px;fill:#000">100</text>
<text transform="translate(83.04,854.55) scale(1.0000,1)" x="-1.57" y="0" style="font-size:39.29px;stroke:#000;stroke-width:0.45px;fill:#000">50</text>
<text transform="translate(104.84,911.55) scale(1.0000,1)" x="-1.57" y="0" style="font-size:39.29px;stroke:#000;stroke-width:0.45px;fill:#000">0</text>
<text transform="translate(53.38,1128.96) scale(1.0000,1)" x="-2.18" y="0" style="font-size:43.57px;stroke:#000;stroke-width:0.45px;fill:#000">600</text>
<text transform="translate(52.29,1187.59) scale(1.0000,1)" x="-1.09" y="0" style="font-size:43.57px;stroke:#000;stroke-width:0.45px;fill:#000">400</text>
<text transform="translate(53.38,1246.22) scale(1.0000,1)" x="-2.18" y="0" style="font-size:43.57px;stroke:#000;stroke-width:0.45px;fill:#000">200</text>
<text transform="translate(101.30,1304.85) scale(1.0000,1)" x="-1.74" y="0" style="font-size:43.57px;stroke:#000;stroke-width:0.45px;fill:#000">0</text>
<text transform="translate(77.12,1510.05) scale(1.0000,1)" x="-1.74" y="0" style="font-size:43.57px;stroke:#000;stroke-width:0.45px;fill:#000">50</text>
<text transform="translate(76.47,1551.09) scale(1.0000,1)" x="-1.09" y="0" style="font-size:43.57px;stroke:#000;stroke-width:0.45px;fill:#000">40</text>
<text transform="translate(77.12,1592.13) scale(1.0000,1)" x="-1.74" y="0" style="font-size:43.57px;stroke:#000;stroke-width:0.45px;fill:#000">30</text>
<text transform="translate(77.56,1633.17) scale(1.0000,1)" x="-2.18" y="0" style="font-size:43.57px;stroke:#000;stroke-width:0.45px;fill:#000">20</text>
<text transform="translate(78.65,1674.21) scale(1.0000,1)" x="-3.27" y="0" style="font-size:43.57px;stroke:#000;stroke-width:0.45px;fill:#000">10</text>
<text transform="translate(101.30,1715.25) scale(1.0000,1)" x="-1.74" y="0" style="font-size:43.57px;stroke:#000;stroke-width:0.45px;fill:#000">0</text>
<text transform="translate(1167.00,523.17) scale(1.0000,1)" x="-1.09" y="0" style="font-size:43.57px;stroke:#000;stroke-width:0.45px;fill:#000">4</text>
<text transform="translate(1167.00,564.21) scale(1.0000,1)" x="-2.18" y="0" style="font-size:43.57px;stroke:#000;stroke-width:0.45px;fill:#000">2</text>
<text transform="translate(1167.00,605.25) scale(1.0000,1)" x="-1.74" y="0" style="font-size:43.57px;stroke:#000;stroke-width:0.45px;fill:#000">0</text>
<text transform="translate(1167.00,646.29) scale(1.0000,1)" x="-2.18" y="0" style="font-size:43.57px;stroke:#000;stroke-width:0.45px;fill:#000">−2</text>
<text transform="translate(1167.00,687.33) scale(1.0000,1)" x="-2.18" y="0" style="font-size:43.57px;stroke:#000;stroke-width:0.45px;fill:#000">−4</text>
<text transform="translate(1168.50,913.05) scale(1.0000,1)" x="-3.27" y="0" style="font-size:43.57px;stroke:#000;stroke-width:0.45px;fill:#000">10</text>
<text transform="translate(1168.50,954.09) scale(1.0000,1)" x="-1.96" y="0" style="font-size:43.57px;stroke:#000;stroke-width:0.45px;fill:#000">8</text>
<text transform="translate(1168.50,995.13) scale(1.0000,1)" x="-2.18" y="0" style="font-size:43.57px;stroke:#000;stroke-width:0.45px;fill:#000">6</text>
<text transform="translate(1168.50,1036.17) scale(1.0000,1)" x="-1.09" y="0" style="font-size:43.57px;stroke:#000;stroke-width:0.45px;fill:#000">4</text>
<text transform="translate(1168.50,1077.21) scale(1.0000,1)" x="-2.18" y="0" style="font-size:43.57px;stroke:#000;stroke-width:0.45px;fill:#000">2</text>
<text transform="translate(1168.50,1118.25) scale(1.0000,1)" x="-1.74" y="0" style="font-size:43.57px;stroke:#000;stroke-width:0.45px;fill:#000">0</text>
<text transform="translate(1168.50,1304.85) scale(1.0000,1)" x="-1.74" y="0" style="font-size:43.57px;stroke:#000;stroke-width:0.45px;fill:#000">3</text>
<text transform="translate(1168.50,1373.25) scale(1.0000,1)" x="-2.18" y="0" style="font-size:43.57px;stroke:#000;stroke-width:0.45px;fill:#000">2</text>
<text transform="translate(1168.50,1441.65) scale(1.0000,1)" x="-3.27" y="0" style="font-size:43.57px;stroke:#000;stroke-width:0.45px;fill:#000">1</text>
<text transform="translate(1168.50,1510.05) scale(1.0000,1)" x="-1.74" y="0" style="font-size:43.57px;stroke:#000;stroke-width:0.45px;fill:#000">0</text>
<text transform="translate(48.00,305.00) rotate(-90) scale(1.0001,1)" x="-4.06" y="0" style="font-size:45.06px;stroke:#000;stroke-width:0.45px;fill:#000">|B field| (nT)</text>
<text transform="translate(48.00,450.70) rotate(-90) scale(0.9737,1)" x="-3.60" y="0" style="font-size:45.06px;stroke:#000;stroke-width:0.45px;fill:#000">B field</text>
<text transform="translate(39.50,937.10) rotate(-90) scale(1.0089,1)" x="-2.18" y="0" style="font-size:43.60px;stroke:#000;stroke-width:0.45px;fill:#000">Cone A. (deg)</text>
<text transform="translate(32.70,1280.90) rotate(-90) scale(1.0698,1)" x="-0.22" y="0" style="font-size:43.17px;stroke:#000;stroke-width:0.45px;fill:#000">V (km/s)</text>
<text transform="translate(39.30,1632.40) rotate(-90) scale(0.9281,1)" x="-3.55" y="0" style="font-size:44.33px;stroke:#000;stroke-width:0.45px;fill:#000">Ma</text>
<text transform="translate(1258.70,656.30) rotate(-90) scale(0.9795,1)" x="-3.60" y="0" style="font-size:45.06px;stroke:#000;stroke-width:0.45px;fill:#000">B field</text>
<text transform="translate(1276.80,1167.00) rotate(-90) scale(1.0134,1)" x="-3.52" y="0" style="font-size:44.04px;stroke:#000;stroke-width:0.45px;fill:#000">Density (cm^−3)</text>
<text transform="translate(1239.20,1490.40) rotate(-90) scale(0.9028,1)" x="-3.55" y="0" style="font-size:44.33px;stroke:#000;stroke-width:0.45px;fill:#000">Psw (nPa)</text>
<text transform="translate(59.20,1768.60) scale(1.0733,1)" x="-1.72" y="0" style="font-size:42.88px;stroke:#000;stroke-width:0.45px;fill:#000">00</text>
<text transform="translate(111.20,1749.70) scale(0.3571,0.3090)" x="-7.00" y="0" style="font-size:100.00px;stroke:#000;stroke-width:1.46px;fill:#000">h</text>
<text transform="translate(129.70,1768.60) scale(1.0710,1)" x="-1.72" y="0" style="font-size:42.88px;stroke:#000;stroke-width:0.45px;fill:#000">00</text>
<text transform="translate(182.00,1750.30) scale(0.3571,0.2907)" x="-6.50" y="0" style="font-size:100.00px;stroke:#000;stroke-width:1.55px;fill:#000">m</text>
<text transform="translate(314.88,1768.60) scale(1.0733,1)" x="-1.72" y="0" style="font-size:42.88px;stroke:#000;stroke-width:0.45px;fill:#000">00</text>
<text transform="translate(366.88,1749.70) scale(0.3571,0.3090)" x="-7.00" y="0" style="font-size:100.00px;stroke:#000;stroke-width:1.46px;fill:#000">h</text>
<text transform="translate(385.38,1768.60) scale(1.0710,1)" x="-1.72" y="0" style="font-size:42.88px;stroke:#000;stroke-width:0.45px;fill:#000">30</text>
<text transform="translate(437.68,1750.30) scale(0.3571,0.2907)" x="-6.50" y="0" style="font-size:100.00px;stroke:#000;stroke-width:1.55px;fill:#000">m</text>
<text transform="translate(570.55,1768.60) scale(1.0838,1)" x="-1.72" y="0" style="font-size:42.88px;stroke:#000;stroke-width:0.45px;fill:#000">01</text>
<text transform="translate(622.55,1749.70) scale(0.3571,0.3090)" x="-7.00" y="0" style="font-size:100.00px;stroke:#000;stroke-width:1.46px;fill:#000">h</text>
<text transform="translate(641.05,1768.60) scale(1.0710,1)" x="-1.72" y="0" style="font-size:42.88px;stroke:#000;stroke-width:0.45px;fill:#000">00</text>
<text transform="translate(693.35,1750.30) scale(0.3571,0.2907)" x="-6.50" y="0" style="font-size:100.00px;stroke:#000;stroke-width:1.55px;fill:#000">m</text>
<text transform="translate(826.23,1768.60) scale(1.0838,1)" x="-1.72" y="0" style="font-size:42.88px;stroke:#000;stroke-width:0.45px;fill:#000">01</text>
<text transform="translate(878.23,1749.70) scale(0.3571,0.3090)" x="-7.00" y="0" style="font-size:100.00px;stroke:#000;stroke-width:1.46px;fill:#000">h</text>
<text transform="translate(896.73,1768.60) scale(1.0710,1)" x="-1.72" y="0" style="font-size:42.88px;stroke:#000;stroke-width:0.45px;fill:#000">30</text>
<text transform="translate(949.03,1750.30) scale(0.3571,0.2907)" x="-6.50" y="0" style="font-size:100.00px;stroke:#000;stroke-width:1.55px;fill:#000">m</text>
<text transform="translate(1081.90,1768.60) scale(1.0838,1)" x="-1.72" y="0" style="font-size:42.88px;stroke:#000;stroke-width:0.45px;fill:#000">02</text>
<text transform="translate(1133.90,1749.70) scale(0.3571,0.3090)" x="-7.00" y="0" style="font-size:100.00px;stroke:#000;stroke-width:1.46px;fill:#000">h</text>
<text transform="translate(1152.40,1768.60) scale(1.0710,1)" x="-1.72" y="0" style="font-size:42.88px;stroke:#000;stroke-width:0.45px;fill:#000">00</text>
<text transform="translate(1204.70,1750.30) scale(0.3571,0.2907)" x="-6.50" y="0" style="font-size:100.00px;stroke:#000;stroke-width:1.55px;fill:#000">m</text>
<text transform="translate(59.70,1825.90) scale(1.1473,1)" x="-2.19" y="0" style="font-size:43.75px;stroke:#000;stroke-width:0.45px;fill:#000">2017/02/07</text>
<text transform="translate(500.20,1842.70) scale(1.0168,1)" x="-3.28" y="0" style="font-size:43.75px;stroke:#000;stroke-width:0.45px;fill:#000">Universal Time</text>
<line x1="1159.60" y1="308.80" x2="1200.00" y2="308.80" stroke="#ff0000" stroke-width="2.7" />
<text transform="translate(1203.60,318.90) scale(1.0562,1)" x="-2.17" y="0" style="font-size:27.18px;stroke:#ff0000;stroke-width:0.45px;fill:#ff0000">Bx (nT)</text>
<line x1="1159.60" y1="359.80" x2="1200.00" y2="359.80" stroke="#00ff00" stroke-width="2.7" />
<text transform="translate(1203.60,370.00) scale(1.0341,1)" x="-2.14" y="0" style="font-size:26.74px;stroke:#00ff00;stroke-width:0.45px;fill:#00ff00">By (nT)</text>
<line x1="1159.60" y1="411.20" x2="1200.00" y2="411.20" stroke="#0000ff" stroke-width="2.7" />
<text transform="translate(1203.60,421.40) scale(1.0395,1)" x="-2.21" y="0" style="font-size:27.62px;stroke:#0000ff;stroke-width:0.45px;fill:#0000ff">Bz (nT)</text>
<line x1="903.70" y1="513.70" x2="944.20" y2="513.70" stroke="#ff0000" stroke-width="2.7" />
<text transform="translate(946.80,523.40) scale(0.9668,1)" x="-0.70" y="0" style="font-size:28.20px;stroke:#ff0000;stroke-width:0.45px;fill:#ff0000">THE−B Bx (nT)</text>
<line x1="903.70" y1="565.00" x2="944.20" y2="565.00" stroke="#00ff00" stroke-width="2.7" />
<text transform="translate(946.80,575.10) scale(0.9615,1)" x="-0.70" y="0" style="font-size:28.20px;stroke:#00ff00;stroke-width:0.45px;fill:#00ff00">THE−B By (nT)</text>
<line x1="903.70" y1="616.10" x2="944.20" y2="616.10" stroke="#0000ff" stroke-width="2.7" />
<text transform="translate(946.80,626.20) scale(0.9748,1)" x="-0.70" y="0" style="font-size:27.91px;stroke:#0000ff;stroke-width:0.45px;fill:#0000ff">THE−B Bz (nT)</text>
<line x1="1006.30" y1="714.20" x2="1046.50" y2="714.20" stroke="#000" stroke-width="2.7" />
<text transform="translate(1048.90,723.70) scale(0.9944,1)" x="-1.27" y="0" style="font-size:28.20px;stroke:#000;stroke-width:0.45px;fill:#000">OMNI</text>
<line x1="1006.30" y1="755.10" x2="1046.50" y2="755.10" stroke="#ff0000" stroke-width="2.7" />
<text transform="translate(1048.90,765.20) scale(0.8985,1)" x="-0.72" y="0" style="font-size:28.78px;stroke:#ff0000;stroke-width:0.45px;fill:#ff0000">THE−B</text>
<circle cx="1026.7" cy="912.3" r="5" fill="#000"/>
<text transform="translate(1048.90,922.40) scale(0.9395,1)" x="-0.14" y="0" style="font-size:27.33px;stroke:#000;stroke-width:0.45px;fill:#000">ACE</text>
<line x1="1006.30" y1="939.60" x2="1046.50" y2="939.60" stroke="#0000ff" stroke-width="2.7" />
<text transform="translate(1048.90,949.70) scale(0.9466,1)" x="-1.24" y="0" style="font-size:27.62px;stroke:#0000ff;stroke-width:0.45px;fill:#0000ff">SOHO</text>
<line x1="1006.30" y1="967.00" x2="1046.50" y2="967.00" stroke="#ff0000" stroke-width="2.7" />
<text transform="translate(1048.90,977.00) scale(0.9363,1)" x="-0.69" y="0" style="font-size:27.62px;stroke:#ff0000;stroke-width:0.45px;fill:#ff0000">THE−B</text>
<circle cx="1026.7" cy="1191.5" r="5" fill="#000"/>
<text transform="translate(1048.90,1201.60) scale(0.9395,1)" x="-0.14" y="0" style="font-size:27.33px;stroke:#000;stroke-width:0.45px;fill:#000">ACE</text>
<line x1="1006.30" y1="1218.80" x2="1046.50" y2="1218.80" stroke="#0000ff" stroke-width="2.7" />
<text transform="translate(1048.90,1228.90) scale(0.9466,1)" x="-1.24" y="0" style="font-size:27.62px;stroke:#0000ff;stroke-width:0.45px;fill:#0000ff">SOHO</text>
<line x1="1006.30" y1="1246.20" x2="1046.50" y2="1246.20" stroke="#ff0000" stroke-width="2.7" />
<text transform="translate(1048.90,1256.20) scale(0.9363,1)" x="-0.69" y="0" style="font-size:27.62px;stroke:#ff0000;stroke-width:0.45px;fill:#ff0000">THE−B</text>
<line x1="1006.30" y1="1324.90" x2="1046.50" y2="1324.90" stroke="#000" stroke-width="2.7" />
<text transform="translate(1048.90,1334.60) scale(0.9496,1)" x="-0.14" y="0" style="font-size:27.03px;stroke:#000;stroke-width:0.45px;fill:#000">ACE</text>
<line x1="1006.30" y1="1352.20" x2="1046.50" y2="1352.20" stroke="#0000ff" stroke-width="2.7" />
<text transform="translate(1048.90,1362.00) scale(0.9466,1)" x="-1.24" y="0" style="font-size:27.62px;stroke:#0000ff;stroke-width:0.45px;fill:#0000ff">SOHO</text>
<line x1="1006.30" y1="1379.40" x2="1046.50" y2="1379.40" stroke="#ff0000" stroke-width="2.7" />
<text transform="translate(1048.90,1389.30) scale(0.9363,1)" x="-0.69" y="0" style="font-size:27.62px;stroke:#ff0000;stroke-width:0.45px;fill:#ff0000">THE−B</text>
<circle cx="944.6" cy="1509.4" r="5" fill="#000"/>
<text transform="translate(967.70,1519.00) scale(0.9455,1)" x="-0.13" y="0" style="font-size:26.89px;stroke:#000;stroke-width:0.45px;fill:#000">ACE</text>
<circle cx="944.6" cy="1537.1" r="5" fill="#0000ff"/>
<text transform="translate(967.70,1546.40) scale(0.9868,1)" x="-1.18" y="0" style="font-size:26.31px;stroke:#0000ff;stroke-width:0.45px;fill:#0000ff">SOHO_ACE</text>
<circle cx="944.6" cy="1564.7" r="5" fill="#ff0000"/>
<text transform="translate(967.70,1573.90) scale(0.9424,1)" x="-0.69" y="0" style="font-size:27.47px;stroke:#ff0000;stroke-width:0.45px;fill:#ff0000">THE−B</text>
</svg></body></html>
